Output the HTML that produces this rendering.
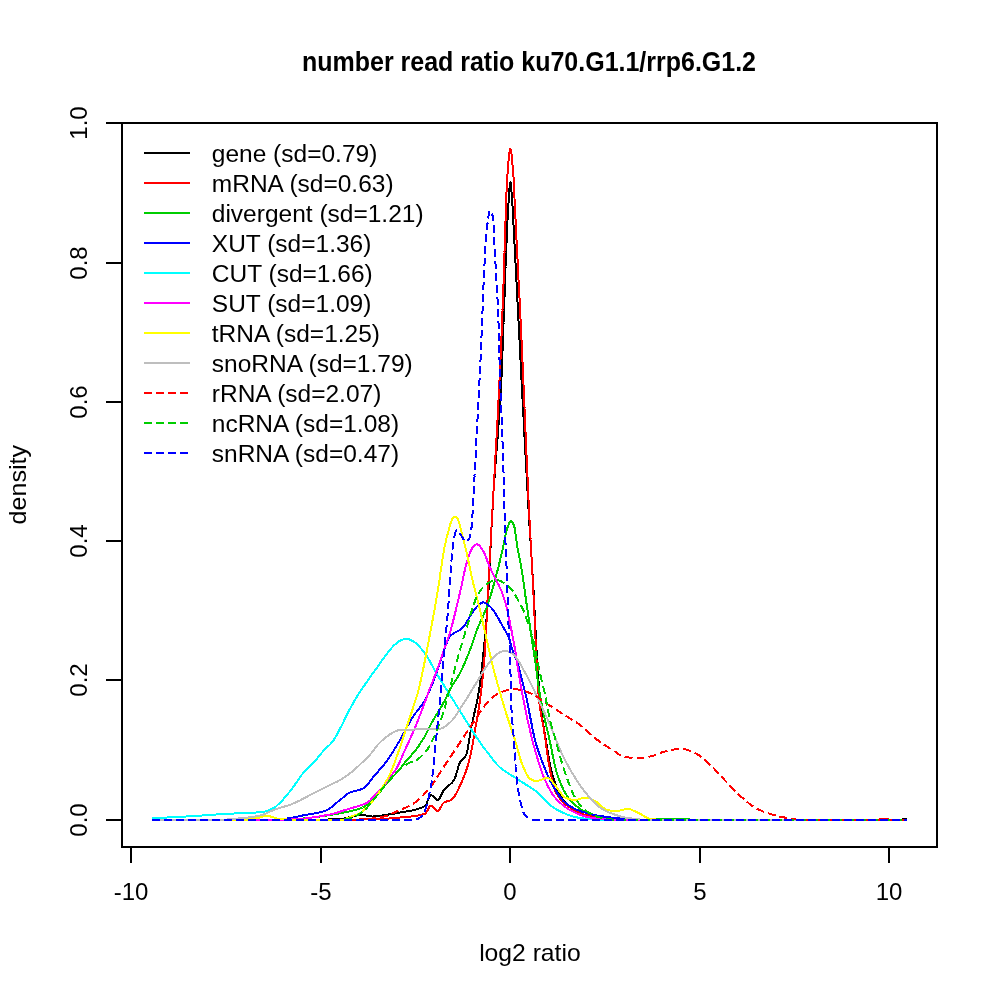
<!DOCTYPE html><html><head><meta charset="utf-8"><title>number read ratio</title><style>html,body{margin:0;padding:0;background:#fff}svg{display:block}</style></head><body><svg width="1000" height="1000" viewBox="0 0 1000 1000">
<rect width="1000" height="1000" fill="#fff"/>
<g fill="none" stroke-width="2" stroke-linejoin="round" shape-rendering="crispEdges">
<path d="M152.0 820.0 L153.5 820.0 L155.0 820.0 L156.5 820.0 L158.0 820.0 L159.5 820.0 L161.0 820.0 L162.5 820.0 L164.0 820.0 L165.5 820.0 L166.9 820.0 L168.4 820.0 L169.9 820.0 L171.4 820.0 L172.9 820.0 L174.4 820.0 L175.9 820.0 L177.4 820.0 L178.9 820.0 L180.4 820.0 L181.9 820.0 L183.4 820.0 L184.9 820.0 L186.4 820.0 L187.9 820.0 L189.4 820.0 L190.9 820.0 L192.4 820.0 L193.9 820.0 L195.4 820.0 L196.8 820.0 L198.3 820.0 L199.8 820.0 L201.3 820.0 L202.8 820.0 L204.3 820.0 L205.8 820.0 L207.3 820.0 L208.8 820.0 L210.3 820.0 L211.8 820.0 L213.3 820.0 L214.8 820.0 L216.3 820.0 L217.8 820.0 L219.3 820.0 L220.8 820.0 L222.3 820.0 L223.8 820.0 L225.3 820.0 L226.7 820.0 L228.2 820.0 L229.7 820.0 L231.2 820.0 L232.7 820.0 L234.2 820.0 L235.7 820.0 L237.2 820.0 L238.7 820.0 L240.2 820.0 L241.7 820.0 L243.2 820.0 L244.7 820.0 L246.2 820.0 L247.7 820.0 L249.2 820.0 L250.7 820.0 L252.2 820.0 L253.7 820.0 L255.2 820.0 L256.6 820.0 L258.1 820.0 L259.6 820.0 L261.1 820.0 L262.6 820.0 L264.1 820.0 L265.6 820.0 L267.1 820.0 L268.6 820.0 L270.1 820.0 L271.6 820.0 L273.1 820.0 L274.6 820.0 L276.1 820.0 L277.6 820.0 L279.1 820.0 L280.6 820.0 L282.1 820.0 L283.6 820.0 L285.1 820.0 L286.5 820.0 L288.0 820.0 L289.5 820.0 L291.0 820.0 L292.5 820.0 L294.0 820.0 L295.5 820.0 L297.0 820.0 L298.5 820.0 L300.0 820.0 L301.5 820.0 L303.0 820.0 L304.4 820.0 L305.9 820.0 L307.4 820.0 L308.9 819.9 L310.4 819.9 L311.9 819.9 L313.3 819.9 L314.8 819.9 L316.3 819.8 L317.8 819.8 L319.3 819.8 L320.7 819.7 L322.2 819.7 L323.7 819.6 L325.2 819.6 L326.7 819.5 L328.1 819.5 L329.6 819.4 L331.1 819.4 L332.6 819.3 L334.1 819.3 L335.6 819.2 L337.0 819.1 L338.5 819.1 L340.0 819.0 L341.5 818.9 L342.9 818.7 L344.4 818.5 L345.9 818.1 L347.3 817.8 L348.8 817.4 L350.3 817.1 L351.7 816.7 L353.2 816.3 L354.7 816.0 L356.1 815.6 L357.6 815.4 L359.1 815.2 L360.5 815.0 L362.0 815.0 L363.4 815.1 L364.9 815.3 L366.3 815.6 L367.7 815.9 L369.1 816.2 L370.6 816.4 L372.0 816.5 L373.4 816.5 L374.9 816.4 L376.3 816.2 L377.8 816.1 L379.2 815.9 L380.7 815.7 L382.1 815.4 L383.6 815.2 L385.0 815.0 L386.5 814.8 L388.0 814.6 L389.5 814.3 L391.0 814.1 L392.5 813.9 L394.0 813.6 L395.5 813.4 L397.0 813.1 L398.5 812.8 L400.0 812.5 L401.5 812.2 L402.9 812.0 L404.4 811.7 L405.9 811.5 L407.4 811.2 L408.8 811.0 L410.3 810.7 L411.8 810.5 L413.2 810.2 L414.7 809.8 L416.2 809.4 L417.6 809.0 L419.1 808.5 L420.6 808.0 L422.1 807.4 L423.5 806.7 L425.0 806.0 L425.8 805.2 L426.5 803.8 L427.2 802.0 L428.0 800.1 L428.8 798.2 L429.5 796.6 L430.2 795.4 L431.0 795.0 L432.3 795.5 L433.6 796.8 L434.9 798.2 L436.2 799.5 L437.5 800.0 L438.4 799.6 L439.4 798.5 L440.3 796.9 L441.2 795.1 L442.1 793.1 L443.1 791.4 L444.0 790.0 L445.4 788.4 L446.9 787.1 L448.3 786.0 L449.7 784.8 L451.1 783.5 L452.6 782.0 L454.0 780.0 L454.5 779.1 L455.0 777.9 L455.5 776.5 L456.0 774.9 L456.5 773.2 L457.0 771.4 L457.5 769.7 L458.0 768.0 L458.5 766.3 L459.0 764.8 L459.5 763.5 L460.0 762.5 L461.1 760.9 L462.2 759.7 L463.2 758.6 L464.3 757.5 L465.4 756.1 L466.5 754.0 L466.8 753.2 L467.1 752.1 L467.3 750.7 L467.6 749.2 L467.9 747.5 L468.2 745.8 L468.5 744.1 L468.8 742.5 L469.0 741.1 L469.2 739.6 L469.5 738.0 L469.8 736.5 L470.0 734.9 L470.2 733.4 L470.5 731.8 L470.8 730.4 L471.0 729.0 L471.3 727.3 L471.6 725.7 L472.0 724.2 L472.3 722.7 L472.6 721.2 L472.9 719.7 L473.2 718.3 L473.5 716.8 L473.9 715.4 L474.2 714.0 L474.5 712.5 L474.8 711.0 L475.2 709.6 L475.5 708.1 L475.8 706.7 L476.2 705.3 L476.5 703.8 L476.8 702.3 L477.2 700.7 L477.5 699.0 L477.7 697.7 L478.0 696.4 L478.2 695.1 L478.4 693.7 L478.7 692.2 L478.9 690.8 L479.1 689.2 L479.4 687.7 L479.6 686.1 L479.8 684.4 L480.1 682.7 L480.3 681.0 L480.5 679.8 L480.6 678.5 L480.8 677.2 L480.9 675.9 L481.1 674.6 L481.3 673.2 L481.4 671.8 L481.6 670.3 L481.8 668.9 L481.9 667.4 L482.1 665.9 L482.2 664.4 L482.4 662.9 L482.6 661.3 L482.7 659.8 L482.9 658.2 L483.0 656.6 L483.2 655.0 L483.3 653.7 L483.5 652.4 L483.6 651.0 L483.7 649.7 L483.9 648.4 L484.0 647.0 L484.1 645.7 L484.3 644.3 L484.4 643.0 L484.5 641.6 L484.7 640.2 L484.8 638.8 L484.9 637.4 L485.1 635.9 L485.2 634.5 L485.3 633.0 L485.5 631.5 L485.6 630.0 L485.7 628.5 L485.9 627.0 L486.0 625.4 L486.1 623.8 L486.3 622.2 L486.4 620.5 L486.5 618.9 L486.7 617.1 L486.8 615.4 L486.9 613.6 L487.1 611.8 L487.2 610.0 L487.3 608.9 L487.4 607.8 L487.4 606.6 L487.5 605.4 L487.6 604.2 L487.7 603.0 L487.7 601.8 L487.8 600.5 L487.9 599.2 L488.0 597.9 L488.1 596.5 L488.1 595.2 L488.2 593.8 L488.3 592.4 L488.4 591.0 L488.5 589.6 L488.5 588.2 L488.6 586.7 L488.7 585.2 L488.8 583.7 L488.8 582.2 L488.9 580.7 L489.0 579.2 L489.1 577.7 L489.2 576.1 L489.2 574.6 L489.3 573.0 L489.4 571.4 L489.5 569.8 L489.6 568.2 L489.6 566.6 L489.7 565.0 L489.8 563.4 L489.9 561.8 L489.9 560.2 L490.0 558.5 L490.1 556.9 L490.2 555.3 L490.3 553.6 L490.3 552.0 L490.4 550.4 L490.5 548.7 L490.6 547.1 L490.6 545.4 L490.7 543.8 L490.8 542.2 L490.9 540.5 L491.0 538.9 L491.0 537.3 L491.1 535.7 L491.2 534.1 L491.3 532.5 L491.4 530.9 L491.4 529.3 L491.5 527.7 L491.6 526.1 L491.7 524.5 L491.7 523.0 L491.8 521.4 L491.9 519.9 L492.0 518.4 L492.1 516.9 L492.1 515.4 L492.2 513.9 L492.3 512.4 L492.4 511.0 L492.5 509.6 L492.5 508.1 L492.6 506.7 L492.7 505.3 L492.8 504.0 L492.8 502.6 L492.9 501.3 L493.0 500.0 L493.1 498.3 L493.2 496.6 L493.3 495.0 L493.4 493.3 L493.5 491.7 L493.6 490.1 L493.7 488.5 L493.8 487.0 L493.9 485.4 L494.0 483.9 L494.1 482.4 L494.2 480.9 L494.3 479.5 L494.5 478.0 L494.6 476.6 L494.7 475.1 L494.8 473.7 L494.9 472.3 L495.0 470.9 L495.1 469.6 L495.2 468.2 L495.3 466.8 L495.4 465.5 L495.5 464.1 L495.6 462.8 L495.7 461.5 L495.8 460.2 L495.9 458.8 L496.0 457.5 L496.1 456.2 L496.2 454.9 L496.3 453.6 L496.4 452.3 L496.5 451.0 L496.6 449.7 L496.7 448.4 L496.8 447.1 L496.9 445.8 L497.0 444.5 L497.1 443.2 L497.3 441.8 L497.4 440.5 L497.5 439.2 L497.6 437.9 L497.7 436.5 L497.8 435.2 L497.9 433.8 L498.0 432.5 L498.1 431.1 L498.2 429.7 L498.3 428.3 L498.4 426.9 L498.5 425.5 L498.6 424.1 L498.7 422.6 L498.8 421.2 L498.9 419.7 L499.0 418.2 L499.1 416.7 L499.2 415.2 L499.3 413.6 L499.4 412.1 L499.5 410.5 L499.6 408.9 L499.7 407.3 L499.8 405.6 L500.0 404.0 L500.1 402.3 L500.2 400.6 L500.3 398.8 L500.4 397.1 L500.5 395.3 L500.6 393.5 L500.7 391.6 L500.8 389.8 L500.9 387.9 L501.0 386.0 L501.1 384.0 L501.2 382.0 L501.3 380.0 L501.4 378.9 L501.4 377.7 L501.5 376.5 L501.5 375.3 L501.6 374.1 L501.6 372.8 L501.7 371.5 L501.8 370.2 L501.8 368.8 L501.9 367.5 L501.9 366.1 L502.0 364.7 L502.0 363.2 L502.1 361.8 L502.2 360.3 L502.2 358.8 L502.3 357.3 L502.3 355.8 L502.4 354.3 L502.4 352.8 L502.5 351.2 L502.6 349.7 L502.6 348.1 L502.7 346.5 L502.7 345.0 L502.8 343.4 L502.8 341.8 L502.9 340.2 L502.9 338.6 L503.0 337.0 L503.1 335.4 L503.1 333.8 L503.2 332.2 L503.2 330.6 L503.3 329.0 L503.3 327.4 L503.4 325.8 L503.5 324.3 L503.5 322.7 L503.6 321.1 L503.6 319.6 L503.7 318.0 L503.7 316.5 L503.8 315.0 L503.9 313.5 L503.9 312.1 L504.0 310.6 L504.0 309.1 L504.1 307.6 L504.1 306.1 L504.2 304.6 L504.2 303.1 L504.3 301.6 L504.3 300.0 L504.4 298.5 L504.5 297.0 L504.5 295.4 L504.6 293.9 L504.6 292.3 L504.7 290.8 L504.7 289.2 L504.8 287.7 L504.8 286.1 L504.9 284.6 L504.9 283.1 L505.0 281.5 L505.1 280.0 L505.1 278.5 L505.2 276.9 L505.2 275.4 L505.3 273.9 L505.3 272.4 L505.4 270.9 L505.4 269.4 L505.5 267.9 L505.5 266.5 L505.6 265.0 L505.7 263.6 L505.7 262.2 L505.8 260.7 L505.8 259.3 L505.9 258.0 L505.9 256.6 L506.0 255.2 L506.0 253.9 L506.1 252.6 L506.1 251.3 L506.2 250.0 L506.3 248.3 L506.3 246.6 L506.4 244.9 L506.5 243.2 L506.6 241.5 L506.6 239.8 L506.7 238.1 L506.8 236.4 L506.9 234.8 L506.9 233.1 L507.0 231.5 L507.1 229.9 L507.2 228.3 L507.2 226.7 L507.3 225.1 L507.4 223.6 L507.4 222.1 L507.5 220.6 L507.6 219.1 L507.7 217.7 L507.7 216.2 L507.8 214.8 L507.9 213.5 L508.0 212.2 L508.0 210.9 L508.1 209.6 L508.2 208.4 L508.3 207.2 L508.3 206.1 L508.4 205.0 L508.5 203.1 L508.6 201.2 L508.8 199.2 L508.9 197.3 L509.0 195.3 L509.1 193.4 L509.3 191.6 L509.4 189.8 L509.5 188.2 L509.6 186.7 L509.8 185.4 L509.9 184.2 L510.0 183.3 L510.1 182.6 L510.3 182.2 L510.4 182.0 L510.5 182.2 L510.6 182.6 L510.8 183.3 L510.9 184.3 L511.0 185.4 L511.1 186.8 L511.3 188.3 L511.4 190.0 L511.5 191.7 L511.6 193.6 L511.8 195.5 L511.9 197.4 L512.0 199.4 L512.1 201.3 L512.3 203.2 L512.4 205.0 L512.5 206.2 L512.6 207.4 L512.6 208.6 L512.7 209.9 L512.8 211.2 L512.9 212.6 L513.0 214.0 L513.0 215.4 L513.1 216.9 L513.2 218.3 L513.3 219.8 L513.4 221.4 L513.4 222.9 L513.5 224.5 L513.6 226.1 L513.7 227.7 L513.8 229.3 L513.8 230.9 L513.9 232.5 L514.0 234.1 L514.1 235.7 L514.2 237.4 L514.2 239.0 L514.3 240.6 L514.4 242.2 L514.5 243.8 L514.6 245.4 L514.6 246.9 L514.7 248.5 L514.8 250.0 L514.9 251.5 L515.0 252.9 L515.0 254.4 L515.1 255.9 L515.2 257.3 L515.3 258.8 L515.3 260.2 L515.4 261.7 L515.5 263.2 L515.6 264.6 L515.6 266.1 L515.7 267.6 L515.8 269.0 L515.9 270.5 L516.0 272.0 L516.0 273.5 L516.1 274.9 L516.2 276.4 L516.3 277.9 L516.3 279.3 L516.4 280.8 L516.5 282.3 L516.6 283.8 L516.7 285.2 L516.7 286.7 L516.8 288.2 L516.9 289.7 L517.0 291.2 L517.0 292.6 L517.1 294.1 L517.2 295.6 L517.3 297.1 L517.4 298.6 L517.4 300.1 L517.5 301.6 L517.6 303.0 L517.7 304.5 L517.7 306.0 L517.8 307.5 L517.9 309.0 L518.0 310.5 L518.0 312.0 L518.1 313.5 L518.2 315.0 L518.3 316.5 L518.4 317.9 L518.4 319.4 L518.5 320.9 L518.6 322.3 L518.7 323.8 L518.7 325.3 L518.8 326.8 L518.9 328.2 L519.0 329.7 L519.0 331.2 L519.1 332.7 L519.2 334.2 L519.2 335.7 L519.3 337.2 L519.4 338.7 L519.5 340.1 L519.6 341.6 L519.6 343.1 L519.7 344.6 L519.8 346.1 L519.9 347.6 L519.9 349.1 L520.0 350.6 L520.1 352.1 L520.1 353.6 L520.2 355.1 L520.3 356.6 L520.4 358.0 L520.5 359.5 L520.5 361.0 L520.6 362.5 L520.7 364.0 L520.8 365.4 L520.8 366.9 L520.9 368.4 L521.0 369.9 L521.0 371.3 L521.1 372.8 L521.2 374.2 L521.3 375.7 L521.4 377.1 L521.4 378.6 L521.5 380.0 L521.6 381.6 L521.7 383.1 L521.7 384.7 L521.8 386.2 L521.9 387.8 L522.0 389.3 L522.1 390.9 L522.1 392.4 L522.2 394.0 L522.3 395.5 L522.4 397.0 L522.5 398.6 L522.6 400.1 L522.6 401.7 L522.7 403.2 L522.8 404.8 L522.9 406.3 L523.0 407.8 L523.0 409.4 L523.1 410.9 L523.2 412.4 L523.3 414.0 L523.4 415.5 L523.5 417.0 L523.5 418.6 L523.6 420.1 L523.7 421.6 L523.8 423.1 L523.9 424.7 L523.9 426.2 L524.0 427.7 L524.1 429.2 L524.2 430.7 L524.3 432.3 L524.3 433.8 L524.4 435.3 L524.5 436.8 L524.6 438.3 L524.7 439.8 L524.8 441.3 L524.8 442.8 L524.9 444.3 L525.0 445.8 L525.1 447.3 L525.2 448.8 L525.2 450.3 L525.3 451.8 L525.4 453.3 L525.5 454.8 L525.6 456.3 L525.6 457.8 L525.7 459.3 L525.8 460.7 L525.9 462.2 L526.0 463.7 L526.0 465.2 L526.1 466.7 L526.2 468.1 L526.3 469.6 L526.4 471.1 L526.5 472.5 L526.5 474.0 L526.6 475.5 L526.7 476.9 L526.8 478.4 L526.9 479.8 L526.9 481.3 L527.0 482.8 L527.1 484.2 L527.2 485.7 L527.3 487.1 L527.4 488.5 L527.4 490.0 L527.5 491.4 L527.6 492.9 L527.7 494.3 L527.8 495.7 L527.8 497.2 L527.9 498.6 L528.0 500.0 L528.1 501.6 L528.2 503.1 L528.3 504.7 L528.4 506.2 L528.4 507.7 L528.5 509.3 L528.6 510.8 L528.7 512.3 L528.8 513.8 L528.9 515.3 L529.0 516.8 L529.1 518.2 L529.2 519.7 L529.3 521.2 L529.3 522.7 L529.4 524.1 L529.5 525.6 L529.6 527.0 L529.7 528.5 L529.8 529.9 L529.9 531.4 L530.0 532.8 L530.1 534.3 L530.1 535.7 L530.2 537.1 L530.3 538.6 L530.4 540.0 L530.5 541.4 L530.6 542.9 L530.7 544.3 L530.8 545.7 L530.9 547.2 L531.0 548.6 L531.0 550.0 L531.1 551.5 L531.2 552.9 L531.3 554.4 L531.4 555.8 L531.5 557.2 L531.6 558.7 L531.7 560.1 L531.8 561.6 L531.9 563.0 L531.9 564.5 L532.0 566.0 L532.1 567.4 L532.2 568.9 L532.3 570.4 L532.4 571.9 L532.5 573.4 L532.6 574.9 L532.7 576.4 L532.7 577.9 L532.8 579.4 L532.9 581.0 L533.0 582.5 L533.1 584.0 L533.2 585.6 L533.3 587.2 L533.4 588.7 L533.5 590.3 L533.6 591.9 L533.6 593.5 L533.7 595.1 L533.8 596.7 L533.9 598.4 L534.0 600.0 L534.1 601.4 L534.1 602.8 L534.2 604.2 L534.3 605.6 L534.4 607.1 L534.4 608.6 L534.5 610.0 L534.6 611.6 L534.7 613.1 L534.7 614.6 L534.8 616.2 L534.9 617.7 L535.0 619.3 L535.0 620.8 L535.1 622.4 L535.2 623.9 L535.2 625.5 L535.3 627.1 L535.4 628.6 L535.5 630.1 L535.5 631.7 L535.6 633.2 L535.7 634.7 L535.8 636.2 L535.8 637.7 L535.9 639.2 L536.0 640.6 L536.1 642.0 L536.1 643.4 L536.2 644.8 L536.3 646.1 L536.4 647.5 L536.4 648.7 L536.5 650.0 L536.6 651.7 L536.7 653.5 L536.8 655.2 L536.9 656.9 L537.0 658.6 L537.1 660.3 L537.2 662.0 L537.3 663.7 L537.4 665.4 L537.5 667.0 L537.6 668.7 L537.7 670.3 L537.8 671.9 L537.9 673.5 L538.0 675.1 L538.1 676.6 L538.2 678.2 L538.4 679.7 L538.5 681.2 L538.6 682.6 L538.7 684.1 L538.8 685.5 L538.9 686.9 L539.0 688.2 L539.1 689.6 L539.2 690.9 L539.3 692.1 L539.4 693.4 L539.5 694.6 L539.6 695.7 L539.7 696.9 L539.8 697.9 L539.9 699.0 L540.0 700.0 L540.2 702.0 L540.4 703.9 L540.6 705.7 L540.8 707.4 L541.0 709.1 L541.2 710.8 L541.5 712.4 L541.7 713.9 L541.9 715.4 L542.1 716.9 L542.3 718.3 L542.5 719.7 L542.7 721.0 L542.9 722.4 L543.1 723.7 L543.3 725.0 L543.5 726.2 L543.8 727.5 L544.0 728.7 L544.2 730.0 L544.4 731.2 L544.6 732.5 L544.8 733.7 L545.0 735.0 L545.3 736.7 L545.6 738.4 L545.8 740.1 L546.1 741.8 L546.4 743.5 L546.7 745.2 L546.9 746.9 L547.2 748.6 L547.5 750.3 L547.8 751.9 L548.1 753.6 L548.3 755.2 L548.6 756.8 L548.9 758.3 L549.2 759.9 L549.4 761.4 L549.7 762.8 L550.0 764.3 L550.3 765.7 L550.6 767.0 L550.8 768.3 L551.1 769.6 L551.4 770.8 L551.7 771.9 L551.9 773.0 L552.2 774.0 L552.5 775.0 L553.1 777.1 L553.8 779.1 L554.4 781.0 L555.0 782.9 L555.6 784.7 L556.2 786.4 L556.9 788.0 L557.5 789.6 L558.1 791.1 L558.8 792.4 L559.4 793.8 L560.0 795.0 L560.6 796.1 L561.2 797.2 L561.9 798.1 L562.5 799.0 L563.9 800.7 L565.3 802.3 L566.7 803.7 L568.1 805.0 L569.4 806.2 L570.8 807.3 L572.2 808.3 L573.6 809.2 L575.0 810.0 L576.5 810.9 L578.0 811.7 L579.5 812.5 L581.0 813.2 L582.5 813.9 L584.0 814.6 L585.5 815.1 L587.0 815.7 L588.5 816.1 L590.0 816.5 L591.4 816.8 L592.9 817.1 L594.3 817.4 L595.7 817.7 L597.1 818.0 L598.6 818.2 L600.0 818.5 L601.4 818.7 L602.9 818.9 L604.3 819.0 L605.7 819.2 L607.1 819.3 L608.6 819.4 L610.0 819.5 L611.4 819.6 L612.9 819.6 L614.3 819.7 L615.7 819.7 L617.1 819.8 L618.6 819.8 L620.0 819.9 L621.4 819.9 L622.9 819.9 L624.3 820.0 L625.7 820.0 L627.1 820.0 L628.6 820.0 L630.0 820.0 L631.5 820.0 L633.0 820.0 L634.5 820.0 L636.0 820.0 L637.5 820.0 L639.0 820.0 L640.5 820.0 L642.0 820.0 L643.5 820.0 L645.0 820.0 L646.5 820.0 L648.0 820.0 L649.5 820.0 L651.0 820.0 L652.5 820.0 L654.0 820.0 L655.5 820.0 L657.0 820.0 L658.4 820.0 L659.9 820.0 L661.4 820.0 L662.9 820.0 L664.4 820.0 L665.9 820.0 L667.4 820.0 L668.9 820.0 L670.4 820.0 L671.9 820.0 L673.4 820.0 L674.9 820.0 L676.4 820.0 L677.9 820.0 L679.4 820.0 L680.9 820.0 L682.4 820.0 L683.9 820.0 L685.4 820.0 L686.9 820.0 L688.4 820.0 L689.9 820.0 L691.4 820.0 L692.9 820.0 L694.4 820.0 L695.9 820.0 L697.4 820.0 L698.9 820.0 L700.4 820.0 L701.9 820.0 L703.4 820.0 L704.9 820.0 L706.4 820.0 L707.9 820.0 L709.4 820.0 L710.9 820.0 L712.3 820.0 L713.8 820.0 L715.3 820.0 L716.8 820.0 L718.3 820.0 L719.8 820.0 L721.3 820.0 L722.8 820.0 L724.3 820.0 L725.8 820.0 L727.3 820.0 L728.8 820.0 L730.3 820.0 L731.8 820.0 L733.3 820.0 L734.8 820.0 L736.3 820.0 L737.8 820.0 L739.3 820.0 L740.8 820.0 L742.3 820.0 L743.8 820.0 L745.3 820.0 L746.8 820.0 L748.3 820.0 L749.8 820.0 L751.3 820.0 L752.8 820.0 L754.3 820.0 L755.8 820.0 L757.3 820.0 L758.8 820.0 L760.3 820.0 L761.8 820.0 L763.3 820.0 L764.8 820.0 L766.2 820.0 L767.7 820.0 L769.2 820.0 L770.7 820.0 L772.2 820.0 L773.7 820.0 L775.2 820.0 L776.7 820.0 L778.2 820.0 L779.7 820.0 L781.2 820.0 L782.7 820.0 L784.2 820.0 L785.7 820.0 L787.2 820.0 L788.7 820.0 L790.2 820.0 L791.7 820.0 L793.2 820.0 L794.7 820.0 L796.2 820.0 L797.7 820.0 L799.2 820.0 L800.7 820.0 L802.2 820.0 L803.7 820.0 L805.2 820.0 L806.7 820.0 L808.2 820.0 L809.7 820.0 L811.2 820.0 L812.7 820.0 L814.2 820.0 L815.7 820.0 L817.2 820.0 L818.7 820.0 L820.1 820.0 L821.6 820.0 L823.1 820.0 L824.6 820.0 L826.1 820.0 L827.6 820.0 L829.1 820.0 L830.6 820.0 L832.1 820.0 L833.6 820.0 L835.1 820.0 L836.6 820.0 L838.1 820.0 L839.6 820.0 L841.1 820.0 L842.6 820.0 L844.1 820.0 L845.6 820.0 L847.1 820.0 L848.6 820.0 L850.1 820.0 L851.6 820.0 L853.1 820.0 L854.6 820.0 L856.1 820.0 L857.6 820.0 L859.1 820.0 L860.6 820.0 L862.1 820.0 L863.6 820.0 L865.1 820.0 L866.6 820.0 L868.1 820.0 L869.6 820.0 L871.1 820.0 L872.6 820.0 L874.0 820.0 L875.5 820.0 L877.0 820.0 L878.5 820.0 L880.0 820.0 L881.5 820.0 L883.0 820.0 L884.5 820.0 L886.0 820.0 L887.5 820.0 L889.0 820.0 L890.5 820.0 L892.0 820.0 L893.5 820.0 L895.0 820.0 L896.5 820.0 L898.0 820.0 L899.5 820.0 L901.0 820.0 L902.0 819.5 L903.0 819.0 L904.3 819.0 L905.7 819.0 L907.0 819.0" stroke="#000000"/>
<path d="M152.0 820.0 L153.5 820.0 L155.0 820.0 L156.5 820.0 L158.0 820.0 L159.5 820.0 L161.0 820.0 L162.5 820.0 L164.0 820.0 L165.5 820.0 L166.9 820.0 L168.4 820.0 L169.9 820.0 L171.4 820.0 L172.9 820.0 L174.4 820.0 L175.9 820.0 L177.4 820.0 L178.9 820.0 L180.4 820.0 L181.9 820.0 L183.4 820.0 L184.9 820.0 L186.4 820.0 L187.9 820.0 L189.4 820.0 L190.9 820.0 L192.4 820.0 L193.9 820.0 L195.4 820.0 L196.8 820.0 L198.3 820.0 L199.8 820.0 L201.3 820.0 L202.8 820.0 L204.3 820.0 L205.8 820.0 L207.3 820.0 L208.8 820.0 L210.3 820.0 L211.8 820.0 L213.3 820.0 L214.8 820.0 L216.3 820.0 L217.8 820.0 L219.3 820.0 L220.8 820.0 L222.3 820.0 L223.8 820.0 L225.3 820.0 L226.7 820.0 L228.2 820.0 L229.7 820.0 L231.2 820.0 L232.7 820.0 L234.2 820.0 L235.7 820.0 L237.2 820.0 L238.7 820.0 L240.2 820.0 L241.7 820.0 L243.2 820.0 L244.7 820.0 L246.2 820.0 L247.7 820.0 L249.2 820.0 L250.7 820.0 L252.2 820.0 L253.7 820.0 L255.2 820.0 L256.6 820.0 L258.1 820.0 L259.6 820.0 L261.1 820.0 L262.6 820.0 L264.1 820.0 L265.6 820.0 L267.1 820.0 L268.6 820.0 L270.1 820.0 L271.6 820.0 L273.1 820.0 L274.6 820.0 L276.1 820.0 L277.6 820.0 L279.1 820.0 L280.6 820.0 L282.1 820.0 L283.6 820.0 L285.1 820.0 L286.5 820.0 L288.0 820.0 L289.5 820.0 L291.0 820.0 L292.5 820.0 L294.0 820.0 L295.5 820.0 L297.0 820.0 L298.5 820.0 L300.0 820.0 L301.5 820.0 L303.0 820.0 L304.4 820.0 L305.9 820.0 L307.4 820.0 L308.9 820.0 L310.4 820.0 L311.9 820.0 L313.3 820.0 L314.8 820.0 L316.3 820.0 L317.8 820.0 L319.3 819.9 L320.7 819.9 L322.2 819.9 L323.7 819.9 L325.2 819.9 L326.7 819.9 L328.1 819.9 L329.6 819.9 L331.1 819.8 L332.6 819.8 L334.1 819.8 L335.6 819.8 L337.0 819.8 L338.5 819.8 L340.0 819.8 L341.5 819.7 L343.0 819.7 L344.4 819.7 L345.9 819.7 L347.4 819.6 L348.9 819.6 L350.4 819.6 L351.9 819.6 L353.3 819.6 L354.8 819.5 L356.3 819.5 L357.8 819.5 L359.3 819.5 L360.7 819.4 L362.2 819.4 L363.7 819.4 L365.2 819.3 L366.7 819.3 L368.1 819.3 L369.6 819.2 L371.1 819.2 L372.6 819.2 L374.1 819.1 L375.6 819.1 L377.0 819.1 L378.5 819.0 L380.0 819.0 L381.4 819.0 L382.9 818.9 L384.3 818.8 L385.7 818.7 L387.1 818.7 L388.6 818.5 L390.0 818.4 L391.4 818.3 L392.9 818.2 L394.3 818.1 L395.7 817.9 L397.1 817.8 L398.6 817.6 L400.0 817.5 L401.5 817.4 L402.9 817.2 L404.4 817.1 L405.9 817.0 L407.4 816.8 L408.8 816.7 L410.3 816.6 L411.8 816.4 L413.2 816.2 L414.7 816.0 L416.2 815.8 L417.6 815.6 L419.1 815.3 L420.6 815.0 L422.1 814.6 L423.5 814.2 L425.0 813.8 L426.0 812.9 L427.0 811.3 L428.0 809.4 L429.0 807.5 L430.0 806.1 L431.0 805.5 L432.3 806.1 L433.6 807.4 L434.9 809.1 L436.2 810.4 L437.5 811.0 L438.6 810.5 L439.7 809.1 L440.8 807.2 L441.8 805.2 L442.9 803.6 L444.0 802.5 L445.4 801.9 L446.8 801.4 L448.2 801.1 L449.6 800.6 L451.0 800.0 L451.8 799.4 L452.6 798.7 L453.5 797.7 L454.3 796.6 L455.1 795.3 L455.9 793.9 L456.8 792.4 L457.6 790.8 L458.4 789.1 L459.2 787.3 L460.0 785.5 L460.9 783.7 L461.7 781.9 L462.5 780.0 L463.0 778.9 L463.5 777.7 L464.0 776.5 L464.5 775.2 L465.0 773.9 L465.5 772.5 L466.0 771.1 L466.5 769.6 L467.0 768.1 L467.5 766.5 L468.0 764.8 L468.5 763.1 L469.0 761.3 L469.5 759.4 L470.0 757.5 L470.3 756.4 L470.5 755.3 L470.8 754.0 L471.1 752.8 L471.3 751.4 L471.6 750.0 L471.8 748.6 L472.1 747.1 L472.4 745.6 L472.6 744.1 L472.9 742.5 L473.2 741.0 L473.4 739.4 L473.7 737.8 L473.9 736.2 L474.2 734.6 L474.5 733.1 L474.7 731.5 L475.0 730.0 L475.2 728.6 L475.5 727.2 L475.8 725.8 L476.0 724.4 L476.2 723.0 L476.5 721.7 L476.8 720.3 L477.0 718.9 L477.2 717.5 L477.5 716.1 L477.8 714.7 L478.0 713.2 L478.2 711.7 L478.5 710.2 L478.8 708.6 L479.0 707.0 L479.2 705.3 L479.5 703.6 L479.8 701.8 L480.0 700.0 L480.1 698.9 L480.3 697.8 L480.4 696.6 L480.6 695.5 L480.7 694.3 L480.9 693.2 L481.0 692.0 L481.2 690.8 L481.3 689.5 L481.5 688.3 L481.6 687.0 L481.8 685.8 L481.9 684.4 L482.1 683.1 L482.2 681.8 L482.4 680.4 L482.5 679.0 L482.6 677.5 L482.8 676.1 L482.9 674.6 L483.1 673.1 L483.2 671.5 L483.4 669.9 L483.5 668.3 L483.7 666.6 L483.8 664.9 L484.0 663.2 L484.1 661.4 L484.3 659.6 L484.4 657.8 L484.6 655.9 L484.7 654.0 L484.9 652.0 L485.0 650.0 L485.1 649.0 L485.1 647.9 L485.2 646.7 L485.3 645.5 L485.4 644.3 L485.4 643.0 L485.5 641.6 L485.6 640.3 L485.7 638.9 L485.7 637.4 L485.8 636.0 L485.9 634.5 L486.0 632.9 L486.0 631.4 L486.1 629.8 L486.2 628.3 L486.2 626.7 L486.3 625.1 L486.4 623.4 L486.5 621.8 L486.5 620.2 L486.6 618.6 L486.7 617.0 L486.8 615.3 L486.8 613.7 L486.9 612.1 L487.0 610.5 L487.1 609.0 L487.1 607.4 L487.2 605.9 L487.3 604.4 L487.4 602.9 L487.4 601.4 L487.5 600.0 L487.6 598.4 L487.7 596.9 L487.7 595.3 L487.8 593.7 L487.9 592.2 L488.0 590.7 L488.1 589.1 L488.2 587.6 L488.2 586.0 L488.3 584.5 L488.4 583.0 L488.5 581.5 L488.6 579.9 L488.6 578.4 L488.7 576.9 L488.8 575.4 L488.9 573.9 L489.0 572.4 L489.1 570.9 L489.1 569.4 L489.2 567.9 L489.3 566.4 L489.4 564.9 L489.5 563.4 L489.6 562.0 L489.6 560.5 L489.7 559.0 L489.8 557.5 L489.9 556.0 L490.0 554.6 L490.0 553.1 L490.1 551.6 L490.2 550.2 L490.3 548.7 L490.4 547.2 L490.5 545.7 L490.5 544.3 L490.6 542.8 L490.7 541.3 L490.8 539.9 L490.9 538.4 L490.9 537.0 L491.0 535.5 L491.1 534.0 L491.2 532.6 L491.3 531.1 L491.4 529.6 L491.4 528.2 L491.5 526.7 L491.6 525.2 L491.7 523.7 L491.8 522.3 L491.9 520.8 L491.9 519.3 L492.0 517.9 L492.1 516.4 L492.2 514.9 L492.3 513.4 L492.3 511.9 L492.4 510.5 L492.5 509.0 L492.6 507.5 L492.7 506.0 L492.8 504.5 L492.8 503.0 L492.9 501.5 L493.0 500.0 L493.1 498.5 L493.2 497.0 L493.2 495.6 L493.3 494.1 L493.4 492.6 L493.5 491.1 L493.6 489.7 L493.6 488.2 L493.7 486.8 L493.8 485.3 L493.9 483.9 L494.0 482.4 L494.1 481.0 L494.1 479.5 L494.2 478.1 L494.3 476.6 L494.4 475.2 L494.5 473.7 L494.5 472.3 L494.6 470.9 L494.7 469.4 L494.8 468.0 L494.9 466.6 L494.9 465.1 L495.0 463.7 L495.1 462.3 L495.2 460.8 L495.3 459.4 L495.4 458.0 L495.4 456.5 L495.5 455.1 L495.6 453.6 L495.7 452.2 L495.8 450.8 L495.8 449.3 L495.9 447.9 L496.0 446.4 L496.1 445.0 L496.2 443.5 L496.2 442.1 L496.3 440.6 L496.4 439.2 L496.5 437.7 L496.6 436.2 L496.7 434.8 L496.7 433.3 L496.8 431.8 L496.9 430.4 L497.0 428.9 L497.1 427.4 L497.1 425.9 L497.2 424.4 L497.3 422.9 L497.4 421.4 L497.5 419.9 L497.6 418.4 L497.6 416.9 L497.7 415.3 L497.8 413.8 L497.9 412.3 L498.0 410.7 L498.0 409.2 L498.1 407.6 L498.2 406.0 L498.3 404.5 L498.4 402.9 L498.4 401.3 L498.5 399.7 L498.6 398.1 L498.7 396.5 L498.8 394.9 L498.9 393.3 L498.9 391.7 L499.0 390.0 L499.1 388.4 L499.2 386.7 L499.3 385.0 L499.3 383.4 L499.4 381.7 L499.5 380.0 L499.6 378.7 L499.6 377.3 L499.7 376.0 L499.8 374.6 L499.8 373.3 L499.9 371.9 L499.9 370.5 L500.0 369.2 L500.1 367.8 L500.1 366.4 L500.2 365.0 L500.3 363.6 L500.3 362.2 L500.4 360.7 L500.5 359.3 L500.5 357.9 L500.6 356.4 L500.6 355.0 L500.7 353.5 L500.8 352.1 L500.8 350.6 L500.9 349.1 L501.0 347.7 L501.0 346.2 L501.1 344.7 L501.2 343.2 L501.2 341.7 L501.3 340.2 L501.3 338.6 L501.4 337.1 L501.5 335.6 L501.5 334.0 L501.6 332.5 L501.7 330.9 L501.7 329.4 L501.8 327.8 L501.9 326.2 L501.9 324.6 L502.0 323.1 L502.0 321.5 L502.1 319.9 L502.2 318.2 L502.2 316.6 L502.3 315.0 L502.4 313.7 L502.4 312.3 L502.5 310.9 L502.5 309.6 L502.6 308.2 L502.6 306.8 L502.7 305.4 L502.7 304.0 L502.8 302.6 L502.8 301.2 L502.9 299.8 L502.9 298.4 L503.0 296.9 L503.0 295.5 L503.1 294.0 L503.1 292.6 L503.2 291.1 L503.2 289.6 L503.3 288.2 L503.3 286.7 L503.4 285.2 L503.5 283.7 L503.5 282.2 L503.6 280.7 L503.6 279.2 L503.7 277.7 L503.7 276.2 L503.8 274.7 L503.8 273.1 L503.9 271.6 L503.9 270.1 L504.0 268.6 L504.0 267.0 L504.1 265.5 L504.1 264.0 L504.2 262.4 L504.2 260.9 L504.3 259.3 L504.3 257.8 L504.4 256.2 L504.4 254.7 L504.5 253.1 L504.5 251.6 L504.6 250.0 L504.6 248.6 L504.7 247.1 L504.7 245.7 L504.8 244.2 L504.8 242.7 L504.9 241.1 L504.9 239.6 L505.0 238.0 L505.0 236.5 L505.1 234.9 L505.1 233.3 L505.2 231.7 L505.2 230.1 L505.3 228.5 L505.3 226.9 L505.4 225.3 L505.4 223.7 L505.4 222.2 L505.5 220.6 L505.5 219.0 L505.6 217.5 L505.6 216.0 L505.7 214.5 L505.7 213.0 L505.8 211.6 L505.8 210.1 L505.9 208.8 L505.9 207.4 L506.0 206.1 L506.0 204.8 L506.1 203.5 L506.1 202.3 L506.2 201.1 L506.2 200.0 L506.3 198.1 L506.4 196.3 L506.4 194.5 L506.5 192.7 L506.6 190.9 L506.7 189.2 L506.8 187.5 L506.8 185.8 L506.9 184.2 L507.0 182.6 L507.1 181.1 L507.2 179.6 L507.2 178.2 L507.3 176.9 L507.4 175.6 L507.5 174.3 L507.6 173.1 L507.6 172.0 L507.7 171.0 L507.8 170.0 L508.0 167.8 L508.2 165.7 L508.4 163.5 L508.5 161.4 L508.7 159.4 L508.9 157.5 L509.1 155.7 L509.3 154.1 L509.5 152.6 L509.7 151.4 L509.8 150.4 L510.0 149.6 L510.2 149.2 L510.4 149.0 L510.6 149.2 L510.8 149.6 L511.0 150.4 L511.1 151.4 L511.3 152.6 L511.5 154.1 L511.7 155.7 L511.9 157.5 L512.1 159.4 L512.3 161.4 L512.4 163.5 L512.6 165.7 L512.8 167.8 L513.0 170.0 L513.1 171.0 L513.2 172.1 L513.2 173.2 L513.3 174.5 L513.4 175.8 L513.5 177.2 L513.6 178.7 L513.6 180.2 L513.7 181.8 L513.8 183.4 L513.9 185.0 L514.0 186.7 L514.0 188.4 L514.1 190.1 L514.2 191.8 L514.3 193.4 L514.4 195.1 L514.4 196.8 L514.5 198.4 L514.6 200.0 L514.7 201.4 L514.7 202.8 L514.8 204.2 L514.9 205.6 L515.0 207.1 L515.0 208.5 L515.1 210.0 L515.2 211.4 L515.2 212.9 L515.3 214.4 L515.4 215.9 L515.4 217.3 L515.5 218.8 L515.6 220.3 L515.7 221.8 L515.7 223.3 L515.8 224.8 L515.9 226.3 L515.9 227.8 L516.0 229.3 L516.1 230.8 L516.2 232.3 L516.2 233.8 L516.3 235.3 L516.4 236.8 L516.4 238.3 L516.5 239.8 L516.6 241.3 L516.6 242.7 L516.7 244.2 L516.8 245.7 L516.9 247.1 L516.9 248.6 L517.0 250.0 L517.1 251.5 L517.1 253.0 L517.2 254.5 L517.3 256.0 L517.4 257.5 L517.5 259.0 L517.5 260.5 L517.6 262.0 L517.7 263.4 L517.8 264.9 L517.8 266.4 L517.9 267.8 L518.0 269.3 L518.0 270.7 L518.1 272.2 L518.2 273.7 L518.3 275.1 L518.4 276.6 L518.4 278.0 L518.5 279.5 L518.6 280.9 L518.6 282.3 L518.7 283.8 L518.8 285.2 L518.9 286.7 L518.9 288.1 L519.0 289.6 L519.1 291.1 L519.2 292.5 L519.2 294.0 L519.3 295.5 L519.4 296.9 L519.5 298.4 L519.5 299.9 L519.6 301.4 L519.7 302.9 L519.8 304.3 L519.8 305.8 L519.9 307.4 L520.0 308.9 L520.1 310.4 L520.1 311.9 L520.2 313.5 L520.3 315.0 L520.4 316.4 L520.4 317.8 L520.5 319.2 L520.6 320.7 L520.6 322.1 L520.7 323.5 L520.8 325.0 L520.8 326.4 L520.9 327.8 L521.0 329.3 L521.0 330.7 L521.1 332.2 L521.2 333.6 L521.3 335.1 L521.3 336.6 L521.4 338.0 L521.5 339.5 L521.5 341.0 L521.6 342.4 L521.7 343.9 L521.7 345.4 L521.8 346.9 L521.9 348.4 L521.9 349.9 L522.0 351.3 L522.1 352.8 L522.1 354.3 L522.2 355.8 L522.3 357.3 L522.3 358.8 L522.4 360.3 L522.5 361.8 L522.5 363.3 L522.6 364.9 L522.7 366.4 L522.8 367.9 L522.8 369.4 L522.9 370.9 L523.0 372.4 L523.0 373.9 L523.1 375.4 L523.2 377.0 L523.2 378.5 L523.3 380.0 L523.4 381.5 L523.4 382.9 L523.5 384.4 L523.6 385.8 L523.6 387.3 L523.7 388.8 L523.8 390.3 L523.8 391.8 L523.9 393.3 L523.9 394.8 L524.0 396.3 L524.1 397.8 L524.1 399.3 L524.2 400.8 L524.3 402.3 L524.3 403.8 L524.4 405.4 L524.5 406.9 L524.5 408.4 L524.6 410.0 L524.7 411.5 L524.7 413.0 L524.8 414.6 L524.9 416.1 L524.9 417.7 L525.0 419.2 L525.1 420.8 L525.1 422.3 L525.2 423.9 L525.2 425.4 L525.3 427.0 L525.4 428.5 L525.4 430.1 L525.5 431.6 L525.6 433.2 L525.6 434.7 L525.7 436.3 L525.8 437.8 L525.8 439.4 L525.9 440.9 L526.0 442.5 L526.0 444.0 L526.1 445.6 L526.2 447.1 L526.2 448.6 L526.3 450.2 L526.4 451.7 L526.4 453.3 L526.5 454.8 L526.5 456.3 L526.6 457.8 L526.7 459.4 L526.7 460.9 L526.8 462.4 L526.9 463.9 L526.9 465.4 L527.0 466.9 L527.1 468.4 L527.1 469.9 L527.2 471.4 L527.3 472.9 L527.3 474.4 L527.4 475.9 L527.5 477.3 L527.5 478.8 L527.6 480.3 L527.7 481.7 L527.7 483.2 L527.8 484.6 L527.9 486.0 L527.9 487.5 L528.0 488.9 L528.0 490.3 L528.1 491.7 L528.2 493.1 L528.2 494.5 L528.3 495.9 L528.4 497.3 L528.4 498.6 L528.5 500.0 L528.6 501.6 L528.7 503.2 L528.7 504.9 L528.8 506.4 L528.9 508.0 L529.0 509.6 L529.0 511.2 L529.1 512.7 L529.2 514.3 L529.3 515.8 L529.4 517.3 L529.4 518.8 L529.5 520.3 L529.6 521.8 L529.7 523.3 L529.8 524.8 L529.8 526.3 L529.9 527.8 L530.0 529.2 L530.1 530.7 L530.1 532.2 L530.2 533.6 L530.3 535.1 L530.4 536.5 L530.5 537.9 L530.5 539.4 L530.6 540.8 L530.7 542.3 L530.8 543.7 L530.9 545.1 L530.9 546.5 L531.0 548.0 L531.1 549.4 L531.2 550.8 L531.2 552.2 L531.3 553.7 L531.4 555.1 L531.5 556.5 L531.6 557.9 L531.6 559.4 L531.7 560.8 L531.8 562.2 L531.9 563.7 L531.9 565.1 L532.0 566.6 L532.1 568.0 L532.2 569.5 L532.3 570.9 L532.3 572.4 L532.4 573.8 L532.5 575.3 L532.6 576.8 L532.7 578.3 L532.7 579.8 L532.8 581.3 L532.9 582.8 L533.0 584.3 L533.0 585.8 L533.1 587.4 L533.2 588.9 L533.3 590.5 L533.4 592.0 L533.4 593.6 L533.5 595.2 L533.6 596.8 L533.7 598.4 L533.8 600.0 L533.8 601.4 L533.9 602.8 L533.9 604.2 L534.0 605.7 L534.1 607.1 L534.1 608.6 L534.2 610.1 L534.3 611.6 L534.3 613.1 L534.4 614.6 L534.5 616.2 L534.5 617.7 L534.6 619.2 L534.7 620.8 L534.7 622.3 L534.8 623.9 L534.9 625.4 L534.9 627.0 L535.0 628.5 L535.1 630.1 L535.1 631.6 L535.2 633.1 L535.3 634.6 L535.3 636.1 L535.4 637.6 L535.5 639.0 L535.5 640.5 L535.6 641.9 L535.7 643.3 L535.7 644.7 L535.8 646.1 L535.9 647.4 L535.9 648.7 L536.0 650.0 L536.1 651.7 L536.2 653.4 L536.3 655.1 L536.4 656.8 L536.4 658.6 L536.5 660.3 L536.6 662.0 L536.7 663.8 L536.8 665.5 L536.9 667.2 L537.0 668.9 L537.1 670.6 L537.1 672.2 L537.2 673.9 L537.3 675.5 L537.4 677.2 L537.5 678.7 L537.6 680.3 L537.7 681.9 L537.8 683.4 L537.9 684.8 L537.9 686.3 L538.0 687.7 L538.1 689.0 L538.2 690.4 L538.3 691.6 L538.4 692.9 L538.5 694.1 L538.6 695.2 L538.6 696.3 L538.7 697.3 L538.8 698.3 L538.9 699.2 L539.0 700.0 L539.2 702.2 L539.5 704.3 L539.8 706.2 L540.0 708.0 L540.2 709.7 L540.5 711.2 L540.8 712.7 L541.0 714.1 L541.2 715.5 L541.5 716.8 L541.8 718.1 L542.0 719.3 L542.2 720.5 L542.5 721.8 L542.8 723.0 L543.0 724.3 L543.2 725.6 L543.5 727.0 L543.8 728.5 L544.0 730.0 L544.2 731.4 L544.4 732.9 L544.7 734.4 L544.9 735.9 L545.1 737.5 L545.3 739.0 L545.6 740.6 L545.8 742.2 L546.0 743.8 L546.2 745.5 L546.4 747.1 L546.7 748.7 L546.9 750.3 L547.1 751.9 L547.3 753.5 L547.6 755.1 L547.8 756.6 L548.0 758.2 L548.2 759.7 L548.4 761.1 L548.7 762.5 L548.9 763.9 L549.1 765.2 L549.3 766.5 L549.6 767.7 L549.8 768.9 L550.0 770.0 L550.4 771.9 L550.8 773.8 L551.2 775.7 L551.6 777.5 L552.0 779.3 L552.4 781.0 L552.8 782.7 L553.2 784.3 L553.6 785.8 L554.0 787.2 L554.4 788.5 L554.8 789.7 L555.2 790.8 L555.6 791.7 L556.0 792.5 L557.4 794.9 L558.8 797.0 L560.2 798.9 L561.6 800.6 L563.0 802.1 L564.4 803.4 L565.8 804.6 L567.2 805.6 L568.6 806.6 L570.0 807.5 L571.4 808.4 L572.9 809.2 L574.3 810.0 L575.7 810.8 L577.1 811.5 L578.6 812.2 L580.0 812.8 L581.4 813.4 L582.9 814.0 L584.3 814.5 L585.7 814.9 L587.1 815.3 L588.6 815.7 L590.0 816.0 L591.5 816.3 L592.9 816.5 L594.4 816.8 L595.9 817.0 L597.3 817.3 L598.8 817.5 L600.3 817.7 L601.7 817.8 L603.2 818.0 L604.7 818.2 L606.1 818.3 L607.6 818.4 L609.1 818.6 L610.5 818.7 L612.0 818.8 L613.5 818.8 L614.9 818.9 L616.4 819.0 L617.8 819.1 L619.3 819.1 L620.8 819.2 L622.2 819.3 L623.7 819.3 L625.2 819.4 L626.6 819.5 L628.1 819.5 L629.5 819.6 L631.0 819.6 L632.5 819.7 L633.9 819.7 L635.4 819.8 L636.8 819.8 L638.3 819.9 L639.8 819.9 L641.2 819.9 L642.7 819.9 L644.2 820.0 L645.6 820.0 L647.1 820.0 L648.5 820.0 L650.0 820.0 L651.5 820.0 L653.0 820.0 L654.5 820.0 L656.0 820.0 L657.5 820.0 L659.0 820.0 L660.5 820.0 L662.0 820.0 L663.5 820.0 L665.0 820.0 L666.5 820.0 L668.0 820.0 L669.5 820.0 L671.0 820.0 L672.5 820.0 L674.0 820.0 L675.5 820.0 L677.0 820.0 L678.5 820.0 L680.0 820.0 L681.5 820.0 L683.0 820.0 L684.5 820.0 L686.0 820.0 L687.5 820.0 L689.0 820.0 L690.5 820.0 L692.0 820.0 L693.5 820.0 L695.0 820.0 L696.5 820.0 L698.0 820.0 L699.5 820.0 L701.0 820.0 L702.5 820.0 L704.0 820.0 L705.5 820.0 L707.0 820.0 L708.5 820.0 L710.0 820.0 L711.5 820.0 L713.0 820.0 L714.5 820.0 L716.0 820.0 L717.5 820.0 L719.0 820.0 L720.5 820.0 L722.0 820.0 L723.5 820.0 L725.0 820.0 L726.5 820.0 L728.0 820.0 L729.5 820.0 L731.0 820.0 L732.5 820.0 L734.0 820.0 L735.5 820.0 L737.0 820.0 L738.5 820.0 L740.0 820.0 L741.5 820.0 L743.0 820.0 L744.5 820.0 L746.0 820.0 L747.5 820.0 L749.0 820.0 L750.5 820.0 L752.0 820.0 L753.5 820.0 L755.0 820.0 L756.5 820.0 L758.0 820.0 L759.5 820.0 L761.0 820.0 L762.5 820.0 L764.0 820.0 L765.5 820.0 L767.0 820.0 L768.5 820.0 L770.0 820.0 L771.5 820.0 L773.0 820.0 L774.5 820.0 L776.0 820.0 L777.5 820.0 L779.0 820.0 L780.5 820.0 L782.0 820.0 L783.5 820.0 L785.0 820.0 L786.5 820.0 L788.0 820.0 L789.5 820.0 L791.0 820.0 L792.5 820.0 L794.0 820.0 L795.5 820.0 L797.0 820.0 L798.5 820.0 L800.0 820.0 L801.5 820.0 L803.0 820.0 L804.5 820.0 L806.0 820.0 L807.5 820.0 L809.0 820.0 L810.5 820.0 L812.0 820.0 L813.5 820.0 L815.0 820.0 L816.5 820.0 L818.0 820.0 L819.5 820.0 L821.0 820.0 L822.5 820.0 L824.0 820.0 L825.5 820.0 L827.0 820.0 L828.5 820.0 L830.0 820.0 L831.5 820.0 L833.0 820.0 L834.5 820.0 L836.0 820.0 L837.5 820.0 L839.0 820.0 L840.5 820.0 L842.0 820.0 L843.5 820.0 L845.0 820.0 L846.5 820.0 L848.0 820.0 L849.5 820.0 L851.0 820.0 L852.5 820.0 L854.0 820.0 L855.5 820.0 L857.0 820.0 L858.5 820.0 L860.0 820.0 L861.5 820.0 L863.0 820.0 L864.5 820.0 L866.0 820.0 L867.5 820.0 L869.0 820.0 L870.5 820.0 L872.0 820.0 L873.5 820.0 L875.0 820.0 L876.5 820.0 L878.0 820.0 L879.0 819.5 L880.0 819.0 L881.3 819.0 L882.7 819.0 L884.0 819.0 L885.3 819.0 L886.7 819.0 L888.0 819.0 L889.0 819.5 L890.0 820.0 L891.4 820.0 L892.8 820.0 L894.2 820.0 L895.7 820.0 L897.1 820.0 L898.5 820.0 L899.9 820.0 L901.3 820.0 L902.8 820.0 L904.2 820.0 L905.6 820.0 L907.0 820.0" stroke="#ff0000"/>
<path d="M152.0 820.0 L153.5 820.0 L155.0 820.0 L156.5 820.0 L158.0 820.0 L159.4 820.0 L160.9 820.0 L162.4 820.0 L163.9 820.0 L165.4 820.0 L166.9 820.0 L168.4 820.0 L169.9 820.0 L171.3 820.0 L172.8 820.0 L174.3 820.0 L175.8 820.0 L177.3 820.0 L178.8 820.0 L180.3 820.0 L181.8 820.0 L183.3 820.0 L184.7 820.0 L186.2 820.0 L187.7 820.0 L189.2 820.0 L190.7 820.0 L192.2 820.0 L193.7 820.0 L195.2 820.0 L196.7 820.0 L198.1 820.0 L199.6 820.0 L201.1 820.0 L202.6 820.0 L204.1 820.0 L205.6 820.0 L207.1 820.0 L208.6 820.0 L210.0 820.0 L211.5 820.0 L213.0 820.0 L214.5 820.0 L216.0 820.0 L217.5 820.0 L219.0 820.0 L220.5 820.0 L222.0 820.0 L223.4 820.0 L224.9 820.0 L226.4 820.0 L227.9 820.0 L229.4 820.0 L230.9 820.0 L232.4 820.0 L233.9 820.0 L235.3 820.0 L236.8 820.0 L238.3 820.0 L239.8 820.0 L241.3 820.0 L242.8 820.0 L244.3 820.0 L245.8 820.0 L247.3 820.0 L248.7 820.0 L250.2 820.0 L251.7 820.0 L253.2 820.0 L254.7 820.0 L256.2 820.0 L257.7 820.0 L259.2 820.0 L260.7 820.0 L262.1 820.0 L263.6 820.0 L265.1 820.0 L266.6 820.0 L268.1 820.0 L269.6 820.0 L271.1 820.0 L272.6 820.0 L274.0 820.0 L275.5 820.0 L277.0 820.0 L278.5 820.0 L280.0 820.0 L281.4 820.0 L282.9 820.0 L284.3 819.9 L285.7 819.8 L287.1 819.8 L288.6 819.7 L290.0 819.6 L291.4 819.5 L292.9 819.4 L294.3 819.2 L295.7 819.1 L297.1 819.0 L298.6 818.9 L300.0 818.8 L301.5 818.6 L303.0 818.5 L304.5 818.3 L306.0 818.2 L307.5 818.0 L309.0 817.9 L310.5 817.7 L312.0 817.5 L313.5 817.4 L315.0 817.2 L316.5 817.0 L318.0 816.8 L319.5 816.6 L321.0 816.4 L322.5 816.2 L324.0 816.0 L325.5 815.7 L327.0 815.5 L328.5 815.3 L330.0 815.0 L331.5 814.8 L333.0 814.5 L334.5 814.3 L336.0 814.0 L337.5 813.8 L339.0 813.5 L340.4 813.2 L341.9 813.0 L343.4 812.7 L344.9 812.4 L346.3 812.1 L347.8 811.8 L349.3 811.5 L350.7 811.2 L352.2 810.8 L353.7 810.4 L355.1 810.0 L356.6 809.6 L358.1 809.1 L359.6 808.6 L361.0 808.1 L362.5 807.5 L363.9 806.8 L365.3 806.0 L366.7 805.0 L368.1 804.0 L369.4 802.8 L370.8 801.5 L372.2 800.2 L373.6 798.8 L375.0 797.5 L376.2 796.2 L377.5 794.9 L378.8 793.4 L380.0 791.9 L381.2 790.3 L382.5 788.7 L383.8 787.1 L385.0 785.5 L386.2 784.0 L387.5 782.5 L388.8 781.1 L390.1 779.7 L391.3 778.3 L392.6 777.0 L393.9 775.6 L395.2 774.3 L396.4 772.9 L397.7 771.5 L399.0 770.0 L400.1 768.6 L401.3 767.2 L402.4 765.8 L403.6 764.3 L404.7 762.8 L405.9 761.4 L407.0 760.0 L408.3 758.5 L409.7 757.0 L411.0 755.6 L412.3 754.1 L413.7 752.6 L415.0 751.0 L416.0 749.7 L417.0 748.3 L418.0 746.9 L419.0 745.5 L420.0 744.0 L420.8 742.7 L421.7 741.5 L422.5 740.2 L423.3 738.8 L424.2 737.4 L425.0 736.0 L425.7 734.7 L426.4 733.3 L427.1 731.8 L427.9 730.3 L428.6 728.8 L429.3 727.4 L430.0 726.0 L430.8 724.4 L431.7 722.9 L432.5 721.4 L433.3 719.9 L434.2 718.4 L435.0 717.0 L435.8 715.6 L436.7 714.3 L437.5 713.0 L438.3 711.7 L439.2 710.4 L440.0 709.0 L440.8 707.6 L441.7 706.1 L442.5 704.7 L443.3 703.1 L444.2 701.6 L445.0 700.0 L445.7 698.6 L446.4 697.1 L447.1 695.5 L447.9 693.9 L448.6 692.4 L449.3 690.9 L450.0 689.5 L450.9 687.9 L451.8 686.3 L452.7 684.8 L453.6 683.4 L454.5 682.0 L455.5 680.6 L456.4 679.2 L457.3 677.8 L458.2 676.3 L459.1 674.7 L460.0 673.0 L460.6 671.8 L461.2 670.5 L461.9 669.2 L462.5 667.9 L463.1 666.5 L463.8 665.2 L464.4 663.7 L465.0 662.3 L465.6 660.8 L466.2 659.3 L466.9 657.8 L467.5 656.3 L468.1 654.7 L468.8 653.2 L469.4 651.6 L470.0 650.0 L470.5 648.7 L471.0 647.3 L471.5 645.9 L472.0 644.5 L472.5 643.0 L473.0 641.5 L473.5 640.0 L474.0 638.5 L474.5 637.1 L475.0 635.6 L475.5 634.1 L476.0 632.7 L476.5 631.3 L477.0 630.0 L477.6 628.4 L478.2 626.9 L478.9 625.4 L479.5 624.0 L480.1 622.6 L480.7 621.2 L481.3 619.8 L481.9 618.4 L482.6 617.1 L483.2 615.7 L483.8 614.3 L484.4 612.9 L485.0 611.4 L485.6 609.9 L486.3 608.3 L486.9 606.7 L487.5 605.0 L487.9 603.7 L488.4 602.5 L488.8 601.1 L489.3 599.8 L489.7 598.4 L490.1 596.9 L490.6 595.5 L491.0 594.0 L491.5 592.5 L491.9 591.0 L492.4 589.5 L492.8 587.9 L493.2 586.4 L493.7 584.8 L494.1 583.2 L494.6 581.6 L495.0 580.0 L495.4 578.6 L495.8 577.2 L496.1 575.8 L496.5 574.4 L496.9 573.0 L497.2 571.5 L497.6 570.1 L498.0 568.6 L498.4 567.1 L498.8 565.6 L499.1 564.1 L499.5 562.5 L499.9 561.0 L500.2 559.4 L500.6 557.9 L501.0 556.3 L501.4 554.8 L501.8 553.2 L502.1 551.6 L502.5 550.0 L502.8 548.5 L503.2 547.0 L503.5 545.4 L503.8 543.7 L504.2 542.0 L504.5 540.3 L504.8 538.6 L505.2 536.9 L505.5 535.3 L505.8 533.7 L506.2 532.2 L506.5 530.8 L506.8 529.6 L507.2 528.5 L507.5 527.5 L508.1 525.8 L508.8 524.1 L509.4 522.6 L510.1 521.6 L510.8 521.2 L511.8 521.8 L512.8 523.1 L513.8 525.0 L514.0 525.6 L514.2 526.4 L514.5 527.5 L514.7 528.7 L514.9 530.1 L515.2 531.6 L515.4 533.2 L515.6 534.9 L515.9 536.7 L516.1 538.4 L516.3 540.2 L516.6 541.9 L516.8 543.6 L517.0 545.2 L517.3 546.7 L517.5 548.0 L517.8 549.5 L518.1 550.9 L518.4 552.3 L518.7 553.6 L519.0 554.9 L519.2 556.3 L519.5 557.6 L519.8 559.0 L520.1 560.5 L520.4 562.0 L520.6 563.3 L520.9 564.7 L521.1 566.1 L521.3 567.6 L521.6 569.0 L521.8 570.6 L522.0 572.1 L522.3 573.7 L522.5 575.2 L522.7 576.8 L523.0 578.4 L523.2 580.0 L523.4 581.4 L523.6 582.8 L523.8 584.2 L524.0 585.6 L524.2 587.0 L524.4 588.5 L524.6 590.0 L524.8 591.4 L525.0 592.9 L525.2 594.3 L525.4 595.8 L525.6 597.2 L525.8 598.6 L526.0 600.0 L526.2 601.5 L526.4 603.0 L526.7 604.4 L526.9 605.9 L527.1 607.3 L527.3 608.8 L527.5 610.2 L527.7 611.7 L528.0 613.1 L528.2 614.5 L528.4 616.0 L528.6 617.5 L528.8 618.9 L529.1 620.4 L529.3 621.8 L529.5 623.3 L529.7 624.7 L529.9 626.2 L530.1 627.6 L530.4 629.1 L530.6 630.5 L530.8 632.0 L531.0 633.5 L531.2 634.9 L531.5 636.4 L531.7 637.8 L531.9 639.3 L532.1 640.7 L532.3 642.2 L532.5 643.6 L532.8 645.1 L533.0 646.5 L533.2 648.0 L533.4 649.4 L533.6 650.9 L533.9 652.3 L534.1 653.7 L534.3 655.2 L534.5 656.6 L534.7 658.1 L534.9 659.5 L535.2 661.0 L535.4 662.5 L535.6 664.0 L535.8 665.4 L536.0 666.9 L536.2 668.4 L536.4 670.0 L536.6 671.5 L536.8 673.1 L537.0 674.7 L537.2 676.3 L537.4 677.9 L537.6 679.4 L537.8 681.0 L538.0 682.5 L538.2 683.9 L538.4 685.3 L538.6 686.7 L538.8 688.0 L539.1 689.7 L539.3 691.3 L539.6 692.9 L539.9 694.4 L540.1 695.9 L540.4 697.4 L540.7 698.8 L540.9 700.3 L541.2 701.7 L541.5 703.0 L541.7 704.4 L542.0 705.7 L542.3 707.1 L542.5 708.4 L542.8 709.7 L543.1 711.0 L543.3 712.3 L543.6 713.6 L543.9 715.2 L544.3 716.8 L544.6 718.4 L544.9 719.9 L545.3 721.4 L545.6 722.9 L546.0 724.4 L546.3 725.9 L546.6 727.3 L547.0 728.8 L547.3 730.2 L547.6 731.7 L548.0 733.1 L548.3 734.6 L548.7 736.0 L549.0 737.5 L549.3 739.0 L549.7 740.5 L550.0 742.0 L550.3 743.5 L550.6 745.0 L550.9 746.5 L551.3 748.1 L551.6 749.7 L551.9 751.3 L552.2 752.9 L552.5 754.5 L552.8 756.1 L553.2 757.7 L553.5 759.3 L553.8 760.8 L554.1 762.3 L554.4 763.7 L554.7 765.1 L555.1 766.5 L555.4 767.7 L555.7 768.9 L556.0 770.0 L556.6 772.0 L557.2 773.9 L557.8 775.7 L558.4 777.4 L559.0 779.1 L559.6 780.8 L560.2 782.3 L560.8 783.8 L561.4 785.3 L562.0 786.6 L562.6 787.9 L563.2 789.2 L563.8 790.4 L564.4 791.5 L565.0 792.5 L566.1 794.3 L567.2 796.0 L568.3 797.6 L569.4 799.1 L570.6 800.5 L571.7 801.8 L572.8 803.0 L573.9 804.0 L575.0 805.0 L576.5 806.2 L578.0 807.3 L579.5 808.4 L581.0 809.4 L582.5 810.3 L584.0 811.2 L585.5 812.0 L587.0 812.7 L588.5 813.3 L590.0 813.8 L591.5 814.2 L593.0 814.6 L594.5 815.0 L596.0 815.3 L597.5 815.7 L599.0 816.0 L600.5 816.3 L602.0 816.6 L603.5 816.8 L605.0 817.1 L606.5 817.3 L608.0 817.5 L609.5 817.7 L611.0 817.9 L612.5 818.0 L613.9 818.1 L615.4 818.3 L616.8 818.4 L618.3 818.5 L619.7 818.6 L621.2 818.7 L622.6 818.9 L624.1 819.0 L625.5 819.1 L627.0 819.2 L628.4 819.2 L629.9 819.3 L631.3 819.4 L632.8 819.5 L634.2 819.5 L635.7 819.5 L637.1 819.6 L638.6 819.6 L640.0 819.6 L641.5 819.6 L643.0 819.6 L644.5 819.6 L646.0 819.6 L647.5 819.6 L649.0 819.6 L650.5 819.6 L652.0 819.6 L653.5 819.6 L655.0 819.6 L656.4 819.5 L657.8 819.2 L659.2 819.0 L660.6 818.7 L662.0 818.6 L663.5 818.6 L665.0 818.6 L666.5 818.6 L668.0 818.6 L669.5 818.6 L671.0 818.6 L672.5 818.6 L674.0 818.6 L675.5 818.6 L677.0 818.6 L678.5 818.6 L680.0 818.6 L681.5 818.6 L683.0 818.6 L684.5 818.6 L686.0 818.6 L687.5 818.8 L689.0 819.3 L690.5 819.8 L692.0 820.0 L693.5 820.0 L695.0 820.0 L696.5 820.0 L698.0 820.0 L699.5 820.0 L701.0 820.0 L702.5 820.0 L703.9 820.0 L705.4 820.0 L706.9 820.0 L708.4 820.0 L709.9 820.0 L711.4 820.0 L712.9 820.0 L714.4 820.0 L715.9 820.0 L717.4 820.0 L718.9 820.0 L720.4 820.0 L721.9 820.0 L723.4 820.0 L724.8 820.0 L726.3 820.0 L727.8 820.0 L729.3 820.0 L730.8 820.0 L732.3 820.0 L733.8 820.0 L735.3 820.0 L736.8 820.0 L738.3 820.0 L739.8 820.0 L741.3 820.0 L742.8 820.0 L744.3 820.0 L745.8 820.0 L747.2 820.0 L748.7 820.0 L750.2 820.0 L751.7 820.0 L753.2 820.0 L754.7 820.0 L756.2 820.0 L757.7 820.0 L759.2 820.0 L760.7 820.0 L762.2 820.0 L763.7 820.0 L765.2 820.0 L766.7 820.0 L768.1 820.0 L769.6 820.0 L771.1 820.0 L772.6 820.0 L774.1 820.0 L775.6 820.0 L777.1 820.0 L778.6 820.0 L780.1 820.0 L781.6 820.0 L783.1 820.0 L784.6 820.0 L786.1 820.0 L787.6 820.0 L789.0 820.0 L790.5 820.0 L792.0 820.0 L793.5 820.0 L795.0 820.0 L796.5 820.0 L798.0 820.0 L799.5 820.0 L801.0 820.0 L802.5 820.0 L804.0 820.0 L805.5 820.0 L807.0 820.0 L808.5 820.0 L810.0 820.0 L811.4 820.0 L812.9 820.0 L814.4 820.0 L815.9 820.0 L817.4 820.0 L818.9 820.0 L820.4 820.0 L821.9 820.0 L823.4 820.0 L824.9 820.0 L826.4 820.0 L827.9 820.0 L829.4 820.0 L830.9 820.0 L832.3 820.0 L833.8 820.0 L835.3 820.0 L836.8 820.0 L838.3 820.0 L839.8 820.0 L841.3 820.0 L842.8 820.0 L844.3 820.0 L845.8 820.0 L847.3 820.0 L848.8 820.0 L850.3 820.0 L851.8 820.0 L853.2 820.0 L854.7 820.0 L856.2 820.0 L857.7 820.0 L859.2 820.0 L860.7 820.0 L862.2 820.0 L863.7 820.0 L865.2 820.0 L866.7 820.0 L868.2 820.0 L869.7 820.0 L871.2 820.0 L872.7 820.0 L874.2 820.0 L875.6 820.0 L877.1 820.0 L878.6 820.0 L880.1 820.0 L881.6 820.0 L883.1 820.0 L884.6 820.0 L886.1 820.0 L887.6 820.0 L889.1 820.0 L890.6 820.0 L892.1 820.0 L893.6 820.0 L895.1 820.0 L896.5 820.0 L898.0 820.0 L899.5 820.0 L901.0 820.0 L902.5 820.0 L904.0 820.0 L905.5 820.0 L907.0 820.0" stroke="#00cd00"/>
<path d="M152.0 820.0 L153.5 820.0 L155.0 820.0 L156.5 820.0 L158.0 820.0 L159.5 820.0 L161.0 820.0 L162.5 820.0 L164.0 820.0 L165.5 820.0 L167.0 820.0 L168.5 820.0 L170.0 820.0 L171.5 820.0 L173.0 820.0 L174.5 820.0 L176.0 820.0 L177.5 820.0 L179.0 820.0 L180.5 820.0 L182.0 820.0 L183.5 820.0 L185.0 820.0 L186.5 820.0 L188.0 820.0 L189.5 820.0 L191.0 820.0 L192.5 820.0 L194.0 820.0 L195.5 820.0 L197.0 820.0 L198.5 820.0 L200.0 820.0 L201.5 820.0 L203.0 820.0 L204.5 820.0 L206.0 820.0 L207.5 820.0 L209.0 820.0 L210.5 820.0 L212.0 820.0 L213.5 820.0 L215.0 820.0 L216.5 820.0 L218.0 820.0 L219.5 820.0 L221.0 820.0 L222.5 820.0 L224.0 820.0 L225.5 820.0 L227.0 820.0 L228.5 820.0 L230.0 820.0 L231.5 820.0 L233.0 820.0 L234.5 820.0 L236.0 820.0 L237.5 820.0 L239.0 820.0 L240.5 820.0 L242.0 820.0 L243.5 820.0 L245.0 820.0 L246.5 820.0 L248.0 820.0 L249.5 820.0 L251.0 820.0 L252.5 820.0 L254.0 820.0 L255.5 820.0 L257.0 820.0 L258.5 820.0 L260.0 820.0 L261.5 820.0 L262.9 820.0 L264.4 819.9 L265.9 819.9 L267.4 819.9 L268.8 819.8 L270.3 819.7 L271.8 819.7 L273.2 819.6 L274.7 819.5 L276.2 819.4 L277.6 819.3 L279.1 819.2 L280.6 819.1 L282.1 819.0 L283.5 818.9 L285.0 818.8 L286.4 818.6 L287.9 818.4 L289.3 818.2 L290.7 818.0 L292.1 817.7 L293.6 817.5 L295.0 817.2 L296.4 816.8 L297.9 816.5 L299.3 816.2 L300.7 815.9 L302.1 815.6 L303.6 815.3 L305.0 815.0 L306.4 814.7 L307.9 814.5 L309.3 814.2 L310.7 814.0 L312.1 813.8 L313.6 813.6 L315.0 813.3 L316.4 813.1 L317.9 812.8 L319.3 812.5 L320.7 812.2 L322.1 811.8 L323.6 811.4 L325.0 811.0 L326.5 810.4 L328.0 809.6 L329.5 808.6 L331.0 807.5 L332.5 806.3 L334.0 805.0 L335.5 803.7 L337.0 802.4 L338.5 801.2 L340.0 800.0 L341.4 798.9 L342.9 797.7 L344.3 796.5 L345.7 795.3 L347.1 794.2 L348.6 793.2 L350.0 792.5 L351.4 792.0 L352.8 791.5 L354.2 791.2 L355.6 790.8 L356.9 790.5 L358.3 790.2 L359.7 789.8 L361.1 789.3 L362.5 788.8 L363.8 788.0 L365.0 787.0 L366.2 785.8 L367.5 784.4 L368.8 782.9 L370.0 781.3 L371.2 779.7 L372.5 778.1 L373.8 776.5 L375.0 775.0 L376.2 773.6 L377.5 772.2 L378.8 770.7 L380.0 769.3 L381.2 767.8 L382.5 766.4 L383.8 764.9 L385.0 763.3 L386.2 761.7 L387.5 760.0 L388.4 758.8 L389.3 757.5 L390.2 756.1 L391.1 754.8 L392.0 753.4 L392.9 752.0 L393.8 750.5 L394.6 749.0 L395.5 747.6 L396.4 746.1 L397.3 744.5 L398.2 743.0 L399.1 741.5 L400.0 740.0 L400.8 738.6 L401.7 737.1 L402.5 735.6 L403.3 734.0 L404.2 732.5 L405.0 730.9 L405.8 729.3 L406.7 727.8 L407.5 726.2 L408.3 724.7 L409.2 723.2 L410.0 721.7 L410.8 720.2 L411.7 718.8 L412.5 717.5 L413.5 715.9 L414.6 714.4 L415.6 713.0 L416.7 711.7 L417.7 710.4 L418.8 709.1 L419.8 707.7 L420.8 706.4 L421.9 704.9 L422.9 703.4 L424.0 701.8 L425.0 700.0 L425.6 698.9 L426.2 697.7 L426.9 696.4 L427.5 695.1 L428.1 693.8 L428.8 692.4 L429.4 691.0 L430.0 689.5 L430.6 688.0 L431.2 686.5 L431.9 684.9 L432.5 683.4 L433.1 681.7 L433.8 680.1 L434.4 678.5 L435.0 676.8 L435.6 675.1 L436.2 673.4 L436.9 671.7 L437.5 670.0 L438.0 668.7 L438.4 667.3 L438.9 665.9 L439.4 664.4 L439.8 662.9 L440.3 661.4 L440.8 659.9 L441.2 658.4 L441.7 656.9 L442.1 655.4 L442.6 654.0 L443.1 652.6 L443.5 651.2 L444.0 650.0 L444.7 648.2 L445.3 646.5 L446.0 644.7 L446.7 643.0 L447.3 641.4 L448.0 639.9 L448.7 638.5 L449.3 637.4 L450.0 636.5 L451.2 635.2 L452.5 634.2 L453.8 633.3 L455.0 632.5 L456.2 631.8 L457.5 631.3 L458.8 630.7 L460.0 630.0 L461.3 628.9 L462.7 627.6 L464.0 626.0 L464.9 624.8 L465.8 623.4 L466.6 622.0 L467.5 620.5 L468.4 619.0 L469.3 617.4 L470.2 615.9 L471.1 614.4 L472.0 613.0 L473.1 611.4 L474.2 609.8 L475.3 608.4 L476.4 607.1 L477.5 606.0 L478.9 604.8 L480.2 603.6 L481.6 602.7 L483.0 602.4 L484.4 602.6 L485.8 603.3 L487.2 604.2 L488.6 605.3 L490.0 606.5 L491.0 607.5 L492.0 608.6 L493.0 610.0 L494.0 611.4 L495.0 613.0 L496.0 614.5 L496.9 615.8 L497.7 617.3 L498.6 618.8 L499.4 620.3 L500.3 621.9 L501.1 623.4 L502.0 625.0 L502.8 626.4 L503.6 627.7 L504.4 629.1 L505.2 630.4 L506.0 631.8 L506.8 633.3 L507.6 635.0 L508.4 636.8 L508.8 637.9 L509.3 639.3 L509.7 640.7 L510.2 642.2 L510.6 643.7 L511.1 645.3 L511.5 646.8 L512.0 648.2 L512.4 649.6 L513.0 651.2 L513.5 652.7 L514.1 654.1 L514.6 655.5 L515.2 656.9 L515.8 658.3 L516.3 659.7 L516.9 661.2 L517.4 662.8 L518.0 664.5 L518.4 665.7 L518.7 667.0 L519.1 668.3 L519.5 669.7 L519.8 671.1 L520.2 672.6 L520.5 674.1 L520.9 675.6 L521.3 677.1 L521.6 678.6 L522.0 680.0 L522.4 681.4 L522.7 682.8 L523.1 684.2 L523.5 685.6 L523.8 687.0 L524.2 688.5 L524.5 689.9 L524.9 691.4 L525.3 692.9 L525.6 694.4 L526.0 696.0 L526.3 697.4 L526.6 698.7 L526.9 700.2 L527.2 701.6 L527.5 703.1 L527.8 704.7 L528.1 706.2 L528.4 707.7 L528.7 709.3 L529.0 710.8 L529.3 712.4 L529.6 714.0 L529.9 715.5 L530.2 717.0 L530.5 718.5 L530.8 720.0 L531.1 721.5 L531.4 723.0 L531.7 724.5 L532.0 726.0 L532.3 727.6 L532.6 729.1 L532.9 730.6 L533.2 732.1 L533.5 733.5 L533.8 734.9 L534.1 736.3 L534.4 737.6 L534.7 738.8 L535.0 740.0 L535.5 741.8 L536.0 743.6 L536.5 745.3 L537.0 747.0 L537.5 748.6 L538.0 750.1 L538.5 751.6 L539.0 753.1 L539.5 754.5 L540.0 755.9 L540.5 757.2 L541.0 758.6 L541.5 759.9 L542.0 761.2 L542.5 762.5 L543.2 764.2 L543.8 765.9 L544.5 767.6 L545.2 769.3 L545.8 770.9 L546.5 772.5 L547.2 774.0 L547.8 775.6 L548.5 777.1 L549.2 778.5 L549.8 779.9 L550.5 781.3 L551.2 782.6 L551.8 783.8 L552.5 785.0 L553.5 786.8 L554.6 788.6 L555.6 790.3 L556.7 792.0 L557.7 793.6 L558.8 795.2 L559.8 796.7 L560.8 798.1 L561.9 799.3 L562.9 800.5 L564.0 801.6 L565.0 802.5 L566.5 803.7 L568.0 804.8 L569.5 805.8 L571.0 806.7 L572.5 807.6 L574.0 808.4 L575.5 809.2 L577.0 809.8 L578.5 810.4 L580.0 811.0 L581.4 811.5 L582.9 812.0 L584.3 812.4 L585.7 812.8 L587.1 813.2 L588.6 813.6 L590.0 814.0 L591.4 814.3 L592.9 814.7 L594.3 815.0 L595.7 815.3 L597.1 815.5 L598.6 815.8 L600.0 816.0 L601.5 816.2 L602.9 816.4 L604.4 816.7 L605.9 816.9 L607.4 817.1 L608.8 817.2 L610.3 817.4 L611.8 817.6 L613.2 817.8 L614.7 817.9 L616.2 818.1 L617.6 818.2 L619.1 818.3 L620.6 818.5 L622.1 818.6 L623.5 818.7 L625.0 818.8 L626.5 818.8 L627.9 818.9 L629.4 819.0 L630.8 819.1 L632.3 819.1 L633.8 819.2 L635.2 819.3 L636.7 819.4 L638.1 819.4 L639.6 819.5 L641.0 819.6 L642.5 819.6 L644.0 819.7 L645.4 819.7 L646.9 819.8 L648.3 819.8 L649.8 819.9 L651.2 819.9 L652.7 819.9 L654.2 820.0 L655.6 820.0 L657.1 820.0 L658.5 820.0 L660.0 820.0 L661.5 820.0 L663.0 820.0 L664.5 820.0 L666.0 820.0 L667.5 820.0 L669.0 820.0 L670.5 820.0 L672.0 820.0 L673.5 820.0 L675.0 820.0 L676.5 820.0 L678.0 820.0 L679.5 820.0 L681.0 820.0 L682.5 820.0 L684.0 820.0 L685.4 820.0 L686.9 820.0 L688.4 820.0 L689.9 820.0 L691.4 820.0 L692.9 820.0 L694.4 820.0 L695.9 820.0 L697.4 820.0 L698.9 820.0 L700.4 820.0 L701.9 820.0 L703.4 820.0 L704.9 820.0 L706.4 820.0 L707.9 820.0 L709.4 820.0 L710.9 820.0 L712.4 820.0 L713.9 820.0 L715.4 820.0 L716.9 820.0 L718.4 820.0 L719.9 820.0 L721.4 820.0 L722.9 820.0 L724.4 820.0 L725.9 820.0 L727.4 820.0 L728.9 820.0 L730.4 820.0 L731.9 820.0 L733.4 820.0 L734.8 820.0 L736.3 820.0 L737.8 820.0 L739.3 820.0 L740.8 820.0 L742.3 820.0 L743.8 820.0 L745.3 820.0 L746.8 820.0 L748.3 820.0 L749.8 820.0 L751.3 820.0 L752.8 820.0 L754.3 820.0 L755.8 820.0 L757.3 820.0 L758.8 820.0 L760.3 820.0 L761.8 820.0 L763.3 820.0 L764.8 820.0 L766.3 820.0 L767.8 820.0 L769.3 820.0 L770.8 820.0 L772.3 820.0 L773.8 820.0 L775.3 820.0 L776.8 820.0 L778.3 820.0 L779.8 820.0 L781.3 820.0 L782.8 820.0 L784.2 820.0 L785.7 820.0 L787.2 820.0 L788.7 820.0 L790.2 820.0 L791.7 820.0 L793.2 820.0 L794.7 820.0 L796.2 820.0 L797.7 820.0 L799.2 820.0 L800.7 820.0 L802.2 820.0 L803.7 820.0 L805.2 820.0 L806.7 820.0 L808.2 820.0 L809.7 820.0 L811.2 820.0 L812.7 820.0 L814.2 820.0 L815.7 820.0 L817.2 820.0 L818.7 820.0 L820.2 820.0 L821.7 820.0 L823.2 820.0 L824.7 820.0 L826.2 820.0 L827.7 820.0 L829.2 820.0 L830.7 820.0 L832.2 820.0 L833.6 820.0 L835.1 820.0 L836.6 820.0 L838.1 820.0 L839.6 820.0 L841.1 820.0 L842.6 820.0 L844.1 820.0 L845.6 820.0 L847.1 820.0 L848.6 820.0 L850.1 820.0 L851.6 820.0 L853.1 820.0 L854.6 820.0 L856.1 820.0 L857.6 820.0 L859.1 820.0 L860.6 820.0 L862.1 820.0 L863.6 820.0 L865.1 820.0 L866.6 820.0 L868.1 820.0 L869.6 820.0 L871.1 820.0 L872.6 820.0 L874.1 820.0 L875.6 820.0 L877.1 820.0 L878.6 820.0 L880.1 820.0 L881.6 820.0 L883.0 820.0 L884.5 820.0 L886.0 820.0 L887.5 820.0 L889.0 820.0 L890.5 820.0 L892.0 820.0 L893.5 820.0 L895.0 820.0 L896.5 820.0 L898.0 820.0 L899.5 820.0 L901.0 820.0 L902.5 820.0 L904.0 820.0 L905.5 820.0 L907.0 820.0" stroke="#0000ff"/>
<path d="M152.0 818.0 L153.5 818.0 L155.0 817.9 L156.5 817.9 L158.0 817.8 L159.5 817.8 L161.0 817.7 L162.5 817.7 L164.0 817.6 L165.5 817.6 L167.0 817.5 L168.4 817.4 L169.9 817.4 L171.3 817.3 L172.8 817.2 L174.2 817.2 L175.6 817.1 L177.1 817.0 L178.5 816.9 L179.9 816.8 L181.4 816.8 L182.8 816.7 L184.2 816.6 L185.7 816.5 L187.1 816.4 L188.6 816.3 L190.0 816.2 L191.5 816.2 L192.9 816.1 L194.4 816.0 L195.8 815.9 L197.3 815.8 L198.8 815.7 L200.2 815.6 L201.7 815.5 L203.1 815.4 L204.6 815.3 L206.0 815.2 L207.5 815.1 L209.0 815.0 L210.4 814.9 L211.9 814.8 L213.3 814.7 L214.8 814.6 L216.2 814.5 L217.7 814.4 L219.2 814.4 L220.6 814.3 L222.1 814.2 L223.5 814.1 L225.0 814.0 L226.5 813.9 L228.0 813.8 L229.5 813.7 L231.0 813.7 L232.5 813.6 L234.0 813.5 L235.5 813.4 L237.0 813.4 L238.5 813.3 L240.0 813.2 L241.5 813.1 L243.0 813.1 L244.5 813.0 L246.0 813.0 L247.5 812.9 L249.0 812.9 L250.5 812.8 L252.0 812.7 L253.5 812.7 L255.0 812.6 L256.5 812.5 L258.0 812.4 L259.5 812.3 L261.0 812.2 L262.4 812.0 L263.8 811.8 L265.2 811.4 L266.6 811.0 L268.0 810.5 L269.4 809.9 L270.8 809.3 L272.2 808.7 L273.6 808.0 L275.0 807.2 L276.4 806.1 L277.8 804.8 L279.2 803.5 L280.6 802.0 L282.0 800.6 L283.2 799.4 L284.3 798.1 L285.5 796.8 L286.7 795.4 L287.8 794.0 L289.0 792.5 L290.2 791.0 L291.3 789.5 L292.5 788.0 L293.6 786.6 L294.6 785.1 L295.6 783.6 L296.7 782.0 L297.8 780.5 L298.8 778.9 L299.9 777.4 L300.9 776.0 L301.9 774.6 L303.0 773.3 L304.5 771.6 L306.0 770.1 L307.5 768.7 L309.0 767.2 L310.5 765.8 L312.0 764.4 L313.5 762.8 L314.7 761.5 L315.8 760.1 L317.0 758.7 L318.2 757.2 L319.3 755.8 L320.5 754.3 L321.7 752.9 L322.8 751.5 L324.0 750.2 L325.4 748.8 L326.8 747.5 L328.2 746.2 L329.6 744.9 L331.0 743.4 L332.4 741.8 L333.2 740.7 L334.1 739.4 L334.9 738.0 L335.8 736.6 L336.6 735.1 L337.4 733.5 L338.3 731.9 L339.1 730.3 L340.0 728.7 L340.8 727.1 L341.5 725.8 L342.2 724.4 L342.9 723.0 L343.6 721.6 L344.3 720.1 L345.0 718.7 L345.7 717.3 L346.4 715.8 L347.1 714.4 L347.8 713.0 L348.5 711.6 L349.2 710.3 L350.0 708.7 L350.9 707.2 L351.7 705.7 L352.6 704.2 L353.4 702.7 L354.2 701.2 L355.1 699.8 L355.9 698.4 L356.8 697.0 L357.6 695.6 L358.5 694.1 L359.5 692.7 L360.4 691.2 L361.3 689.8 L362.3 688.4 L363.2 687.1 L364.1 685.7 L365.1 684.4 L366.0 683.0 L367.1 681.5 L368.1 680.0 L369.1 678.5 L370.2 677.0 L371.2 675.6 L372.3 674.1 L373.4 672.7 L374.4 671.2 L375.4 669.8 L376.5 668.3 L377.6 666.8 L378.6 665.3 L379.6 663.8 L380.7 662.3 L381.8 660.7 L382.8 659.2 L383.9 657.8 L384.9 656.3 L385.9 654.9 L387.0 653.6 L388.2 652.1 L389.4 650.6 L390.6 649.1 L391.8 647.7 L393.0 646.4 L394.2 645.2 L395.4 644.1 L396.7 643.1 L397.9 642.1 L399.2 641.2 L400.4 640.5 L401.7 640.0 L403.0 639.6 L404.4 639.2 L405.7 639.0 L407.0 638.9 L408.5 639.1 L409.9 639.6 L411.4 640.3 L412.8 641.1 L414.3 642.0 L415.6 642.9 L417.0 644.1 L418.3 645.4 L419.6 646.9 L421.0 648.5 L422.3 650.2 L423.7 652.0 L425.0 653.8 L425.8 654.9 L426.7 656.1 L427.5 657.4 L428.3 658.8 L429.2 660.2 L430.0 661.6 L430.8 663.1 L431.7 664.6 L432.5 666.1 L433.3 667.7 L434.2 669.2 L435.0 670.7 L435.8 672.2 L436.7 673.6 L437.5 675.0 L438.4 676.5 L439.3 677.9 L440.2 679.4 L441.1 680.8 L442.0 682.2 L442.9 683.7 L443.8 685.1 L444.6 686.5 L445.5 687.9 L446.4 689.3 L447.3 690.7 L448.2 692.2 L449.1 693.6 L450.0 695.0 L450.9 696.4 L451.8 697.9 L452.7 699.3 L453.6 700.7 L454.5 702.1 L455.4 703.6 L456.2 705.0 L457.1 706.4 L458.0 707.9 L458.9 709.3 L459.8 710.7 L460.7 712.1 L461.6 713.6 L462.5 715.0 L463.4 716.4 L464.3 717.9 L465.2 719.3 L466.1 720.8 L467.0 722.3 L467.9 723.7 L468.8 725.2 L469.6 726.6 L470.5 728.1 L471.4 729.5 L472.3 730.9 L473.2 732.3 L474.1 733.7 L475.0 735.0 L476.0 736.5 L477.1 738.1 L478.1 739.6 L479.2 741.1 L480.2 742.6 L481.2 744.1 L482.3 745.5 L483.3 747.0 L484.4 748.4 L485.4 749.8 L486.5 751.1 L487.5 752.5 L488.8 754.1 L490.0 755.8 L491.2 757.4 L492.5 759.1 L493.8 760.7 L495.0 762.2 L496.2 763.7 L497.5 765.1 L498.8 766.3 L500.0 767.5 L501.4 768.7 L502.8 769.7 L504.2 770.7 L505.6 771.6 L506.9 772.5 L508.3 773.4 L509.7 774.2 L511.1 775.1 L512.5 776.0 L513.9 776.9 L515.3 777.8 L516.7 778.7 L518.1 779.6 L519.4 780.4 L520.8 781.3 L522.2 782.2 L523.6 783.1 L525.0 784.0 L526.4 784.9 L527.8 785.8 L529.2 786.7 L530.6 787.6 L531.9 788.5 L533.3 789.4 L534.7 790.4 L536.1 791.4 L537.5 792.5 L538.9 793.7 L540.3 795.1 L541.7 796.5 L543.1 798.1 L544.4 799.6 L545.8 801.1 L547.2 802.6 L548.6 803.9 L550.0 805.0 L551.4 806.0 L552.8 807.0 L554.2 807.9 L555.6 808.8 L556.9 809.6 L558.3 810.4 L559.7 811.2 L561.1 811.9 L562.5 812.5 L563.9 813.1 L565.3 813.7 L566.7 814.3 L568.1 814.9 L569.4 815.4 L570.8 815.9 L572.2 816.3 L573.6 816.7 L575.0 817.0 L576.5 817.3 L578.0 817.6 L579.5 817.8 L581.0 818.0 L582.5 818.3 L584.0 818.5 L585.5 818.6 L587.0 818.8 L588.5 818.9 L590.0 819.0 L591.5 819.1 L593.0 819.2 L594.5 819.2 L596.0 819.3 L597.5 819.4 L599.0 819.5 L600.5 819.5 L602.0 819.6 L603.5 819.7 L605.0 819.7 L606.5 819.8 L608.0 819.8 L609.5 819.9 L611.0 819.9 L612.5 819.9 L614.0 820.0 L615.5 820.0 L617.0 820.0 L618.5 820.0 L620.0 820.0 L621.5 820.0 L623.0 820.0 L624.5 820.0 L626.0 820.0 L627.5 820.0 L629.0 820.0 L630.5 820.0 L632.0 820.0 L633.5 820.0 L634.9 820.0 L636.4 820.0 L637.9 820.0 L639.4 820.0 L640.9 820.0 L642.4 820.0 L643.9 820.0 L645.4 820.0 L646.9 820.0 L648.4 820.0 L649.9 820.0 L651.4 820.0 L652.9 820.0 L654.4 820.0 L655.9 820.0 L657.4 820.0 L658.9 820.0 L660.4 820.0 L661.9 820.0 L663.3 820.0 L664.8 820.0 L666.3 820.0 L667.8 820.0 L669.3 820.0 L670.8 820.0 L672.3 820.0 L673.8 820.0 L675.3 820.0 L676.8 820.0 L678.3 820.0 L679.8 820.0 L681.3 820.0 L682.8 820.0 L684.3 820.0 L685.8 820.0 L687.3 820.0 L688.8 820.0 L690.3 820.0 L691.8 820.0 L693.2 820.0 L694.7 820.0 L696.2 820.0 L697.7 820.0 L699.2 820.0 L700.7 820.0 L702.2 820.0 L703.7 820.0 L705.2 820.0 L706.7 820.0 L708.2 820.0 L709.7 820.0 L711.2 820.0 L712.7 820.0 L714.2 820.0 L715.7 820.0 L717.2 820.0 L718.7 820.0 L720.2 820.0 L721.6 820.0 L723.1 820.0 L724.6 820.0 L726.1 820.0 L727.6 820.0 L729.1 820.0 L730.6 820.0 L732.1 820.0 L733.6 820.0 L735.1 820.0 L736.6 820.0 L738.1 820.0 L739.6 820.0 L741.1 820.0 L742.6 820.0 L744.1 820.0 L745.6 820.0 L747.1 820.0 L748.6 820.0 L750.0 820.0 L751.5 820.0 L753.0 820.0 L754.5 820.0 L756.0 820.0 L757.5 820.0 L759.0 820.0 L760.5 820.0 L762.0 820.0 L763.5 820.0 L765.0 820.0 L766.5 820.0 L768.0 820.0 L769.5 820.0 L771.0 820.0 L772.5 820.0 L774.0 820.0 L775.5 820.0 L777.0 820.0 L778.4 820.0 L779.9 820.0 L781.4 820.0 L782.9 820.0 L784.4 820.0 L785.9 820.0 L787.4 820.0 L788.9 820.0 L790.4 820.0 L791.9 820.0 L793.4 820.0 L794.9 820.0 L796.4 820.0 L797.9 820.0 L799.4 820.0 L800.9 820.0 L802.4 820.0 L803.9 820.0 L805.4 820.0 L806.8 820.0 L808.3 820.0 L809.8 820.0 L811.3 820.0 L812.8 820.0 L814.3 820.0 L815.8 820.0 L817.3 820.0 L818.8 820.0 L820.3 820.0 L821.8 820.0 L823.3 820.0 L824.8 820.0 L826.3 820.0 L827.8 820.0 L829.3 820.0 L830.8 820.0 L832.3 820.0 L833.8 820.0 L835.2 820.0 L836.7 820.0 L838.2 820.0 L839.7 820.0 L841.2 820.0 L842.7 820.0 L844.2 820.0 L845.7 820.0 L847.2 820.0 L848.7 820.0 L850.2 820.0 L851.7 820.0 L853.2 820.0 L854.7 820.0 L856.2 820.0 L857.7 820.0 L859.2 820.0 L860.7 820.0 L862.2 820.0 L863.7 820.0 L865.1 820.0 L866.6 820.0 L868.1 820.0 L869.6 820.0 L871.1 820.0 L872.6 820.0 L874.1 820.0 L875.6 820.0 L877.1 820.0 L878.6 820.0 L880.1 820.0 L881.6 820.0 L883.1 820.0 L884.6 820.0 L886.1 820.0 L887.6 820.0 L889.1 820.0 L890.6 820.0 L892.1 820.0 L893.5 820.0 L895.0 820.0 L896.5 820.0 L898.0 820.0 L899.5 820.0 L901.0 820.0 L902.5 820.0 L904.0 820.0 L905.5 820.0 L907.0 820.0" stroke="#00ffff"/>
<path d="M152.0 820.0 L153.5 820.0 L155.0 820.0 L156.5 820.0 L157.9 820.0 L159.4 820.0 L160.9 820.0 L162.4 820.0 L163.9 820.0 L165.4 820.0 L166.8 820.0 L168.3 820.0 L169.8 820.0 L171.3 820.0 L172.8 820.0 L174.3 820.0 L175.8 820.0 L177.2 820.0 L178.7 820.0 L180.2 820.0 L181.7 820.0 L183.2 820.0 L184.7 820.0 L186.2 820.0 L187.6 820.0 L189.1 820.0 L190.6 820.0 L192.1 820.0 L193.6 820.0 L195.1 820.0 L196.5 820.0 L198.0 820.0 L199.5 820.0 L201.0 820.0 L202.5 820.0 L204.0 820.0 L205.5 820.0 L206.9 820.0 L208.4 820.0 L209.9 820.0 L211.4 820.0 L212.9 820.0 L214.4 820.0 L215.8 820.0 L217.3 820.0 L218.8 820.0 L220.3 820.0 L221.8 820.0 L223.3 820.0 L224.8 820.0 L226.2 820.0 L227.7 820.0 L229.2 820.0 L230.7 820.0 L232.2 820.0 L233.7 820.0 L235.2 820.0 L236.6 820.0 L238.1 820.0 L239.6 820.0 L241.1 820.0 L242.6 820.0 L244.1 820.0 L245.5 820.0 L247.0 820.0 L248.5 820.0 L250.0 820.0 L251.5 820.0 L253.0 820.0 L254.4 820.0 L255.9 820.0 L257.4 820.0 L258.9 820.0 L260.4 820.0 L261.9 820.0 L263.3 819.9 L264.8 819.9 L266.3 819.9 L267.8 819.9 L269.3 819.9 L270.7 819.9 L272.2 819.8 L273.7 819.8 L275.2 819.8 L276.7 819.8 L278.1 819.7 L279.6 819.7 L281.1 819.7 L282.6 819.7 L284.1 819.6 L285.6 819.6 L287.0 819.6 L288.5 819.5 L290.0 819.5 L291.5 819.5 L293.0 819.4 L294.4 819.3 L295.9 819.2 L297.4 819.1 L298.9 819.0 L300.4 818.9 L301.9 818.8 L303.3 818.6 L304.8 818.5 L306.3 818.3 L307.8 818.1 L309.3 817.9 L310.7 817.7 L312.2 817.5 L313.7 817.3 L315.2 817.1 L316.7 816.8 L318.1 816.6 L319.6 816.4 L321.1 816.1 L322.6 815.9 L324.1 815.6 L325.6 815.3 L327.0 815.1 L328.5 814.8 L330.0 814.5 L331.5 814.2 L333.0 813.8 L334.5 813.4 L336.0 812.9 L337.5 812.5 L339.0 812.0 L340.5 811.5 L342.0 811.0 L343.5 810.5 L345.0 810.0 L346.5 809.6 L348.0 809.1 L349.5 808.7 L351.0 808.3 L352.5 807.8 L354.0 807.4 L355.5 807.0 L357.0 806.5 L358.5 806.0 L360.0 805.5 L361.5 805.0 L363.0 804.5 L364.5 803.9 L366.0 803.3 L367.5 802.5 L369.0 801.4 L370.5 800.0 L372.0 798.3 L373.5 796.6 L375.0 795.0 L376.5 793.5 L378.0 792.1 L379.5 790.7 L381.0 789.2 L382.5 787.5 L383.6 786.2 L384.6 784.7 L385.7 783.2 L386.8 781.6 L387.9 780.0 L388.9 778.5 L390.0 777.0 L391.1 775.6 L392.2 774.3 L393.3 773.0 L394.4 771.6 L395.5 770.0 L396.2 768.9 L396.9 767.7 L397.5 766.4 L398.2 765.1 L398.9 763.7 L399.6 762.2 L400.2 760.7 L400.9 759.2 L401.6 757.7 L402.3 756.1 L403.0 754.5 L403.6 753.0 L404.3 751.5 L405.0 750.0 L405.6 748.6 L406.3 747.2 L406.9 745.8 L407.6 744.4 L408.2 743.0 L408.9 741.6 L409.5 740.2 L410.1 738.8 L410.8 737.4 L411.4 735.9 L412.1 734.5 L412.7 733.0 L413.4 731.5 L414.0 730.0 L414.6 728.6 L415.2 727.1 L415.8 725.6 L416.4 724.1 L417.0 722.6 L417.6 721.1 L418.2 719.6 L418.8 718.1 L419.4 716.5 L420.0 715.0 L420.6 713.6 L421.1 712.2 L421.7 710.7 L422.2 709.3 L422.8 707.9 L423.3 706.4 L423.9 705.0 L424.4 703.5 L425.0 702.0 L425.5 700.6 L426.0 699.2 L426.5 697.8 L427.0 696.4 L427.5 695.0 L428.0 693.5 L428.5 692.1 L429.0 690.7 L429.5 689.3 L430.0 688.0 L430.6 686.5 L431.1 685.1 L431.7 683.7 L432.3 682.3 L432.9 680.9 L433.4 679.5 L434.0 678.0 L434.5 676.7 L435.0 675.4 L435.5 674.1 L436.0 672.7 L436.5 671.4 L437.0 670.0 L437.5 668.6 L438.0 667.2 L438.5 665.7 L439.0 664.3 L439.5 662.8 L440.0 661.3 L440.5 659.8 L441.0 658.4 L441.5 656.9 L442.0 655.4 L442.5 653.9 L443.0 652.5 L443.5 651.0 L444.0 649.6 L444.5 648.2 L445.0 646.8 L445.5 645.5 L446.0 644.1 L446.5 642.8 L447.0 641.4 L447.5 640.0 L448.0 638.6 L448.5 637.2 L449.0 635.7 L449.5 634.1 L450.0 632.5 L450.4 631.3 L450.7 630.0 L451.1 628.7 L451.5 627.4 L451.9 626.0 L452.2 624.6 L452.6 623.2 L453.0 621.8 L453.3 620.3 L453.7 618.9 L454.1 617.4 L454.4 615.9 L454.8 614.4 L455.2 612.8 L455.6 611.3 L455.9 609.7 L456.3 608.2 L456.7 606.6 L457.0 605.0 L457.4 603.5 L457.8 601.9 L458.1 600.3 L458.5 598.7 L458.9 597.2 L459.3 595.6 L459.6 594.0 L460.0 592.5 L460.3 591.1 L460.7 589.6 L461.0 588.0 L461.4 586.5 L461.7 584.9 L462.0 583.2 L462.4 581.6 L462.7 580.0 L463.1 578.3 L463.4 576.7 L463.8 575.1 L464.1 573.5 L464.4 571.9 L464.8 570.4 L465.1 568.9 L465.5 567.4 L465.8 566.0 L466.1 564.7 L466.5 563.4 L466.8 562.2 L467.2 561.0 L467.5 560.0 L468.1 558.2 L468.8 556.4 L469.4 554.6 L470.0 552.9 L470.6 551.4 L471.2 549.9 L471.9 548.6 L472.5 547.5 L473.1 546.6 L473.8 546.0 L474.8 545.2 L475.9 544.5 L477.0 544.2 L478.4 544.8 L479.8 546.2 L481.1 548.0 L482.5 550.0 L483.1 551.0 L483.8 552.1 L484.4 553.4 L485.0 554.9 L485.6 556.4 L486.2 558.0 L486.9 559.6 L487.5 561.3 L488.1 562.9 L488.8 564.5 L489.4 566.1 L490.0 567.5 L490.7 569.0 L491.3 570.4 L492.0 571.8 L492.7 573.2 L493.3 574.6 L494.0 576.0 L494.7 577.5 L495.5 578.9 L496.2 580.3 L496.9 581.7 L497.6 583.1 L498.4 584.5 L499.1 585.9 L499.8 587.4 L500.5 589.0 L501.3 590.7 L502.0 592.5 L502.4 593.6 L502.9 594.8 L503.3 596.1 L503.7 597.4 L504.2 598.8 L504.6 600.2 L505.1 601.6 L505.5 603.1 L505.9 604.7 L506.4 606.3 L506.8 608.0 L507.1 609.2 L507.4 610.5 L507.7 611.9 L508.0 613.3 L508.3 614.8 L508.6 616.3 L509.0 617.8 L509.3 619.4 L509.6 620.9 L509.9 622.5 L510.2 624.1 L510.5 625.7 L510.8 627.2 L511.1 628.6 L511.4 630.0 L511.7 631.5 L511.9 632.9 L512.2 634.3 L512.5 635.7 L512.8 637.2 L513.1 638.7 L513.4 640.1 L513.7 641.7 L513.9 643.2 L514.2 644.8 L514.5 646.4 L514.8 648.0 L515.0 649.4 L515.3 650.8 L515.5 652.2 L515.7 653.7 L515.9 655.2 L516.2 656.7 L516.4 658.3 L516.6 659.8 L516.9 661.4 L517.1 662.9 L517.3 664.4 L517.5 665.9 L517.8 667.4 L518.0 668.8 L518.3 670.3 L518.5 671.8 L518.8 673.4 L519.0 674.8 L519.3 676.3 L519.5 677.8 L519.8 679.3 L520.0 680.7 L520.3 682.1 L520.5 683.6 L520.8 685.0 L521.0 686.4 L521.3 687.8 L521.5 689.2 L521.8 690.6 L522.0 691.9 L522.3 693.3 L522.5 694.7 L522.8 696.0 L523.1 697.6 L523.4 699.2 L523.7 700.8 L524.0 702.3 L524.3 703.9 L524.6 705.4 L524.9 707.0 L525.2 708.5 L525.5 710.0 L525.8 711.5 L526.1 712.9 L526.4 714.4 L526.7 715.8 L527.0 717.2 L527.3 718.6 L527.6 720.0 L528.0 721.7 L528.3 723.3 L528.7 724.9 L529.1 726.6 L529.5 728.2 L529.8 729.8 L530.2 731.3 L530.6 732.9 L530.9 734.4 L531.3 736.0 L531.7 737.5 L532.0 738.9 L532.4 740.4 L532.8 741.8 L533.1 743.3 L533.5 744.7 L533.9 746.0 L534.3 747.4 L534.6 748.7 L535.0 750.0 L535.5 751.7 L536.0 753.5 L536.5 755.2 L537.0 756.9 L537.5 758.5 L538.0 760.2 L538.5 761.8 L539.0 763.4 L539.5 765.0 L540.0 766.6 L540.5 768.1 L541.0 769.6 L541.5 771.0 L542.0 772.5 L542.5 773.8 L543.0 775.2 L543.5 776.4 L544.0 777.7 L544.5 778.9 L545.0 780.0 L545.8 781.8 L546.7 783.6 L547.5 785.3 L548.3 787.0 L549.2 788.5 L550.0 790.1 L550.8 791.5 L551.7 792.9 L552.5 794.2 L553.3 795.4 L554.2 796.5 L555.0 797.5 L556.5 799.2 L558.0 800.8 L559.5 802.3 L561.0 803.6 L562.5 804.9 L564.0 806.1 L565.5 807.2 L567.0 808.2 L568.5 809.2 L570.0 810.0 L571.4 810.7 L572.9 811.5 L574.3 812.2 L575.7 812.9 L577.1 813.5 L578.6 814.1 L580.0 814.7 L581.4 815.3 L582.9 815.8 L584.3 816.2 L585.7 816.6 L587.1 817.0 L588.6 817.3 L590.0 817.5 L591.5 817.7 L593.0 817.9 L594.5 818.1 L596.0 818.3 L597.5 818.5 L599.0 818.7 L600.5 818.8 L602.0 819.0 L603.5 819.1 L605.0 819.3 L606.5 819.4 L608.0 819.5 L609.5 819.6 L611.0 819.7 L612.5 819.8 L614.0 819.9 L615.5 819.9 L617.0 820.0 L618.5 820.0 L620.0 820.0 L621.5 820.0 L623.0 820.0 L624.5 820.0 L626.0 820.0 L627.5 820.0 L629.0 820.0 L630.5 820.0 L632.0 820.0 L633.5 820.0 L634.9 820.0 L636.4 820.0 L637.9 820.0 L639.4 820.0 L640.9 820.0 L642.4 820.0 L643.9 820.0 L645.4 820.0 L646.9 820.0 L648.4 820.0 L649.9 820.0 L651.4 820.0 L652.9 820.0 L654.4 820.0 L655.9 820.0 L657.4 820.0 L658.9 820.0 L660.4 820.0 L661.9 820.0 L663.3 820.0 L664.8 820.0 L666.3 820.0 L667.8 820.0 L669.3 820.0 L670.8 820.0 L672.3 820.0 L673.8 820.0 L675.3 820.0 L676.8 820.0 L678.3 820.0 L679.8 820.0 L681.3 820.0 L682.8 820.0 L684.3 820.0 L685.8 820.0 L687.3 820.0 L688.8 820.0 L690.3 820.0 L691.8 820.0 L693.2 820.0 L694.7 820.0 L696.2 820.0 L697.7 820.0 L699.2 820.0 L700.7 820.0 L702.2 820.0 L703.7 820.0 L705.2 820.0 L706.7 820.0 L708.2 820.0 L709.7 820.0 L711.2 820.0 L712.7 820.0 L714.2 820.0 L715.7 820.0 L717.2 820.0 L718.7 820.0 L720.2 820.0 L721.6 820.0 L723.1 820.0 L724.6 820.0 L726.1 820.0 L727.6 820.0 L729.1 820.0 L730.6 820.0 L732.1 820.0 L733.6 820.0 L735.1 820.0 L736.6 820.0 L738.1 820.0 L739.6 820.0 L741.1 820.0 L742.6 820.0 L744.1 820.0 L745.6 820.0 L747.1 820.0 L748.6 820.0 L750.0 820.0 L751.5 820.0 L753.0 820.0 L754.5 820.0 L756.0 820.0 L757.5 820.0 L759.0 820.0 L760.5 820.0 L762.0 820.0 L763.5 820.0 L765.0 820.0 L766.5 820.0 L768.0 820.0 L769.5 820.0 L771.0 820.0 L772.5 820.0 L774.0 820.0 L775.5 820.0 L777.0 820.0 L778.4 820.0 L779.9 820.0 L781.4 820.0 L782.9 820.0 L784.4 820.0 L785.9 820.0 L787.4 820.0 L788.9 820.0 L790.4 820.0 L791.9 820.0 L793.4 820.0 L794.9 820.0 L796.4 820.0 L797.9 820.0 L799.4 820.0 L800.9 820.0 L802.4 820.0 L803.9 820.0 L805.4 820.0 L806.8 820.0 L808.3 820.0 L809.8 820.0 L811.3 820.0 L812.8 820.0 L814.3 820.0 L815.8 820.0 L817.3 820.0 L818.8 820.0 L820.3 820.0 L821.8 820.0 L823.3 820.0 L824.8 820.0 L826.3 820.0 L827.8 820.0 L829.3 820.0 L830.8 820.0 L832.3 820.0 L833.8 820.0 L835.2 820.0 L836.7 820.0 L838.2 820.0 L839.7 820.0 L841.2 820.0 L842.7 820.0 L844.2 820.0 L845.7 820.0 L847.2 820.0 L848.7 820.0 L850.2 820.0 L851.7 820.0 L853.2 820.0 L854.7 820.0 L856.2 820.0 L857.7 820.0 L859.2 820.0 L860.7 820.0 L862.2 820.0 L863.7 820.0 L865.1 820.0 L866.6 820.0 L868.1 820.0 L869.6 820.0 L871.1 820.0 L872.6 820.0 L874.1 820.0 L875.6 820.0 L877.1 820.0 L878.6 820.0 L880.1 820.0 L881.6 820.0 L883.1 820.0 L884.6 820.0 L886.1 820.0 L887.6 820.0 L889.1 820.0 L890.6 820.0 L892.1 820.0 L893.5 820.0 L895.0 820.0 L896.5 820.0 L898.0 820.0 L899.5 820.0 L901.0 820.0 L902.5 820.0 L904.0 820.0 L905.5 820.0 L907.0 820.0" stroke="#ff00ff"/>
<path d="M152.0 820.0 L153.5 820.0 L155.0 820.0 L156.5 820.0 L158.0 820.0 L159.5 820.0 L160.9 820.0 L162.4 820.0 L163.9 820.0 L165.4 820.0 L166.9 820.0 L168.4 820.0 L169.9 820.0 L171.4 820.0 L172.9 820.0 L174.4 820.0 L175.9 820.0 L177.4 820.0 L178.8 820.0 L180.3 820.0 L181.8 820.0 L183.3 820.0 L184.8 820.0 L186.3 820.0 L187.8 820.0 L189.3 820.0 L190.8 820.0 L192.3 820.0 L193.8 820.0 L195.3 820.0 L196.7 820.0 L198.2 820.0 L199.7 820.0 L201.2 820.0 L202.7 820.0 L204.2 820.0 L205.7 820.0 L207.2 820.0 L208.7 820.0 L210.2 820.0 L211.7 820.0 L213.2 820.0 L214.6 820.0 L216.1 820.0 L217.6 820.0 L219.1 820.0 L220.6 820.0 L222.1 820.0 L223.6 820.0 L225.1 820.0 L226.6 820.0 L228.1 820.0 L229.6 820.0 L231.1 820.0 L232.5 820.0 L234.0 820.0 L235.5 820.0 L237.0 820.0 L238.5 820.0 L240.0 820.0 L241.5 820.0 L243.0 819.9 L244.5 819.8 L246.0 819.7 L247.5 819.5 L249.0 819.3 L250.5 819.1 L252.0 818.9 L253.5 818.7 L255.0 818.5 L256.5 818.2 L258.0 817.9 L259.5 817.5 L261.0 817.0 L262.5 816.6 L264.0 816.3 L265.5 816.1 L267.0 816.0 L268.4 816.1 L269.9 816.3 L271.3 816.7 L272.8 817.1 L274.2 817.6 L275.7 818.1 L277.1 818.5 L278.6 818.8 L280.0 819.0 L281.4 819.1 L282.9 819.2 L284.3 819.3 L285.7 819.4 L287.1 819.5 L288.6 819.6 L290.0 819.7 L291.4 819.8 L292.9 819.8 L294.3 819.9 L295.7 819.9 L297.1 820.0 L298.6 820.0 L300.0 820.0 L301.5 820.0 L302.9 820.0 L304.4 820.0 L305.9 820.0 L307.3 820.0 L308.8 820.0 L310.2 820.0 L311.7 820.0 L313.2 820.0 L314.6 820.0 L316.1 820.0 L317.6 820.0 L319.0 820.0 L320.5 820.0 L322.0 820.0 L323.4 820.0 L324.9 820.0 L326.4 820.0 L327.8 820.0 L329.3 820.0 L330.8 820.0 L332.2 820.0 L333.7 820.0 L335.1 820.0 L336.6 820.0 L338.1 820.0 L339.5 820.0 L341.0 820.0 L342.5 819.9 L344.0 819.5 L345.5 818.9 L347.0 818.3 L348.5 817.6 L350.0 817.0 L351.4 816.5 L352.9 816.0 L354.3 815.5 L355.7 815.0 L357.1 814.4 L358.6 813.7 L360.0 813.0 L361.5 812.1 L363.0 811.0 L364.5 809.8 L366.0 808.4 L367.5 807.0 L368.8 805.7 L370.0 804.3 L371.2 802.8 L372.5 801.3 L373.8 799.6 L375.0 798.0 L375.9 796.7 L376.9 795.4 L377.8 794.1 L378.8 792.8 L379.7 791.4 L380.6 789.9 L381.6 788.5 L382.5 787.0 L383.3 785.7 L384.2 784.4 L385.0 783.0 L385.8 781.7 L386.7 780.3 L387.5 778.8 L388.3 777.3 L389.2 775.7 L390.0 774.0 L390.6 772.8 L391.2 771.5 L391.7 770.1 L392.3 768.7 L392.9 767.2 L393.5 765.7 L394.0 764.1 L394.6 762.6 L395.2 761.0 L395.8 759.3 L396.3 757.7 L396.9 756.1 L397.5 754.5 L398.0 753.1 L398.5 751.7 L399.0 750.2 L399.5 748.7 L400.0 747.2 L400.5 745.7 L401.0 744.2 L401.5 742.7 L402.0 741.2 L402.5 739.6 L403.0 738.1 L403.5 736.6 L404.0 735.0 L404.5 733.5 L405.0 732.0 L405.5 730.5 L406.0 729.0 L406.5 727.5 L407.0 726.0 L407.5 724.6 L408.0 723.1 L408.5 721.6 L409.0 720.1 L409.5 718.6 L410.0 717.1 L410.5 715.6 L411.0 714.1 L411.5 712.6 L412.0 711.1 L412.5 709.5 L413.0 708.1 L413.4 706.6 L413.9 705.2 L414.3 703.8 L414.8 702.4 L415.3 701.0 L415.7 699.5 L416.2 698.0 L416.7 696.5 L417.1 695.0 L417.6 693.4 L418.0 691.7 L418.5 690.0 L418.8 688.7 L419.1 687.5 L419.5 686.1 L419.8 684.7 L420.1 683.3 L420.4 681.9 L420.8 680.4 L421.1 679.0 L421.4 677.5 L421.7 675.9 L422.1 674.4 L422.4 672.8 L422.7 671.3 L423.0 669.7 L423.4 668.1 L423.7 666.6 L424.0 665.0 L424.3 663.6 L424.6 662.2 L424.9 660.8 L425.1 659.4 L425.4 657.9 L425.7 656.5 L426.0 655.0 L426.3 653.6 L426.6 652.1 L426.9 650.6 L427.1 649.1 L427.4 647.6 L427.7 646.1 L428.0 644.6 L428.3 643.1 L428.6 641.6 L428.9 640.1 L429.1 638.6 L429.4 637.0 L429.7 635.5 L430.0 634.0 L430.3 632.6 L430.5 631.1 L430.8 629.7 L431.1 628.3 L431.3 626.8 L431.6 625.4 L431.9 624.0 L432.1 622.5 L432.4 621.1 L432.7 619.6 L432.9 618.2 L433.2 616.7 L433.5 615.3 L433.8 613.8 L434.0 612.3 L434.3 610.8 L434.6 609.3 L434.8 607.9 L435.1 606.4 L435.4 604.9 L435.6 603.3 L435.9 601.8 L436.2 600.3 L436.4 598.7 L436.7 597.2 L437.0 595.6 L437.2 594.1 L437.5 592.5 L437.7 591.1 L438.0 589.7 L438.2 588.2 L438.4 586.7 L438.7 585.2 L438.9 583.7 L439.1 582.1 L439.4 580.5 L439.6 578.9 L439.8 577.3 L440.1 575.7 L440.3 574.1 L440.5 572.5 L440.8 570.9 L441.0 569.3 L441.2 567.7 L441.5 566.1 L441.7 564.5 L442.0 562.9 L442.2 561.4 L442.4 559.8 L442.7 558.3 L442.9 556.8 L443.1 555.4 L443.4 553.9 L443.6 552.5 L443.8 551.2 L444.1 549.9 L444.3 548.6 L444.5 547.3 L444.8 546.1 L445.0 545.0 L445.4 543.3 L445.7 541.7 L446.1 540.2 L446.4 538.7 L446.8 537.3 L447.1 535.9 L447.5 534.5 L447.9 533.2 L448.2 531.9 L448.6 530.6 L448.9 529.3 L449.3 528.0 L449.7 526.6 L450.1 525.2 L450.4 523.8 L450.8 522.6 L451.2 521.5 L451.8 520.0 L452.4 518.8 L453.0 518.0 L454.0 517.3 L455.0 517.0 L456.0 517.3 L457.0 518.0 L457.6 518.8 L458.1 520.0 L458.7 521.5 L459.1 522.6 L459.4 523.8 L459.8 525.2 L460.1 526.6 L460.5 528.0 L460.9 529.4 L461.2 530.8 L461.6 532.2 L462.0 533.6 L462.3 535.0 L462.7 536.5 L463.1 537.9 L463.4 539.4 L463.8 540.9 L464.2 542.3 L464.5 543.8 L464.9 545.4 L465.3 546.9 L465.6 548.4 L466.0 550.0 L466.3 551.4 L466.6 552.8 L467.0 554.3 L467.3 555.8 L467.6 557.3 L467.9 558.8 L468.3 560.3 L468.6 561.9 L468.9 563.4 L469.2 565.0 L469.6 566.5 L469.9 568.1 L470.2 569.6 L470.6 571.2 L470.9 572.7 L471.2 574.2 L471.5 575.7 L471.9 577.1 L472.2 578.6 L472.5 580.0 L472.9 581.6 L473.2 583.2 L473.6 584.7 L474.0 586.2 L474.4 587.7 L474.8 589.2 L475.1 590.7 L475.5 592.2 L475.9 593.6 L476.2 595.1 L476.6 596.5 L477.0 598.0 L477.4 599.4 L477.8 600.9 L478.1 602.4 L478.5 603.9 L478.9 605.4 L479.2 606.9 L479.6 608.4 L480.0 610.0 L480.3 611.4 L480.7 612.8 L481.0 614.3 L481.3 615.7 L481.7 617.2 L482.0 618.7 L482.3 620.1 L482.7 621.6 L483.0 623.1 L483.3 624.6 L483.7 626.1 L484.0 627.6 L484.3 629.1 L484.7 630.5 L485.0 632.0 L485.3 633.5 L485.7 635.0 L486.0 636.5 L486.4 638.1 L486.7 639.6 L487.0 641.2 L487.4 642.7 L487.7 644.3 L488.1 645.8 L488.4 647.3 L488.8 648.9 L489.1 650.4 L489.4 651.9 L489.8 653.4 L490.1 654.9 L490.5 656.4 L490.8 657.9 L491.1 659.4 L491.5 660.8 L491.8 662.2 L492.2 663.6 L492.5 665.0 L492.9 666.6 L493.3 668.1 L493.7 669.6 L494.1 671.2 L494.5 672.7 L494.9 674.1 L495.3 675.6 L495.7 677.1 L496.1 678.5 L496.4 679.9 L496.8 681.4 L497.2 682.8 L497.6 684.2 L498.0 685.6 L498.4 687.0 L498.8 688.4 L499.2 689.7 L499.6 691.1 L500.0 692.5 L500.4 694.0 L500.9 695.6 L501.3 697.1 L501.8 698.6 L502.2 700.1 L502.6 701.6 L503.1 703.1 L503.5 704.6 L504.0 706.0 L504.4 707.5 L504.9 709.0 L505.3 710.4 L505.7 711.8 L506.2 713.3 L506.6 714.7 L507.1 716.1 L507.5 717.5 L508.0 719.1 L508.5 720.6 L509.0 722.1 L509.5 723.6 L510.0 725.1 L510.5 726.6 L511.0 728.0 L511.5 729.5 L512.0 730.9 L512.5 732.4 L513.0 733.9 L513.5 735.4 L514.0 736.9 L514.5 738.4 L515.0 740.0 L515.4 741.4 L515.9 742.9 L516.3 744.4 L516.8 746.0 L517.2 747.6 L517.6 749.2 L518.1 750.8 L518.5 752.4 L519.0 754.0 L519.4 755.6 L519.9 757.1 L520.3 758.6 L520.7 760.1 L521.2 761.4 L521.6 762.7 L522.1 763.9 L522.5 765.0 L523.2 766.8 L524.0 768.6 L524.8 770.3 L525.5 772.0 L526.2 773.5 L527.0 775.0 L527.8 776.2 L528.5 777.3 L529.2 778.2 L530.0 778.8 L531.5 779.6 L533.0 780.3 L534.5 780.8 L536.0 781.0 L537.4 780.9 L538.9 780.5 L540.3 780.1 L541.8 779.5 L543.2 778.9 L544.6 778.5 L546.1 778.1 L547.5 778.0 L549.0 778.5 L550.5 779.7 L552.0 781.4 L553.5 783.3 L555.0 785.0 L556.1 786.3 L557.2 787.8 L558.3 789.5 L559.4 791.2 L560.6 792.9 L561.7 794.4 L562.8 795.8 L563.9 796.8 L565.0 797.5 L566.4 798.1 L567.9 798.6 L569.3 799.1 L570.7 799.5 L572.1 799.7 L573.6 799.9 L575.0 800.0 L576.4 799.9 L577.8 799.6 L579.1 799.2 L580.5 798.8 L581.9 798.3 L583.2 797.9 L584.6 797.6 L586.0 797.5 L587.5 797.7 L589.0 798.1 L590.5 798.7 L592.0 799.4 L593.5 800.2 L595.0 801.0 L596.4 801.8 L597.8 802.9 L599.2 804.1 L600.6 805.3 L601.9 806.6 L603.3 807.8 L604.7 808.8 L606.1 809.5 L607.5 810.0 L608.9 810.3 L610.3 810.5 L611.8 810.7 L613.2 810.9 L614.6 811.0 L616.0 811.0 L617.5 810.9 L619.0 810.7 L620.5 810.4 L622.0 810.0 L623.5 809.6 L625.0 809.3 L626.5 809.1 L628.0 809.0 L629.4 809.1 L630.7 809.5 L632.1 810.0 L633.4 810.6 L634.8 811.2 L636.1 811.9 L637.5 812.5 L638.9 813.2 L640.3 813.9 L641.7 814.8 L643.1 815.6 L644.4 816.5 L645.8 817.2 L647.2 817.9 L648.6 818.4 L650.0 818.8 L651.5 819.0 L653.0 819.2 L654.5 819.3 L656.0 819.5 L657.5 819.6 L659.0 819.8 L660.5 819.9 L662.0 819.9 L663.5 820.0 L665.0 820.0 L666.5 820.0 L668.0 820.0 L669.5 820.0 L671.0 820.0 L672.5 820.0 L674.0 820.0 L675.5 820.0 L677.0 820.0 L678.4 820.0 L679.9 820.0 L681.4 820.0 L682.9 820.0 L684.4 820.0 L685.9 820.0 L687.4 820.0 L688.9 820.0 L690.4 820.0 L691.9 820.0 L693.4 820.0 L694.9 820.0 L696.4 820.0 L697.9 820.0 L699.4 820.0 L700.9 820.0 L702.3 820.0 L703.8 820.0 L705.3 820.0 L706.8 820.0 L708.3 820.0 L709.8 820.0 L711.3 820.0 L712.8 820.0 L714.3 820.0 L715.8 820.0 L717.3 820.0 L718.8 820.0 L720.3 820.0 L721.8 820.0 L723.3 820.0 L724.8 820.0 L726.2 820.0 L727.7 820.0 L729.2 820.0 L730.7 820.0 L732.2 820.0 L733.7 820.0 L735.2 820.0 L736.7 820.0 L738.2 820.0 L739.7 820.0 L741.2 820.0 L742.7 820.0 L744.2 820.0 L745.7 820.0 L747.2 820.0 L748.7 820.0 L750.1 820.0 L751.6 820.0 L753.1 820.0 L754.6 820.0 L756.1 820.0 L757.6 820.0 L759.1 820.0 L760.6 820.0 L762.1 820.0 L763.6 820.0 L765.1 820.0 L766.6 820.0 L768.1 820.0 L769.6 820.0 L771.1 820.0 L772.6 820.0 L774.0 820.0 L775.5 820.0 L777.0 820.0 L778.5 820.0 L780.0 820.0 L781.5 820.0 L783.0 820.0 L784.5 820.0 L786.0 820.0 L787.5 820.0 L789.0 820.0 L790.5 820.0 L792.0 820.0 L793.5 820.0 L795.0 820.0 L796.5 820.0 L798.0 820.0 L799.4 820.0 L800.9 820.0 L802.4 820.0 L803.9 820.0 L805.4 820.0 L806.9 820.0 L808.4 820.0 L809.9 820.0 L811.4 820.0 L812.9 820.0 L814.4 820.0 L815.9 820.0 L817.4 820.0 L818.9 820.0 L820.4 820.0 L821.9 820.0 L823.3 820.0 L824.8 820.0 L826.3 820.0 L827.8 820.0 L829.3 820.0 L830.8 820.0 L832.3 820.0 L833.8 820.0 L835.3 820.0 L836.8 820.0 L838.3 820.0 L839.8 820.0 L841.3 820.0 L842.8 820.0 L844.3 820.0 L845.8 820.0 L847.2 820.0 L848.7 820.0 L850.2 820.0 L851.7 820.0 L853.2 820.0 L854.7 820.0 L856.2 820.0 L857.7 820.0 L859.2 820.0 L860.7 820.0 L862.2 820.0 L863.7 820.0 L865.2 820.0 L866.7 820.0 L868.2 820.0 L869.7 820.0 L871.1 820.0 L872.6 820.0 L874.1 820.0 L875.6 820.0 L877.1 820.0 L878.6 820.0 L880.1 820.0 L881.6 820.0 L883.1 820.0 L884.6 820.0 L886.1 820.0 L887.6 820.0 L889.1 820.0 L890.6 820.0 L892.1 820.0 L893.6 820.0 L895.0 820.0 L896.5 820.0 L898.0 820.0 L899.5 820.0 L901.0 820.0 L902.5 820.0 L904.0 820.0 L905.5 820.0 L907.0 820.0" stroke="#ffff00"/>
<path d="M152.0 820.0 L153.5 820.0 L155.0 820.0 L156.5 820.0 L158.0 820.0 L159.5 820.0 L161.0 820.0 L162.5 820.0 L164.0 820.0 L165.5 820.0 L167.0 820.0 L168.5 820.0 L170.0 820.0 L171.5 820.0 L173.0 820.0 L174.5 820.0 L176.0 820.0 L177.5 820.0 L179.0 820.0 L180.5 820.0 L182.0 820.0 L183.5 820.0 L185.0 820.0 L186.5 820.0 L188.0 820.0 L189.5 820.0 L191.0 820.0 L192.5 820.0 L194.0 820.0 L195.5 820.0 L197.0 820.0 L198.5 820.0 L200.0 820.0 L201.5 820.0 L203.0 820.0 L204.5 820.0 L206.0 820.0 L207.5 820.0 L209.0 820.0 L210.5 820.0 L212.0 820.0 L213.5 820.0 L215.0 820.0 L216.5 820.0 L217.9 820.0 L219.4 819.9 L220.9 819.9 L222.4 819.8 L223.8 819.7 L225.3 819.6 L226.8 819.5 L228.2 819.4 L229.7 819.3 L231.2 819.2 L232.6 819.1 L234.1 818.9 L235.6 818.8 L237.1 818.7 L238.5 818.5 L240.0 818.4 L241.5 818.3 L243.0 818.1 L244.5 818.0 L246.0 817.8 L247.5 817.6 L249.0 817.4 L250.5 817.2 L252.0 817.0 L253.5 816.8 L255.0 816.5 L256.5 816.2 L258.0 815.9 L259.5 815.6 L261.0 815.3 L262.4 814.9 L263.8 814.4 L265.2 813.8 L266.6 813.2 L268.0 812.5 L269.4 811.9 L270.8 811.2 L272.2 810.6 L273.6 810.0 L275.1 809.5 L276.5 809.0 L278.0 808.5 L279.4 808.1 L280.9 807.6 L282.3 807.2 L283.8 806.7 L285.2 806.3 L286.7 805.8 L288.1 805.4 L289.6 804.9 L291.0 804.4 L292.5 803.8 L294.0 803.2 L295.5 802.5 L297.0 801.8 L298.5 801.1 L300.0 800.4 L301.5 799.6 L303.0 798.8 L304.5 798.0 L306.0 797.2 L307.5 796.4 L309.0 795.6 L310.5 794.8 L312.0 794.1 L313.5 793.3 L315.0 792.6 L316.4 791.8 L317.9 791.1 L319.4 790.3 L320.9 789.6 L322.3 788.9 L323.8 788.1 L325.3 787.4 L326.7 786.6 L328.2 785.9 L329.6 785.2 L331.0 784.5 L332.4 783.9 L333.8 783.2 L335.2 782.5 L336.6 781.9 L338.0 781.1 L339.4 780.4 L340.8 779.6 L342.3 778.7 L343.8 777.7 L345.3 776.7 L346.8 775.7 L348.3 774.6 L349.8 773.5 L351.3 772.3 L352.8 771.1 L354.3 769.8 L355.8 768.5 L357.3 767.1 L358.8 765.7 L360.3 764.2 L361.8 762.8 L363.2 761.5 L364.6 760.1 L366.0 758.8 L367.4 757.4 L368.8 755.9 L370.2 754.4 L371.4 753.0 L372.6 751.5 L373.8 749.9 L375.0 748.3 L376.2 746.7 L377.4 745.2 L378.6 743.9 L380.0 742.5 L381.4 741.1 L382.8 739.9 L384.2 738.7 L385.6 737.6 L387.0 736.5 L388.4 735.5 L389.8 734.5 L391.2 733.5 L392.6 732.7 L394.0 731.9 L395.4 731.3 L396.7 730.8 L397.9 730.4 L399.2 730.0 L400.4 729.7 L401.7 729.6 L403.1 729.6 L404.5 729.5 L405.9 729.5 L407.3 729.5 L408.7 729.5 L410.1 729.5 L411.6 729.5 L413.0 729.5 L414.4 729.5 L415.8 729.4 L417.2 729.4 L418.6 729.4 L420.0 729.4 L421.4 729.4 L422.9 729.4 L424.3 729.3 L425.7 729.3 L427.1 729.3 L428.6 729.2 L430.0 729.2 L431.4 729.2 L432.9 729.1 L434.3 729.1 L435.7 729.0 L437.1 728.9 L438.6 728.8 L440.0 728.8 L441.4 728.5 L442.9 727.9 L444.3 727.1 L445.7 726.1 L447.1 724.9 L448.6 723.7 L450.0 722.5 L451.0 721.5 L452.1 720.4 L453.1 719.1 L454.2 717.8 L455.2 716.3 L456.2 714.8 L457.3 713.2 L458.3 711.5 L459.4 709.9 L460.4 708.2 L461.5 706.6 L462.5 705.0 L463.4 703.7 L464.3 702.3 L465.2 700.9 L466.1 699.5 L467.0 698.1 L467.9 696.6 L468.8 695.2 L469.6 693.7 L470.5 692.3 L471.4 690.8 L472.3 689.3 L473.2 687.9 L474.1 686.4 L475.0 685.0 L475.9 683.6 L476.8 682.1 L477.7 680.6 L478.6 679.1 L479.5 677.6 L480.4 676.1 L481.2 674.6 L482.1 673.1 L483.0 671.6 L483.9 670.2 L484.8 668.8 L485.7 667.5 L486.6 666.2 L487.5 665.0 L488.8 663.3 L490.0 661.7 L491.2 660.0 L492.5 658.5 L493.8 657.0 L495.0 655.7 L496.2 654.6 L497.5 653.8 L499.0 652.9 L500.5 652.1 L502.0 651.4 L503.5 650.9 L505.0 650.8 L506.5 650.9 L508.0 651.4 L509.5 652.0 L511.0 652.9 L512.5 653.8 L513.5 654.4 L514.4 655.3 L515.4 656.4 L516.3 657.7 L517.3 659.1 L518.3 660.6 L519.2 662.2 L520.2 663.9 L521.2 665.6 L522.1 667.3 L523.1 669.1 L524.0 670.8 L525.0 672.5 L525.7 673.8 L526.5 675.1 L527.2 676.5 L527.9 677.8 L528.7 679.3 L529.4 680.7 L530.1 682.2 L530.9 683.7 L531.6 685.2 L532.4 686.7 L533.1 688.2 L533.8 689.8 L534.6 691.3 L535.3 692.9 L536.0 694.4 L536.8 696.0 L537.5 697.5 L538.2 698.9 L538.8 700.3 L539.5 701.7 L540.1 703.1 L540.8 704.5 L541.4 705.9 L542.1 707.3 L542.8 708.8 L543.4 710.2 L544.1 711.7 L544.7 713.1 L545.4 714.6 L546.1 716.0 L546.7 717.5 L547.4 719.0 L548.0 720.5 L548.7 722.0 L549.3 723.5 L550.0 725.0 L550.6 726.5 L551.2 727.9 L551.9 729.4 L552.5 731.0 L553.1 732.5 L553.8 734.1 L554.4 735.6 L555.0 737.2 L555.6 738.8 L556.2 740.4 L556.9 741.9 L557.5 743.5 L558.1 745.0 L558.8 746.5 L559.4 748.0 L560.0 749.5 L560.6 750.9 L561.2 752.3 L561.9 753.7 L562.5 755.0 L563.3 756.7 L564.2 758.4 L565.0 760.0 L565.8 761.6 L566.7 763.2 L567.5 764.7 L568.3 766.3 L569.2 767.7 L570.0 769.2 L570.8 770.7 L571.7 772.1 L572.5 773.5 L573.3 774.8 L574.2 776.2 L575.0 777.5 L576.0 779.1 L577.1 780.7 L578.1 782.3 L579.2 783.9 L580.2 785.4 L581.2 786.9 L582.3 788.3 L583.3 789.8 L584.4 791.1 L585.4 792.5 L586.5 793.8 L587.5 795.0 L588.9 796.6 L590.3 798.2 L591.7 799.8 L593.1 801.3 L594.4 802.7 L595.8 804.1 L597.2 805.4 L598.6 806.5 L600.0 807.5 L601.4 808.4 L602.8 809.2 L604.2 810.0 L605.6 810.7 L606.9 811.4 L608.3 812.1 L609.7 812.7 L611.1 813.2 L612.5 813.8 L613.9 814.3 L615.3 814.8 L616.7 815.3 L618.1 815.7 L619.4 816.2 L620.8 816.6 L622.2 816.9 L623.6 817.2 L625.0 817.5 L626.5 817.7 L627.9 818.0 L629.4 818.2 L630.9 818.4 L632.4 818.6 L633.8 818.8 L635.3 819.0 L636.8 819.2 L638.2 819.3 L639.7 819.5 L641.2 819.6 L642.6 819.7 L644.1 819.8 L645.6 819.9 L647.1 820.0 L648.5 820.0 L650.0 820.0 L651.5 820.0 L653.0 820.0 L654.5 820.0 L656.0 820.0 L657.5 820.0 L659.0 820.0 L660.5 820.0 L662.0 820.0 L663.4 820.0 L664.9 820.0 L666.4 820.0 L667.9 820.0 L669.4 820.0 L670.9 820.0 L672.4 820.0 L673.9 820.0 L675.4 820.0 L676.9 820.0 L678.4 820.0 L679.9 820.0 L681.4 820.0 L682.9 820.0 L684.4 820.0 L685.9 820.0 L687.4 820.0 L688.8 820.0 L690.3 820.0 L691.8 820.0 L693.3 820.0 L694.8 820.0 L696.3 820.0 L697.8 820.0 L699.3 820.0 L700.8 820.0 L702.3 820.0 L703.8 820.0 L705.3 820.0 L706.8 820.0 L708.3 820.0 L709.8 820.0 L711.3 820.0 L712.8 820.0 L714.2 820.0 L715.7 820.0 L717.2 820.0 L718.7 820.0 L720.2 820.0 L721.7 820.0 L723.2 820.0 L724.7 820.0 L726.2 820.0 L727.7 820.0 L729.2 820.0 L730.7 820.0 L732.2 820.0 L733.7 820.0 L735.2 820.0 L736.7 820.0 L738.2 820.0 L739.7 820.0 L741.1 820.0 L742.6 820.0 L744.1 820.0 L745.6 820.0 L747.1 820.0 L748.6 820.0 L750.1 820.0 L751.6 820.0 L753.1 820.0 L754.6 820.0 L756.1 820.0 L757.6 820.0 L759.1 820.0 L760.6 820.0 L762.1 820.0 L763.6 820.0 L765.1 820.0 L766.5 820.0 L768.0 820.0 L769.5 820.0 L771.0 820.0 L772.5 820.0 L774.0 820.0 L775.5 820.0 L777.0 820.0 L778.5 820.0 L780.0 820.0 L781.5 820.0 L783.0 820.0 L784.5 820.0 L786.0 820.0 L787.5 820.0 L789.0 820.0 L790.5 820.0 L791.9 820.0 L793.4 820.0 L794.9 820.0 L796.4 820.0 L797.9 820.0 L799.4 820.0 L800.9 820.0 L802.4 820.0 L803.9 820.0 L805.4 820.0 L806.9 820.0 L808.4 820.0 L809.9 820.0 L811.4 820.0 L812.9 820.0 L814.4 820.0 L815.9 820.0 L817.3 820.0 L818.8 820.0 L820.3 820.0 L821.8 820.0 L823.3 820.0 L824.8 820.0 L826.3 820.0 L827.8 820.0 L829.3 820.0 L830.8 820.0 L832.3 820.0 L833.8 820.0 L835.3 820.0 L836.8 820.0 L838.3 820.0 L839.8 820.0 L841.3 820.0 L842.8 820.0 L844.2 820.0 L845.7 820.0 L847.2 820.0 L848.7 820.0 L850.2 820.0 L851.7 820.0 L853.2 820.0 L854.7 820.0 L856.2 820.0 L857.7 820.0 L859.2 820.0 L860.7 820.0 L862.2 820.0 L863.7 820.0 L865.2 820.0 L866.7 820.0 L868.2 820.0 L869.6 820.0 L871.1 820.0 L872.6 820.0 L874.1 820.0 L875.6 820.0 L877.1 820.0 L878.6 820.0 L880.1 820.0 L881.6 820.0 L883.1 820.0 L884.6 820.0 L886.1 820.0 L887.6 820.0 L889.1 820.0 L890.6 820.0 L892.1 820.0 L893.6 820.0 L895.0 820.0 L896.5 820.0 L898.0 820.0 L899.5 820.0 L901.0 820.0 L902.5 820.0 L904.0 820.0 L905.5 820.0 L907.0 820.0" stroke="#bebebe"/>
<path d="M152.0 820.0 L153.5 820.0 L155.0 820.0 L156.5 820.0 L158.0 820.0 L159.5 820.0 L161.0 820.0 L162.5 820.0 L164.0 820.0 L165.5 820.0 L167.0 820.0 L168.5 820.0 L170.0 820.0 L171.5 820.0 L173.0 820.0 L174.5 820.0 L176.0 820.0 L177.5 820.0 L179.0 820.0 L180.5 820.0 L182.0 820.0 L183.5 820.0 L185.0 820.0 L186.5 820.0 L188.0 820.0 L189.5 820.0 L191.0 820.0 L192.5 820.0 L194.0 820.0 L195.5 820.0 L197.0 820.0 L198.5 820.0 L200.0 820.0 L201.5 820.0 L203.0 820.0 L204.5 820.0 L206.0 820.0 L207.5 820.0 L209.0 820.0 L210.5 820.0 L212.0 820.0 L213.5 820.0 L215.0 820.0 L216.5 820.0 L218.0 820.0 L219.5 820.0 L221.0 820.0 L222.5 820.0 L224.0 820.0 L225.5 820.0 L227.0 820.0 L228.5 820.0 L230.0 820.0 L231.5 820.0 L233.0 820.0 L234.5 820.0 L236.0 820.0 L237.5 820.0 L239.0 820.0 L240.5 820.0 L242.0 820.0 L243.5 820.0 L245.0 820.0 L246.5 820.0 L248.0 820.0 L249.5 820.0 L251.0 820.0 L252.5 820.0 L254.0 820.0 L255.5 820.0 L257.0 820.0 L258.5 820.0 L260.0 820.0 L261.5 820.0 L263.0 820.0 L264.5 820.0 L266.0 820.0 L267.5 820.0 L269.0 820.0 L270.5 820.0 L272.0 820.0 L273.5 820.0 L275.0 820.0 L276.5 820.0 L278.0 820.0 L279.5 820.0 L281.0 820.0 L282.5 820.0 L284.0 820.0 L285.5 820.0 L287.0 820.0 L288.5 820.0 L290.0 820.0 L291.5 820.0 L293.0 820.0 L294.5 820.0 L296.0 820.0 L297.5 820.0 L299.0 820.0 L300.5 820.0 L302.0 820.0 L303.5 820.0 L305.0 820.0 L306.5 820.0 L308.0 820.0 L309.5 820.0 L311.0 820.0 L312.5 820.0 L314.0 820.0 L315.5 820.0 L317.0 820.0 L318.5 820.0 L320.0 820.0 L321.5 820.0 L323.0 820.0 L324.5 820.0 L326.0 820.0 L327.5 820.0 L329.0 820.0 L330.5 820.0 L332.0 820.0 L333.5 820.0 L335.0 820.0 L336.5 820.0 L338.0 820.0 L339.5 820.0 L341.0 820.0 L342.5 820.0 L344.0 820.0 L345.5 820.0 L347.0 820.0 L348.5 820.0 L350.0 820.0 L351.5 820.0 L353.0 820.0 L354.5 819.9 L356.0 819.9 L357.5 819.8 L359.0 819.7 L360.5 819.6 L362.0 819.5 L363.5 819.4 L365.0 819.3 L366.5 819.1 L368.0 819.0 L369.5 818.8 L371.0 818.7 L372.5 818.5 L374.0 818.3 L375.5 818.1 L377.0 817.9 L378.5 817.7 L380.0 817.5 L381.4 817.3 L382.9 816.9 L384.3 816.5 L385.7 816.1 L387.1 815.6 L388.6 815.1 L390.0 814.5 L391.4 813.9 L392.9 813.2 L394.3 812.6 L395.7 811.9 L397.1 811.3 L398.6 810.6 L400.0 810.0 L401.5 809.4 L403.0 808.7 L404.5 808.1 L406.0 807.4 L407.5 806.7 L409.0 806.0 L410.5 805.2 L412.0 804.4 L413.5 803.5 L415.0 802.5 L416.5 801.4 L418.0 800.2 L419.5 798.9 L421.0 797.5 L422.5 796.0 L424.0 794.4 L425.5 792.8 L427.0 791.0 L428.5 789.3 L430.0 787.5 L431.0 786.3 L432.0 785.0 L433.0 783.6 L434.0 782.1 L435.0 780.7 L436.0 779.1 L437.0 777.6 L438.0 776.0 L439.0 774.4 L440.0 772.8 L441.0 771.2 L442.0 769.6 L443.0 768.1 L444.0 766.5 L445.0 765.0 L446.0 763.5 L447.0 762.0 L448.0 760.5 L449.0 759.0 L450.0 757.5 L451.0 756.0 L452.0 754.5 L453.0 753.0 L454.0 751.5 L455.0 750.0 L456.0 748.5 L457.0 747.0 L458.0 745.5 L459.0 744.0 L460.0 742.5 L461.0 741.0 L462.0 739.5 L463.0 738.0 L464.0 736.5 L465.0 734.9 L466.0 733.4 L467.0 731.9 L468.0 730.4 L469.0 728.9 L470.0 727.4 L471.0 725.9 L472.0 724.4 L473.0 722.9 L474.0 721.5 L475.0 720.0 L476.0 718.5 L477.1 716.9 L478.1 715.3 L479.2 713.7 L480.2 712.1 L481.2 710.6 L482.3 709.1 L483.3 707.6 L484.4 706.2 L485.4 704.9 L486.5 703.6 L487.5 702.5 L488.9 701.1 L490.3 699.7 L491.7 698.3 L493.1 697.1 L494.4 695.9 L495.8 694.8 L497.2 693.9 L498.6 693.1 L500.0 692.5 L501.5 692.0 L503.0 691.5 L504.5 691.0 L506.0 690.6 L507.5 690.2 L509.0 689.9 L510.5 689.6 L512.0 689.4 L513.5 689.3 L515.0 689.2 L516.5 689.3 L518.0 689.5 L519.5 689.7 L521.0 690.1 L522.5 690.5 L524.0 690.9 L525.5 691.4 L527.0 691.9 L528.5 692.5 L530.0 693.0 L531.5 693.6 L533.0 694.4 L534.5 695.2 L536.0 696.2 L537.5 697.2 L539.0 698.3 L540.5 699.4 L542.0 700.5 L543.5 701.5 L545.0 702.5 L546.5 703.4 L547.9 704.4 L549.4 705.3 L550.8 706.2 L552.3 707.2 L553.8 708.1 L555.2 709.1 L556.7 710.0 L558.1 710.9 L559.6 711.9 L561.0 712.8 L562.5 713.8 L564.0 714.7 L565.4 715.6 L566.9 716.5 L568.3 717.4 L569.8 718.3 L571.2 719.2 L572.7 720.1 L574.2 721.0 L575.6 722.0 L577.1 722.9 L578.5 723.9 L580.0 725.0 L581.5 726.1 L582.9 727.3 L584.4 728.5 L585.8 729.8 L587.3 731.1 L588.8 732.5 L590.2 733.8 L591.7 735.1 L593.1 736.4 L594.6 737.7 L596.0 738.9 L597.5 740.0 L599.0 741.1 L600.5 742.2 L602.0 743.2 L603.5 744.3 L605.0 745.3 L606.5 746.2 L608.0 747.2 L609.5 748.2 L611.0 749.1 L612.5 750.0 L613.9 750.9 L615.3 751.8 L616.7 752.8 L618.1 753.8 L619.4 754.7 L620.8 755.5 L622.2 756.2 L623.6 756.7 L625.0 757.0 L626.4 757.2 L627.8 757.4 L629.2 757.5 L630.6 757.7 L631.9 757.8 L633.3 757.9 L634.7 757.9 L636.1 758.0 L637.5 758.0 L638.9 758.0 L640.3 757.9 L641.7 757.8 L643.1 757.6 L644.4 757.4 L645.8 757.2 L647.2 757.0 L648.6 756.7 L650.0 756.5 L651.5 756.2 L653.0 755.8 L654.5 755.3 L656.0 754.7 L657.5 754.1 L659.0 753.5 L660.5 752.9 L662.0 752.4 L663.5 751.9 L665.0 751.5 L666.5 751.2 L667.9 750.8 L669.4 750.5 L670.8 750.1 L672.3 749.8 L673.7 749.5 L675.2 749.3 L676.6 749.1 L678.1 748.9 L679.5 748.8 L681.0 748.8 L682.4 748.8 L683.9 749.0 L685.3 749.3 L686.8 749.7 L688.2 750.2 L689.7 750.7 L691.1 751.3 L692.6 751.9 L694.0 752.5 L695.5 753.2 L697.0 754.0 L698.5 755.0 L700.0 756.1 L701.5 757.3 L703.0 758.5 L704.5 759.8 L706.0 761.1 L707.5 762.4 L709.0 763.8 L710.4 765.0 L711.8 766.3 L713.2 767.7 L714.5 769.1 L715.9 770.5 L717.3 772.0 L718.7 773.5 L720.1 775.1 L721.5 776.6 L722.8 778.1 L724.2 779.6 L725.6 781.1 L727.0 782.5 L728.5 784.0 L730.0 785.6 L731.5 787.2 L733.0 788.7 L734.5 790.3 L736.0 791.8 L737.5 793.3 L739.0 794.8 L740.5 796.2 L742.0 797.5 L743.5 798.8 L745.0 800.1 L746.5 801.3 L748.0 802.6 L749.5 803.8 L751.0 804.9 L752.5 806.0 L754.0 807.0 L755.5 807.9 L757.0 808.8 L758.5 809.5 L760.0 810.2 L761.5 810.8 L763.0 811.5 L764.5 812.0 L766.0 812.6 L767.5 813.1 L769.0 813.6 L770.5 814.1 L772.0 814.5 L773.5 814.9 L775.0 815.3 L776.5 815.7 L778.0 816.1 L779.5 816.5 L781.0 816.8 L782.5 817.1 L784.0 817.4 L785.5 817.7 L787.0 818.0 L788.5 818.3 L790.0 818.5 L791.5 818.8 L793.0 819.1 L794.5 819.3 L796.0 819.5 L797.5 819.7 L799.0 819.9 L800.5 820.0 L802.0 820.0 L803.5 820.0 L805.0 820.0 L806.5 820.0 L808.0 820.0 L809.5 820.0 L811.0 820.0 L812.5 820.0 L814.0 820.0 L815.5 820.0 L817.0 820.0 L818.5 820.0 L820.0 820.0 L821.5 820.0 L823.0 820.0 L824.5 820.0 L826.0 820.0 L827.5 820.0 L829.0 820.0 L830.5 820.0 L832.0 820.0 L833.5 820.0 L835.0 820.0 L836.5 820.0 L838.0 820.0 L839.5 820.0 L841.0 820.0 L842.5 820.0 L844.0 820.0 L845.5 820.0 L847.0 820.0 L848.5 820.0 L850.0 820.0 L851.5 820.0 L853.0 820.0 L854.5 820.0 L856.0 820.0 L857.5 820.0 L859.0 820.0 L860.5 820.0 L862.0 820.0 L863.5 820.0 L865.0 820.0 L866.5 820.0 L868.0 820.0 L869.5 820.0 L871.0 820.0 L872.5 820.0 L874.0 820.0 L875.5 820.0 L877.0 820.0 L878.5 820.0 L880.0 820.0 L881.5 820.0 L883.0 820.0 L884.5 820.0 L886.0 820.0 L887.5 820.0 L889.0 820.0 L890.5 820.0 L892.0 820.0 L893.5 820.0 L895.0 820.0 L896.5 820.0 L898.0 820.0 L899.5 820.0 L901.0 820.0 L902.5 820.0 L904.0 820.0 L905.5 820.0 L907.0 820.0" stroke="#ff0000" stroke-dasharray="8 4"/>
<path d="M152.0 820.0 L153.5 820.0 L155.0 820.0 L156.5 820.0 L158.0 820.0 L159.5 820.0 L161.0 820.0 L162.5 820.0 L164.0 820.0 L165.5 820.0 L167.0 820.0 L168.5 820.0 L169.9 820.0 L171.4 820.0 L172.9 820.0 L174.4 820.0 L175.9 820.0 L177.4 820.0 L178.9 820.0 L180.4 820.0 L181.9 820.0 L183.4 820.0 L184.9 820.0 L186.4 820.0 L187.9 820.0 L189.4 820.0 L190.9 820.0 L192.4 820.0 L193.9 820.0 L195.4 820.0 L196.9 820.0 L198.4 820.0 L199.9 820.0 L201.4 820.0 L202.9 820.0 L204.4 820.0 L205.8 820.0 L207.3 820.0 L208.8 820.0 L210.3 820.0 L211.8 820.0 L213.3 820.0 L214.8 820.0 L216.3 820.0 L217.8 820.0 L219.3 820.0 L220.8 820.0 L222.3 820.0 L223.8 820.0 L225.3 820.0 L226.8 820.0 L228.3 820.0 L229.8 820.0 L231.3 820.0 L232.8 820.0 L234.3 820.0 L235.8 820.0 L237.3 820.0 L238.8 820.0 L240.3 820.0 L241.7 820.0 L243.2 820.0 L244.7 820.0 L246.2 820.0 L247.7 820.0 L249.2 820.0 L250.7 820.0 L252.2 820.0 L253.7 820.0 L255.2 820.0 L256.7 820.0 L258.2 820.0 L259.7 820.0 L261.2 820.0 L262.7 820.0 L264.2 820.0 L265.7 820.0 L267.2 820.0 L268.7 820.0 L270.2 820.0 L271.7 820.0 L273.2 820.0 L274.7 820.0 L276.2 820.0 L277.6 820.0 L279.1 820.0 L280.6 820.0 L282.1 820.0 L283.6 820.0 L285.1 820.0 L286.6 820.0 L288.1 820.0 L289.6 820.0 L291.1 820.0 L292.6 820.0 L294.1 820.0 L295.6 820.0 L297.1 820.0 L298.6 820.0 L300.1 820.0 L301.6 820.0 L303.1 820.0 L304.6 820.0 L306.1 820.0 L307.6 820.0 L309.1 820.0 L310.6 820.0 L312.1 820.0 L313.5 820.0 L315.0 820.0 L316.5 820.0 L318.0 820.0 L319.5 820.0 L321.0 820.0 L322.5 820.0 L324.0 820.0 L325.5 820.0 L327.0 820.0 L328.5 820.0 L330.0 820.0 L331.4 820.0 L332.9 820.0 L334.3 819.9 L335.8 819.9 L337.2 819.8 L338.7 819.8 L340.1 819.7 L341.6 819.6 L343.0 819.5 L344.4 819.4 L345.7 819.2 L347.1 818.9 L348.4 818.6 L349.8 818.3 L351.1 817.9 L352.5 817.5 L354.0 817.0 L355.5 816.3 L357.0 815.4 L358.5 814.5 L360.0 813.5 L361.5 812.4 L363.0 811.2 L364.5 810.0 L365.8 808.8 L367.1 807.5 L368.4 806.1 L369.8 804.5 L371.1 802.9 L372.4 801.2 L373.7 799.6 L375.0 798.0 L376.2 796.5 L377.4 795.0 L378.6 793.5 L379.8 792.0 L381.0 790.4 L382.2 788.9 L383.4 787.4 L384.6 785.9 L385.8 784.4 L387.0 783.0 L388.4 781.4 L389.7 779.9 L391.1 778.3 L392.4 776.8 L393.8 775.3 L395.1 773.9 L396.4 772.5 L397.8 771.2 L399.1 769.9 L400.5 768.8 L402.0 767.5 L403.5 766.4 L405.0 765.3 L406.5 764.4 L408.0 763.5 L409.5 762.8 L411.0 762.2 L412.5 761.7 L414.0 761.1 L415.5 760.5 L417.0 759.8 L418.5 758.7 L420.0 757.5 L421.5 756.0 L423.0 754.5 L424.2 753.2 L425.4 751.9 L426.6 750.4 L427.8 748.8 L429.0 747.0 L429.8 745.7 L430.5 744.3 L431.2 742.8 L432.0 741.3 L432.8 739.6 L433.5 738.0 L434.1 736.6 L434.8 735.2 L435.4 733.7 L436.1 732.2 L436.7 730.7 L437.4 729.1 L438.0 727.5 L438.5 726.1 L439.1 724.7 L439.6 723.2 L440.1 721.7 L440.7 720.1 L441.2 718.6 L441.8 717.0 L442.2 715.6 L442.8 714.1 L443.2 712.7 L443.8 711.2 L444.2 709.7 L444.8 708.0 L445.1 706.7 L445.5 705.2 L445.9 703.7 L446.2 702.1 L446.6 700.5 L447.0 699.0 L447.4 697.5 L447.8 696.0 L448.1 694.6 L448.5 693.3 L448.9 692.0 L449.2 690.7 L449.6 689.4 L450.0 688.0 L450.4 686.6 L450.7 685.3 L451.1 683.9 L451.4 682.4 L451.8 681.0 L452.1 679.5 L452.5 678.0 L452.9 676.6 L453.2 675.1 L453.6 673.6 L453.9 672.2 L454.3 670.8 L454.6 669.4 L455.0 668.0 L455.4 666.4 L455.8 664.9 L456.2 663.3 L456.7 661.8 L457.1 660.3 L457.5 658.8 L457.9 657.3 L458.3 655.8 L458.8 654.4 L459.2 652.9 L459.6 651.4 L460.0 650.0 L460.4 648.5 L460.9 647.0 L461.3 645.5 L461.8 644.0 L462.2 642.5 L462.6 641.0 L463.1 639.6 L463.5 638.1 L464.0 636.6 L464.4 635.2 L464.9 633.7 L465.3 632.3 L465.7 630.8 L466.2 629.4 L466.6 627.9 L467.1 626.5 L467.5 625.0 L467.9 623.5 L468.4 622.0 L468.9 620.4 L469.3 618.9 L469.8 617.3 L470.2 615.8 L470.6 614.3 L471.1 612.8 L471.6 611.4 L472.0 610.0 L472.6 608.3 L473.1 606.6 L473.6 604.9 L474.2 603.2 L474.8 601.6 L475.3 600.0 L475.9 598.6 L476.4 597.2 L476.9 596.0 L477.5 595.0 L478.8 593.0 L480.0 591.1 L481.2 589.4 L482.5 587.9 L483.8 586.5 L485.0 585.3 L486.2 584.3 L487.5 583.5 L488.9 582.7 L490.3 581.8 L491.8 581.1 L493.2 580.5 L494.6 580.1 L496.0 580.0 L497.5 580.1 L499.0 580.5 L500.5 581.1 L502.0 581.8 L503.5 582.7 L505.0 583.5 L506.3 584.4 L507.6 585.4 L509.0 586.7 L510.3 588.1 L511.6 589.6 L512.5 590.8 L513.4 592.1 L514.3 593.5 L515.3 595.1 L516.2 596.7 L517.1 598.4 L518.0 600.0 L518.7 601.3 L519.4 602.6 L520.1 603.9 L520.8 605.2 L521.6 606.6 L522.3 608.0 L523.0 609.5 L523.7 611.1 L524.4 612.8 L524.9 614.0 L525.4 615.3 L525.8 616.7 L526.3 618.1 L526.8 619.6 L527.3 621.1 L527.8 622.6 L528.2 624.1 L528.7 625.7 L529.2 627.2 L529.6 628.6 L530.1 629.9 L530.5 631.3 L530.9 632.6 L531.4 634.0 L531.8 635.4 L532.3 636.8 L532.7 638.3 L533.1 639.8 L533.6 641.5 L534.0 643.2 L534.3 644.4 L534.6 645.7 L534.9 647.1 L535.2 648.6 L535.5 650.1 L535.7 651.6 L536.0 653.1 L536.3 654.7 L536.6 656.2 L536.9 657.7 L537.2 659.2 L537.5 660.7 L537.8 662.2 L538.1 663.7 L538.4 665.2 L538.7 666.7 L538.9 668.2 L539.2 669.6 L539.5 671.1 L539.8 672.5 L540.1 673.9 L540.4 675.2 L540.8 676.7 L541.1 678.2 L541.5 679.6 L541.8 680.9 L542.2 682.3 L542.5 683.6 L542.9 685.0 L543.2 686.5 L543.6 688.0 L543.9 689.3 L544.2 690.7 L544.5 692.1 L544.8 693.5 L545.1 695.0 L545.3 696.5 L545.6 698.0 L545.9 699.5 L546.2 701.0 L546.5 702.5 L546.8 704.0 L547.1 705.4 L547.3 706.9 L547.6 708.4 L547.9 709.9 L548.1 711.4 L548.4 712.8 L548.7 714.2 L548.9 715.6 L549.2 716.8 L549.6 718.5 L550.0 720.1 L550.4 721.6 L550.7 723.1 L551.1 724.6 L551.5 726.0 L551.9 727.4 L552.3 728.7 L552.7 730.0 L553.1 731.4 L553.5 732.7 L553.8 734.0 L554.2 735.3 L554.6 736.6 L555.0 738.0 L555.4 739.6 L555.9 741.1 L556.3 742.7 L556.7 744.3 L557.2 745.8 L557.6 747.4 L558.0 749.0 L558.5 750.6 L558.9 752.2 L559.3 753.7 L559.8 755.3 L560.2 756.8 L560.7 758.4 L561.1 759.9 L561.5 761.4 L562.0 762.9 L562.4 764.3 L562.8 765.8 L563.3 767.2 L563.7 768.6 L564.1 769.9 L564.6 771.2 L565.0 772.5 L565.6 774.2 L566.2 775.9 L566.8 777.6 L567.4 779.3 L567.9 780.9 L568.5 782.6 L569.1 784.2 L569.7 785.8 L570.3 787.3 L570.9 788.8 L571.5 790.2 L572.1 791.6 L572.6 792.9 L573.2 794.2 L573.8 795.4 L574.4 796.5 L575.0 797.5 L576.1 799.3 L577.2 801.0 L578.3 802.7 L579.4 804.2 L580.6 805.6 L581.7 806.9 L582.8 808.1 L583.9 809.1 L585.0 810.0 L586.5 811.1 L588.0 812.1 L589.5 813.0 L591.0 813.9 L592.5 814.7 L594.0 815.5 L595.5 816.1 L597.0 816.7 L598.5 817.1 L600.0 817.5 L601.4 817.8 L602.9 818.1 L604.3 818.3 L605.7 818.6 L607.1 818.8 L608.6 819.1 L610.0 819.3 L611.4 819.4 L612.9 819.6 L614.3 819.7 L615.7 819.9 L617.1 819.9 L618.6 820.0 L620.0 820.0 L621.5 820.0 L623.0 820.0 L624.5 820.0 L626.0 820.0 L627.5 820.0 L629.0 820.0 L630.5 820.0 L632.0 820.0 L633.5 820.0 L634.9 820.0 L636.4 820.0 L637.9 820.0 L639.4 820.0 L640.9 820.0 L642.4 820.0 L643.9 820.0 L645.4 820.0 L646.9 820.0 L648.4 820.0 L649.9 820.0 L651.4 820.0 L652.9 820.0 L654.4 820.0 L655.9 820.0 L657.4 820.0 L658.9 820.0 L660.4 820.0 L661.9 820.0 L663.3 820.0 L664.8 820.0 L666.3 820.0 L667.8 820.0 L669.3 820.0 L670.8 820.0 L672.3 820.0 L673.8 820.0 L675.3 820.0 L676.8 820.0 L678.3 820.0 L679.8 820.0 L681.3 820.0 L682.8 820.0 L684.3 820.0 L685.8 820.0 L687.3 820.0 L688.8 820.0 L690.3 820.0 L691.8 820.0 L693.2 820.0 L694.7 820.0 L696.2 820.0 L697.7 820.0 L699.2 820.0 L700.7 820.0 L702.2 820.0 L703.7 820.0 L705.2 820.0 L706.7 820.0 L708.2 820.0 L709.7 820.0 L711.2 820.0 L712.7 820.0 L714.2 820.0 L715.7 820.0 L717.2 820.0 L718.7 820.0 L720.2 820.0 L721.6 820.0 L723.1 820.0 L724.6 820.0 L726.1 820.0 L727.6 820.0 L729.1 820.0 L730.6 820.0 L732.1 820.0 L733.6 820.0 L735.1 820.0 L736.6 820.0 L738.1 820.0 L739.6 820.0 L741.1 820.0 L742.6 820.0 L744.1 820.0 L745.6 820.0 L747.1 820.0 L748.6 820.0 L750.0 820.0 L751.5 820.0 L753.0 820.0 L754.5 820.0 L756.0 820.0 L757.5 820.0 L759.0 820.0 L760.5 820.0 L762.0 820.0 L763.5 820.0 L765.0 820.0 L766.5 820.0 L768.0 820.0 L769.5 820.0 L771.0 820.0 L772.5 820.0 L774.0 820.0 L775.5 820.0 L777.0 820.0 L778.4 820.0 L779.9 820.0 L781.4 820.0 L782.9 820.0 L784.4 820.0 L785.9 820.0 L787.4 820.0 L788.9 820.0 L790.4 820.0 L791.9 820.0 L793.4 820.0 L794.9 820.0 L796.4 820.0 L797.9 820.0 L799.4 820.0 L800.9 820.0 L802.4 820.0 L803.9 820.0 L805.4 820.0 L806.8 820.0 L808.3 820.0 L809.8 820.0 L811.3 820.0 L812.8 820.0 L814.3 820.0 L815.8 820.0 L817.3 820.0 L818.8 820.0 L820.3 820.0 L821.8 820.0 L823.3 820.0 L824.8 820.0 L826.3 820.0 L827.8 820.0 L829.3 820.0 L830.8 820.0 L832.3 820.0 L833.8 820.0 L835.2 820.0 L836.7 820.0 L838.2 820.0 L839.7 820.0 L841.2 820.0 L842.7 820.0 L844.2 820.0 L845.7 820.0 L847.2 820.0 L848.7 820.0 L850.2 820.0 L851.7 820.0 L853.2 820.0 L854.7 820.0 L856.2 820.0 L857.7 820.0 L859.2 820.0 L860.7 820.0 L862.2 820.0 L863.7 820.0 L865.1 820.0 L866.6 820.0 L868.1 820.0 L869.6 820.0 L871.1 820.0 L872.6 820.0 L874.1 820.0 L875.6 820.0 L877.1 820.0 L878.6 820.0 L880.1 820.0 L881.6 820.0 L883.1 820.0 L884.6 820.0 L886.1 820.0 L887.6 820.0 L889.1 820.0 L890.6 820.0 L892.1 820.0 L893.5 820.0 L895.0 820.0 L896.5 820.0 L898.0 820.0 L899.5 820.0 L901.0 820.0 L902.5 820.0 L904.0 820.0 L905.5 820.0 L907.0 820.0" stroke="#00cd00" stroke-dasharray="8 4"/>
<path d="M152.0 820.0 L153.5 820.0 L155.0 820.0 L156.5 820.0 L158.0 820.0 L159.5 820.0 L161.0 820.0 L162.5 820.0 L164.0 820.0 L165.5 820.0 L167.0 820.0 L168.5 820.0 L170.0 820.0 L171.5 820.0 L173.0 820.0 L174.5 820.0 L176.0 820.0 L177.4 820.0 L178.9 820.0 L180.4 820.0 L181.9 820.0 L183.4 820.0 L184.9 820.0 L186.4 820.0 L187.9 820.0 L189.4 820.0 L190.9 820.0 L192.4 820.0 L193.9 820.0 L195.4 820.0 L196.9 820.0 L198.4 820.0 L199.9 820.0 L201.4 820.0 L202.9 820.0 L204.4 820.0 L205.9 820.0 L207.4 820.0 L208.9 820.0 L210.4 820.0 L211.9 820.0 L213.4 820.0 L214.9 820.0 L216.4 820.0 L217.9 820.0 L219.4 820.0 L220.9 820.0 L222.4 820.0 L223.9 820.0 L225.4 820.0 L226.9 820.0 L228.3 820.0 L229.8 820.0 L231.3 820.0 L232.8 820.0 L234.3 820.0 L235.8 820.0 L237.3 820.0 L238.8 820.0 L240.3 820.0 L241.8 820.0 L243.3 820.0 L244.8 820.0 L246.3 820.0 L247.8 820.0 L249.3 820.0 L250.8 820.0 L252.3 820.0 L253.8 820.0 L255.3 820.0 L256.8 820.0 L258.3 820.0 L259.8 820.0 L261.3 820.0 L262.8 820.0 L264.3 820.0 L265.8 820.0 L267.3 820.0 L268.8 820.0 L270.3 820.0 L271.8 820.0 L273.3 820.0 L274.8 820.0 L276.3 820.0 L277.8 820.0 L279.2 820.0 L280.7 820.0 L282.2 820.0 L283.7 820.0 L285.2 820.0 L286.7 820.0 L288.2 820.0 L289.7 820.0 L291.2 820.0 L292.7 820.0 L294.2 820.0 L295.7 820.0 L297.2 820.0 L298.7 820.0 L300.2 820.0 L301.7 820.0 L303.2 820.0 L304.7 820.0 L306.2 820.0 L307.7 820.0 L309.2 820.0 L310.7 820.0 L312.2 820.0 L313.7 820.0 L315.2 820.0 L316.7 820.0 L318.2 820.0 L319.7 820.0 L321.2 820.0 L322.7 820.0 L324.2 820.0 L325.7 820.0 L327.2 820.0 L328.7 820.0 L330.1 820.0 L331.6 820.0 L333.1 820.0 L334.6 820.0 L336.1 820.0 L337.6 820.0 L339.1 820.0 L340.6 820.0 L342.1 820.0 L343.6 820.0 L345.1 820.0 L346.6 820.0 L348.1 820.0 L349.6 820.0 L351.1 820.0 L352.6 820.0 L354.1 820.0 L355.6 820.0 L357.1 820.0 L358.6 820.0 L360.1 820.0 L361.6 820.0 L363.1 820.0 L364.6 820.0 L366.1 820.0 L367.6 820.0 L369.1 820.0 L370.6 820.0 L372.1 820.0 L373.6 820.0 L375.1 820.0 L376.6 820.0 L378.1 820.0 L379.6 820.0 L381.0 820.0 L382.5 820.0 L384.0 820.0 L385.5 820.0 L387.0 820.0 L388.5 820.0 L390.0 820.0 L391.5 820.0 L393.0 820.0 L394.5 820.0 L396.0 820.0 L397.5 820.0 L399.0 820.0 L400.5 820.0 L402.0 820.0 L403.5 820.0 L405.0 820.0 L406.5 820.0 L408.0 819.9 L409.5 819.9 L411.0 819.7 L412.5 819.6 L414.0 819.4 L415.5 819.2 L417.0 819.0 L418.5 818.5 L420.0 817.5 L421.5 816.2 L423.0 814.5 L423.6 813.7 L424.1 812.6 L424.7 811.3 L425.2 809.8 L425.8 808.1 L426.4 806.3 L426.9 804.4 L427.5 802.5 L427.8 801.3 L428.1 799.9 L428.5 798.4 L428.8 796.9 L429.1 795.3 L429.4 793.6 L429.8 792.0 L430.0 790.6 L430.3 789.3 L430.6 788.0 L430.9 786.6 L431.2 785.2 L431.4 783.6 L431.7 781.9 L432.0 780.0 L432.1 778.9 L432.3 777.6 L432.4 776.1 L432.6 774.6 L432.8 773.0 L432.9 771.4 L433.1 769.8 L433.2 768.1 L433.4 766.5 L433.5 765.0 L433.6 763.5 L433.8 762.0 L433.9 760.5 L434.1 759.0 L434.2 757.5 L434.4 756.0 L434.6 754.5 L434.7 753.0 L434.9 751.5 L435.0 750.0 L435.1 748.5 L435.3 747.0 L435.4 745.5 L435.6 744.0 L435.8 742.5 L435.9 741.0 L436.1 739.5 L436.2 738.0 L436.4 736.5 L436.5 735.0 L436.6 733.5 L436.8 732.0 L436.9 730.5 L437.1 729.0 L437.2 727.5 L437.4 726.0 L437.6 724.5 L437.7 723.0 L437.9 721.5 L438.0 720.0 L438.1 718.5 L438.3 717.0 L438.4 715.5 L438.6 714.0 L438.8 712.5 L438.9 711.0 L439.1 709.5 L439.2 708.0 L439.4 706.5 L439.5 705.0 L439.6 703.5 L439.8 702.1 L439.9 700.6 L440.1 699.2 L440.2 697.7 L440.4 696.2 L440.6 694.7 L440.7 693.2 L440.9 691.6 L441.0 690.0 L441.1 688.7 L441.2 687.3 L441.4 685.9 L441.5 684.5 L441.6 683.0 L441.7 681.5 L441.8 680.0 L441.9 678.4 L442.1 676.9 L442.2 675.4 L442.3 673.8 L442.4 672.3 L442.5 670.8 L442.6 669.3 L442.8 667.8 L442.9 666.4 L443.0 665.0 L443.1 663.5 L443.3 662.0 L443.4 660.5 L443.5 659.0 L443.7 657.5 L443.8 656.0 L443.9 654.6 L444.1 653.2 L444.2 651.7 L444.3 650.3 L444.4 648.9 L444.6 647.5 L444.7 646.1 L444.8 644.6 L445.0 643.2 L445.1 641.8 L445.2 640.4 L445.4 638.9 L445.5 637.5 L445.6 636.1 L445.8 634.6 L445.9 633.3 L446.0 631.9 L446.2 630.5 L446.3 629.1 L446.4 627.7 L446.6 626.4 L446.7 625.0 L446.8 623.6 L446.9 622.2 L447.1 620.8 L447.2 619.3 L447.3 617.9 L447.5 616.4 L447.6 614.8 L447.7 613.3 L447.9 611.7 L448.0 610.0 L448.1 608.7 L448.2 607.3 L448.3 605.9 L448.4 604.5 L448.5 603.0 L448.6 601.4 L448.7 599.9 L448.8 598.3 L448.9 596.7 L449.0 595.1 L449.1 593.5 L449.2 591.9 L449.3 590.3 L449.4 588.8 L449.5 587.2 L449.6 585.7 L449.7 584.2 L449.8 582.8 L449.9 581.4 L450.0 580.0 L450.1 578.3 L450.2 576.6 L450.4 575.0 L450.5 573.2 L450.6 571.5 L450.8 569.8 L450.9 568.1 L451.0 566.4 L451.1 564.7 L451.2 563.1 L451.4 561.5 L451.5 559.9 L451.6 558.3 L451.8 556.8 L451.9 555.3 L452.0 553.9 L452.1 552.5 L452.2 551.2 L452.4 550.0 L452.5 548.8 L452.6 547.7 L452.8 546.7 L452.9 545.8 L453.0 545.0 L453.4 542.8 L453.7 540.7 L454.1 538.7 L454.4 536.8 L454.8 535.0 L455.1 533.5 L455.4 532.3 L455.8 531.3 L456.1 530.7 L456.5 530.5 L458.0 531.4 L459.5 533.0 L460.6 534.4 L461.7 536.2 L462.8 538.1 L463.8 539.8 L464.9 541.0 L466.0 541.5 L467.5 540.8 L469.0 539.0 L469.3 538.4 L469.6 537.5 L469.9 536.4 L470.2 535.1 L470.6 533.5 L470.9 531.7 L471.2 529.7 L471.5 527.5 L471.6 526.8 L471.7 525.9 L471.8 525.0 L471.9 523.9 L471.9 522.8 L472.0 521.5 L472.1 520.2 L472.2 518.8 L472.3 517.3 L472.4 515.8 L472.5 514.2 L472.6 512.5 L472.7 510.8 L472.8 509.1 L472.9 507.4 L472.9 505.6 L473.0 503.8 L473.1 502.0 L473.2 500.3 L473.3 498.5 L473.4 496.7 L473.5 495.0 L473.6 493.3 L473.7 491.6 L473.8 490.0 L473.8 488.6 L473.9 487.2 L474.0 485.8 L474.1 484.4 L474.1 482.9 L474.2 481.5 L474.3 480.0 L474.4 478.6 L474.5 477.1 L474.5 475.6 L474.6 474.2 L474.7 472.7 L474.8 471.2 L474.8 469.7 L474.9 468.2 L475.0 466.7 L475.1 465.2 L475.2 463.7 L475.2 462.1 L475.3 460.6 L475.4 459.1 L475.5 457.6 L475.5 456.1 L475.6 454.6 L475.7 453.0 L475.8 451.5 L475.9 450.0 L475.9 448.5 L476.0 447.0 L476.1 445.5 L476.2 444.0 L476.2 442.5 L476.3 441.0 L476.4 439.5 L476.5 438.1 L476.6 436.6 L476.6 435.1 L476.7 433.7 L476.8 432.2 L476.9 430.8 L476.9 429.3 L477.0 427.9 L477.1 426.4 L477.2 424.9 L477.3 423.5 L477.3 422.0 L477.4 420.6 L477.5 419.1 L477.6 417.7 L477.6 416.2 L477.7 414.8 L477.8 413.3 L477.9 411.8 L478.0 410.4 L478.0 408.9 L478.1 407.4 L478.2 405.9 L478.3 404.5 L478.3 403.0 L478.4 401.5 L478.5 400.0 L478.6 398.5 L478.6 397.0 L478.7 395.5 L478.8 394.0 L478.9 392.4 L479.0 390.9 L479.0 389.4 L479.1 387.8 L479.2 386.3 L479.3 384.7 L479.3 383.2 L479.4 381.6 L479.5 380.0 L479.6 378.6 L479.6 377.2 L479.7 375.8 L479.8 374.3 L479.8 372.9 L479.9 371.5 L480.0 370.0 L480.0 368.6 L480.1 367.1 L480.2 365.7 L480.2 364.2 L480.3 362.7 L480.4 361.2 L480.5 359.7 L480.5 358.2 L480.6 356.7 L480.7 355.2 L480.7 353.7 L480.8 352.1 L480.9 350.6 L480.9 349.1 L481.0 347.5 L481.1 346.1 L481.1 344.7 L481.2 343.2 L481.2 341.8 L481.3 340.3 L481.4 338.8 L481.4 337.3 L481.5 335.8 L481.6 334.3 L481.6 332.7 L481.7 331.2 L481.7 329.6 L481.8 328.0 L481.9 326.5 L481.9 324.9 L482.0 323.3 L482.0 321.7 L482.1 320.2 L482.2 318.6 L482.2 317.0 L482.3 315.4 L482.3 313.8 L482.4 312.2 L482.5 310.6 L482.5 309.1 L482.6 307.5 L482.6 305.9 L482.7 304.4 L482.8 302.8 L482.8 301.3 L482.9 299.8 L483.0 298.2 L483.0 296.7 L483.1 295.2 L483.1 293.8 L483.2 292.3 L483.3 290.9 L483.3 289.4 L483.4 288.0 L483.4 286.6 L483.5 285.3 L483.6 283.9 L483.6 282.6 L483.7 281.3 L483.8 280.0 L483.8 278.3 L483.9 276.5 L484.0 274.8 L484.1 273.0 L484.2 271.2 L484.2 269.5 L484.3 267.7 L484.4 266.0 L484.5 264.2 L484.6 262.5 L484.7 260.8 L484.8 259.1 L484.8 257.4 L484.9 255.7 L485.0 254.1 L485.1 252.5 L485.2 251.0 L485.2 249.4 L485.3 247.9 L485.4 246.5 L485.5 245.1 L485.6 243.7 L485.7 242.4 L485.8 241.2 L485.8 240.0 L485.9 238.9 L486.0 237.8 L486.1 236.8 L486.2 235.9 L486.2 235.0 L486.5 232.8 L486.7 230.7 L486.9 228.5 L487.1 226.5 L487.4 224.5 L487.6 222.5 L487.8 220.7 L488.0 218.9 L488.2 217.3 L488.5 215.8 L488.7 214.5 L488.9 213.3 L489.1 212.4 L489.3 211.6 L489.6 211.0 L489.8 210.6 L490.0 210.5 L490.6 210.8 L491.2 211.7 L491.8 213.1 L492.4 215.1 L493.0 217.5 L493.1 217.9 L493.2 218.6 L493.2 219.3 L493.3 220.3 L493.4 221.4 L493.5 222.6 L493.6 223.9 L493.6 225.3 L493.7 226.9 L493.8 228.5 L493.9 230.2 L494.0 231.9 L494.0 233.7 L494.1 235.6 L494.2 237.4 L494.3 239.3 L494.4 241.2 L494.4 243.1 L494.5 244.9 L494.6 246.7 L494.7 248.5 L494.8 250.3 L494.8 251.9 L494.9 253.5 L495.0 255.0 L495.1 256.5 L495.2 258.0 L495.2 259.4 L495.3 260.9 L495.4 262.3 L495.5 263.7 L495.6 265.1 L495.7 266.5 L495.8 267.9 L495.8 269.3 L495.9 270.7 L496.0 272.1 L496.1 273.5 L496.2 274.9 L496.2 276.3 L496.3 277.7 L496.4 279.2 L496.5 280.6 L496.6 282.1 L496.7 283.6 L496.8 285.2 L496.8 286.8 L496.9 288.4 L497.0 290.0 L497.1 291.3 L497.1 292.6 L497.2 293.9 L497.3 295.1 L497.3 296.4 L497.4 297.7 L497.5 299.0 L497.5 300.4 L497.6 301.7 L497.6 303.0 L497.7 304.4 L497.8 305.8 L497.8 307.2 L497.9 308.6 L498.0 310.0 L498.0 311.5 L498.1 313.0 L498.2 314.5 L498.2 316.1 L498.3 317.7 L498.4 319.3 L498.4 321.0 L498.5 322.7 L498.6 324.5 L498.6 326.3 L498.7 328.1 L498.8 330.0 L498.8 331.1 L498.8 332.3 L498.9 333.5 L498.9 334.8 L498.9 336.2 L499.0 337.5 L499.0 339.0 L499.0 340.4 L499.1 341.9 L499.1 343.5 L499.2 345.0 L499.2 346.6 L499.2 348.2 L499.3 349.8 L499.3 351.4 L499.3 353.1 L499.4 354.7 L499.4 356.4 L499.4 358.0 L499.5 359.7 L499.5 361.3 L499.6 362.9 L499.6 364.5 L499.6 366.1 L499.7 367.6 L499.7 369.2 L499.7 370.7 L499.8 372.1 L499.8 373.6 L499.9 375.0 L499.9 376.3 L499.9 377.6 L500.0 378.8 L500.0 380.0 L500.1 381.8 L500.1 383.6 L500.2 385.3 L500.2 387.0 L500.3 388.6 L500.4 390.3 L500.4 391.8 L500.5 393.4 L500.5 394.9 L500.6 396.4 L500.6 397.8 L500.7 399.2 L500.8 400.7 L500.8 402.1 L500.9 403.4 L500.9 404.8 L501.0 406.2 L501.1 407.5 L501.1 408.8 L501.2 410.2 L501.2 411.5 L501.3 412.9 L501.4 414.2 L501.4 415.6 L501.5 416.9 L501.5 418.3 L501.6 419.7 L501.6 421.1 L501.7 422.5 L501.8 424.0 L501.8 425.4 L501.9 426.9 L501.9 428.4 L502.0 430.0 L502.1 431.4 L502.1 432.7 L502.2 434.1 L502.2 435.5 L502.3 436.8 L502.3 438.2 L502.4 439.6 L502.4 440.9 L502.5 442.3 L502.5 443.7 L502.6 445.1 L502.6 446.4 L502.7 447.8 L502.7 449.2 L502.8 450.6 L502.8 452.1 L502.9 453.5 L502.9 454.9 L503.0 456.4 L503.0 457.8 L503.1 459.3 L503.1 460.8 L503.2 462.3 L503.2 463.8 L503.3 465.3 L503.3 466.9 L503.4 468.4 L503.4 470.0 L503.5 471.6 L503.5 473.3 L503.6 474.9 L503.6 476.6 L503.7 478.3 L503.8 480.0 L503.8 481.3 L503.8 482.6 L503.9 483.9 L503.9 485.3 L503.9 486.7 L504.0 488.2 L504.0 489.6 L504.0 491.1 L504.1 492.7 L504.1 494.2 L504.2 495.8 L504.2 497.3 L504.2 498.9 L504.3 500.5 L504.3 502.1 L504.3 503.8 L504.4 505.4 L504.4 507.0 L504.4 508.6 L504.5 510.2 L504.5 511.7 L504.6 513.3 L504.6 514.9 L504.6 516.4 L504.7 517.9 L504.7 519.4 L504.7 520.8 L504.8 522.3 L504.8 523.7 L504.9 525.0 L504.9 526.3 L504.9 527.6 L505.0 528.8 L505.0 530.0 L505.1 531.8 L505.1 533.6 L505.2 535.3 L505.2 536.9 L505.3 538.5 L505.4 540.1 L505.4 541.6 L505.5 543.1 L505.5 544.6 L505.6 546.0 L505.6 547.4 L505.7 548.8 L505.8 550.1 L505.8 551.4 L505.9 552.8 L505.9 554.1 L506.0 555.4 L506.1 556.7 L506.1 558.0 L506.2 559.3 L506.2 560.6 L506.3 562.0 L506.4 563.3 L506.4 564.7 L506.5 566.1 L506.5 567.5 L506.6 568.9 L506.6 570.4 L506.7 571.9 L506.8 573.4 L506.8 575.0 L506.9 576.6 L506.9 578.3 L507.0 580.0 L507.0 581.3 L507.1 582.6 L507.1 584.0 L507.2 585.5 L507.2 587.0 L507.2 588.5 L507.3 590.1 L507.3 591.7 L507.4 593.3 L507.4 594.9 L507.5 596.6 L507.5 598.2 L507.5 599.8 L507.6 601.4 L507.6 603.0 L507.7 604.5 L507.7 606.0 L507.8 607.5 L507.8 608.9 L507.8 610.3 L507.9 611.6 L507.9 612.8 L508.0 613.9 L508.0 615.0 L508.1 616.9 L508.2 618.7 L508.2 620.4 L508.3 621.9 L508.4 623.4 L508.5 624.7 L508.6 626.0 L508.7 627.2 L508.8 628.4 L508.8 629.5 L508.9 630.6 L509.0 631.7 L509.1 632.8 L509.2 634.0 L509.2 635.2 L509.3 636.4 L509.4 637.7 L509.5 639.1 L509.6 640.6 L509.7 642.2 L509.8 643.9 L509.8 645.8 L509.9 647.8 L510.0 650.0 L510.0 650.9 L510.1 651.8 L510.1 652.9 L510.1 654.1 L510.1 655.4 L510.2 656.8 L510.2 658.3 L510.2 659.8 L510.3 661.4 L510.3 663.0 L510.3 664.7 L510.4 666.4 L510.4 668.2 L510.4 670.0 L510.4 671.8 L510.5 673.7 L510.5 675.5 L510.5 677.3 L510.6 679.1 L510.6 680.9 L510.6 682.7 L510.6 684.4 L510.7 686.1 L510.7 687.8 L510.7 689.4 L510.8 690.9 L510.8 692.4 L510.8 693.8 L510.9 695.1 L510.9 696.3 L510.9 697.4 L510.9 698.4 L511.0 699.2 L511.0 700.0 L511.1 702.5 L511.2 704.8 L511.3 707.0 L511.4 709.0 L511.6 710.9 L511.7 712.7 L511.8 714.3 L511.9 715.9 L512.0 717.4 L512.1 718.7 L512.2 720.1 L512.3 721.3 L512.4 722.5 L512.5 723.7 L512.6 724.8 L512.8 726.0 L512.9 727.1 L513.0 728.3 L513.1 729.4 L513.2 730.6 L513.3 731.9 L513.4 733.2 L513.5 734.5 L513.6 736.0 L513.8 737.5 L513.9 739.0 L514.0 740.5 L514.0 742.0 L514.1 743.6 L514.2 745.2 L514.4 746.9 L514.5 748.5 L514.5 750.2 L514.6 751.9 L514.8 753.6 L514.9 755.3 L515.0 756.9 L515.0 758.6 L515.1 760.2 L515.2 761.8 L515.4 763.4 L515.5 764.9 L515.5 766.4 L515.6 767.8 L515.8 769.2 L515.9 770.5 L516.0 771.8 L516.0 772.9 L516.1 774.0 L516.2 775.0 L516.5 777.0 L516.7 779.0 L516.9 780.9 L517.1 782.7 L517.4 784.5 L517.6 786.1 L517.8 787.7 L518.0 789.2 L518.2 790.7 L518.5 792.1 L518.7 793.4 L518.9 794.6 L519.1 795.8 L519.3 797.0 L519.6 798.0 L519.8 799.0 L520.0 800.0 L520.5 802.1 L521.0 804.1 L521.5 806.0 L522.0 807.9 L522.5 809.6 L523.0 811.1 L523.5 812.4 L524.0 813.5 L524.5 814.4 L525.0 815.0 L526.4 816.3 L527.9 817.3 L529.3 818.3 L530.7 819.0 L532.1 819.6 L533.6 819.9 L535.0 820.0 L536.5 820.0 L538.0 820.0 L539.5 820.0 L541.0 820.0 L542.5 820.0 L544.0 820.0 L545.5 820.0 L547.0 820.0 L548.5 820.0 L550.0 820.0 L551.5 820.0 L553.0 820.0 L554.5 820.0 L556.0 820.0 L557.5 820.0 L559.0 820.0 L560.5 820.0 L562.0 820.0 L563.5 820.0 L565.0 820.0 L566.5 820.0 L568.0 820.0 L569.5 820.0 L571.0 820.0 L572.5 820.0 L574.0 820.0 L575.5 820.0 L577.0 820.0 L578.5 820.0 L580.0 820.0 L581.5 820.0 L583.0 820.0 L584.5 820.0 L586.0 820.0 L587.5 820.0 L589.0 820.0 L590.5 820.0 L592.0 820.0 L593.5 820.0 L595.0 820.0 L596.5 820.0 L598.0 820.0 L599.5 820.0 L601.0 820.0 L602.5 820.0 L604.0 820.0 L605.5 820.0 L607.0 820.0 L608.5 820.0 L610.0 820.0 L611.5 820.0 L613.0 820.0 L614.5 820.0 L616.0 820.0 L617.5 820.0 L619.0 820.0 L620.5 820.0 L622.0 820.0 L623.5 820.0 L625.0 820.0 L626.5 820.0 L628.0 820.0 L629.5 820.0 L631.0 820.0 L632.5 820.0 L634.0 820.0 L635.5 820.0 L637.0 820.0 L638.5 820.0 L640.0 820.0 L641.5 820.0 L643.0 820.0 L644.5 820.0 L646.0 820.0 L647.5 820.0 L649.0 820.0 L650.5 820.0 L652.0 820.0 L653.5 820.0 L655.0 820.0 L656.5 820.0 L658.0 820.0 L659.5 820.0 L661.0 820.0 L662.5 820.0 L664.0 820.0 L665.5 820.0 L667.0 820.0 L668.5 820.0 L670.0 820.0 L671.5 820.0 L673.0 820.0 L674.5 820.0 L676.0 820.0 L677.5 820.0 L679.0 820.0 L680.5 820.0 L682.0 820.0 L683.5 820.0 L685.0 820.0 L686.5 820.0 L688.0 820.0 L689.5 820.0 L691.0 820.0 L692.5 820.0 L694.0 820.0 L695.5 820.0 L697.0 820.0 L698.5 820.0 L700.0 820.0 L701.5 820.0 L703.0 820.0 L704.5 820.0 L706.0 820.0 L707.5 820.0 L709.0 820.0 L710.5 820.0 L712.0 820.0 L713.5 820.0 L715.0 820.0 L716.5 820.0 L718.0 820.0 L719.5 820.0 L721.0 820.0 L722.5 820.0 L724.0 820.0 L725.5 820.0 L727.0 820.0 L728.5 820.0 L730.0 820.0 L731.5 820.0 L733.0 820.0 L734.5 820.0 L736.0 820.0 L737.5 820.0 L739.0 820.0 L740.5 820.0 L742.0 820.0 L743.5 820.0 L745.0 820.0 L746.5 820.0 L748.0 820.0 L749.5 820.0 L751.0 820.0 L752.5 820.0 L754.0 820.0 L755.5 820.0 L757.0 820.0 L758.5 820.0 L760.0 820.0 L761.5 820.0 L763.0 820.0 L764.5 820.0 L766.0 820.0 L767.5 820.0 L769.0 820.0 L770.5 820.0 L772.0 820.0 L773.5 820.0 L775.0 820.0 L776.5 820.0 L778.0 820.0 L779.5 820.0 L781.0 820.0 L782.5 820.0 L784.0 820.0 L785.5 820.0 L787.0 820.0 L788.5 820.0 L790.0 820.0 L791.5 820.0 L793.0 820.0 L794.5 820.0 L796.0 820.0 L797.5 820.0 L799.0 820.0 L800.5 820.0 L802.0 820.0 L803.5 820.0 L805.0 820.0 L806.5 820.0 L808.0 820.0 L809.5 820.0 L811.0 820.0 L812.5 820.0 L814.0 820.0 L815.5 820.0 L817.0 820.0 L818.5 820.0 L820.0 820.0 L821.5 820.0 L823.0 820.0 L824.5 820.0 L826.0 820.0 L827.5 820.0 L829.0 820.0 L830.5 820.0 L832.0 820.0 L833.5 820.0 L835.0 820.0 L836.5 820.0 L838.0 820.0 L839.5 820.0 L841.0 820.0 L842.5 820.0 L844.0 820.0 L845.5 820.0 L847.0 820.0 L848.5 820.0 L850.0 820.0 L851.5 820.0 L853.0 820.0 L854.5 820.0 L856.0 820.0 L857.5 820.0 L859.0 820.0 L860.5 820.0 L862.0 820.0 L863.5 820.0 L865.0 820.0 L866.5 820.0 L868.0 820.0 L869.5 820.0 L871.0 820.0 L872.5 820.0 L874.0 820.0 L875.5 820.0 L877.0 820.0 L878.5 820.0 L880.0 820.0 L881.5 820.0 L883.0 820.0 L884.5 820.0 L886.0 820.0 L887.5 820.0 L889.0 820.0 L890.5 820.0 L892.0 820.0 L893.5 820.0 L895.0 820.0 L896.5 820.0 L898.0 820.0 L899.5 820.0 L901.0 820.0 L902.5 820.0 L904.0 820.0 L905.5 820.0 L907.0 820.0" stroke="#0000ff" stroke-dasharray="8 4"/>
</g>
<g stroke="#000" stroke-width="2" fill="none" shape-rendering="crispEdges">
<rect x="122.0" y="123.0" width="815.0" height="724.0"/>
<path d="M131.0 847.0 H889.0"/>
<path d="M131.0 847.0 V863.0"/>
<path d="M321.0 847.0 V863.0"/>
<path d="M510.0 847.0 V863.0"/>
<path d="M700.0 847.0 V863.0"/>
<path d="M889.0 847.0 V863.0"/>
<path d="M122.0 820.0 V123.0"/>
<path d="M122.0 820.0 H106.0"/>
<path d="M122.0 680.0 H106.0"/>
<path d="M122.0 541.0 H106.0"/>
<path d="M122.0 402.0 H106.0"/>
<path d="M122.0 263.0 H106.0"/>
<path d="M122.0 123.0 H106.0"/>
</g>
<g font-family="'Liberation Sans', sans-serif" fill="#000">
<text x="302" y="70.5" font-size="28.5" font-weight="bold" textLength="454" lengthAdjust="spacingAndGlyphs">number read ratio ku70.G1.1/rrp6.G1.2</text>
<text x="131.0" y="900.2" font-size="24" text-anchor="middle">-10</text>
<text x="321.0" y="900.2" font-size="24" text-anchor="middle">-5</text>
<text x="510.0" y="900.2" font-size="24" text-anchor="middle">0</text>
<text x="700.0" y="900.2" font-size="24" text-anchor="middle">5</text>
<text x="889.0" y="900.2" font-size="24" text-anchor="middle">10</text>
<text transform="translate(86.5 820.0) rotate(-90)" font-size="24" text-anchor="middle">0.0</text>
<text transform="translate(86.5 680.0) rotate(-90)" font-size="24" text-anchor="middle">0.2</text>
<text transform="translate(86.5 541.0) rotate(-90)" font-size="24" text-anchor="middle">0.4</text>
<text transform="translate(86.5 402.0) rotate(-90)" font-size="24" text-anchor="middle">0.6</text>
<text transform="translate(86.5 263.0) rotate(-90)" font-size="24" text-anchor="middle">0.8</text>
<text transform="translate(86.5 123.0) rotate(-90)" font-size="24" text-anchor="middle">1.0</text>
<text x="529.9" y="960.5" font-size="24" text-anchor="middle" textLength="101.5" lengthAdjust="spacingAndGlyphs">log2 ratio</text>
<text transform="translate(25.5 484.7) rotate(-90)" font-size="24" text-anchor="middle" textLength="79.5" lengthAdjust="spacingAndGlyphs">density</text>
<path d="M144 153.0 H190" stroke="#000000" stroke-width="2" fill="none" shape-rendering="crispEdges"/>
<text transform="translate(211.8 161.7) scale(1.021 1)" font-size="24">gene (sd=0.79)</text>
<path d="M144 183.0 H190" stroke="#ff0000" stroke-width="2" fill="none" shape-rendering="crispEdges"/>
<text transform="translate(211.8 191.7) scale(1.021 1)" font-size="24">mRNA (sd=0.63)</text>
<path d="M144 213.0 H190" stroke="#00cd00" stroke-width="2" fill="none" shape-rendering="crispEdges"/>
<text transform="translate(211.8 221.7) scale(1.021 1)" font-size="24">divergent (sd=1.21)</text>
<path d="M144 243.0 H190" stroke="#0000ff" stroke-width="2" fill="none" shape-rendering="crispEdges"/>
<text transform="translate(211.8 251.7) scale(1.021 1)" font-size="24">XUT (sd=1.36)</text>
<path d="M144 273.0 H190" stroke="#00ffff" stroke-width="2" fill="none" shape-rendering="crispEdges"/>
<text transform="translate(211.8 281.7) scale(1.021 1)" font-size="24">CUT (sd=1.66)</text>
<path d="M144 303.0 H190" stroke="#ff00ff" stroke-width="2" fill="none" shape-rendering="crispEdges"/>
<text transform="translate(211.8 311.7) scale(1.021 1)" font-size="24">SUT (sd=1.09)</text>
<path d="M144 333.0 H190" stroke="#ffff00" stroke-width="2" fill="none" shape-rendering="crispEdges"/>
<text transform="translate(211.8 341.7) scale(1.021 1)" font-size="24">tRNA (sd=1.25)</text>
<path d="M144 363.0 H190" stroke="#bebebe" stroke-width="2" fill="none" shape-rendering="crispEdges"/>
<text transform="translate(211.8 371.7) scale(1.021 1)" font-size="24">snoRNA (sd=1.79)</text>
<path d="M144 393.0 H190" stroke="#ff0000" stroke-width="2" fill="none" shape-rendering="crispEdges" stroke-dasharray="8 4"/>
<text transform="translate(211.8 401.7) scale(1.021 1)" font-size="24">rRNA (sd=2.07)</text>
<path d="M144 423.0 H190" stroke="#00cd00" stroke-width="2" fill="none" shape-rendering="crispEdges" stroke-dasharray="8 4"/>
<text transform="translate(211.8 431.7) scale(1.021 1)" font-size="24">ncRNA (sd=1.08)</text>
<path d="M144 453.0 H190" stroke="#0000ff" stroke-width="2" fill="none" shape-rendering="crispEdges" stroke-dasharray="8 4"/>
<text transform="translate(211.8 461.7) scale(1.021 1)" font-size="24">snRNA (sd=0.47)</text>
</g>
</svg></body></html>
